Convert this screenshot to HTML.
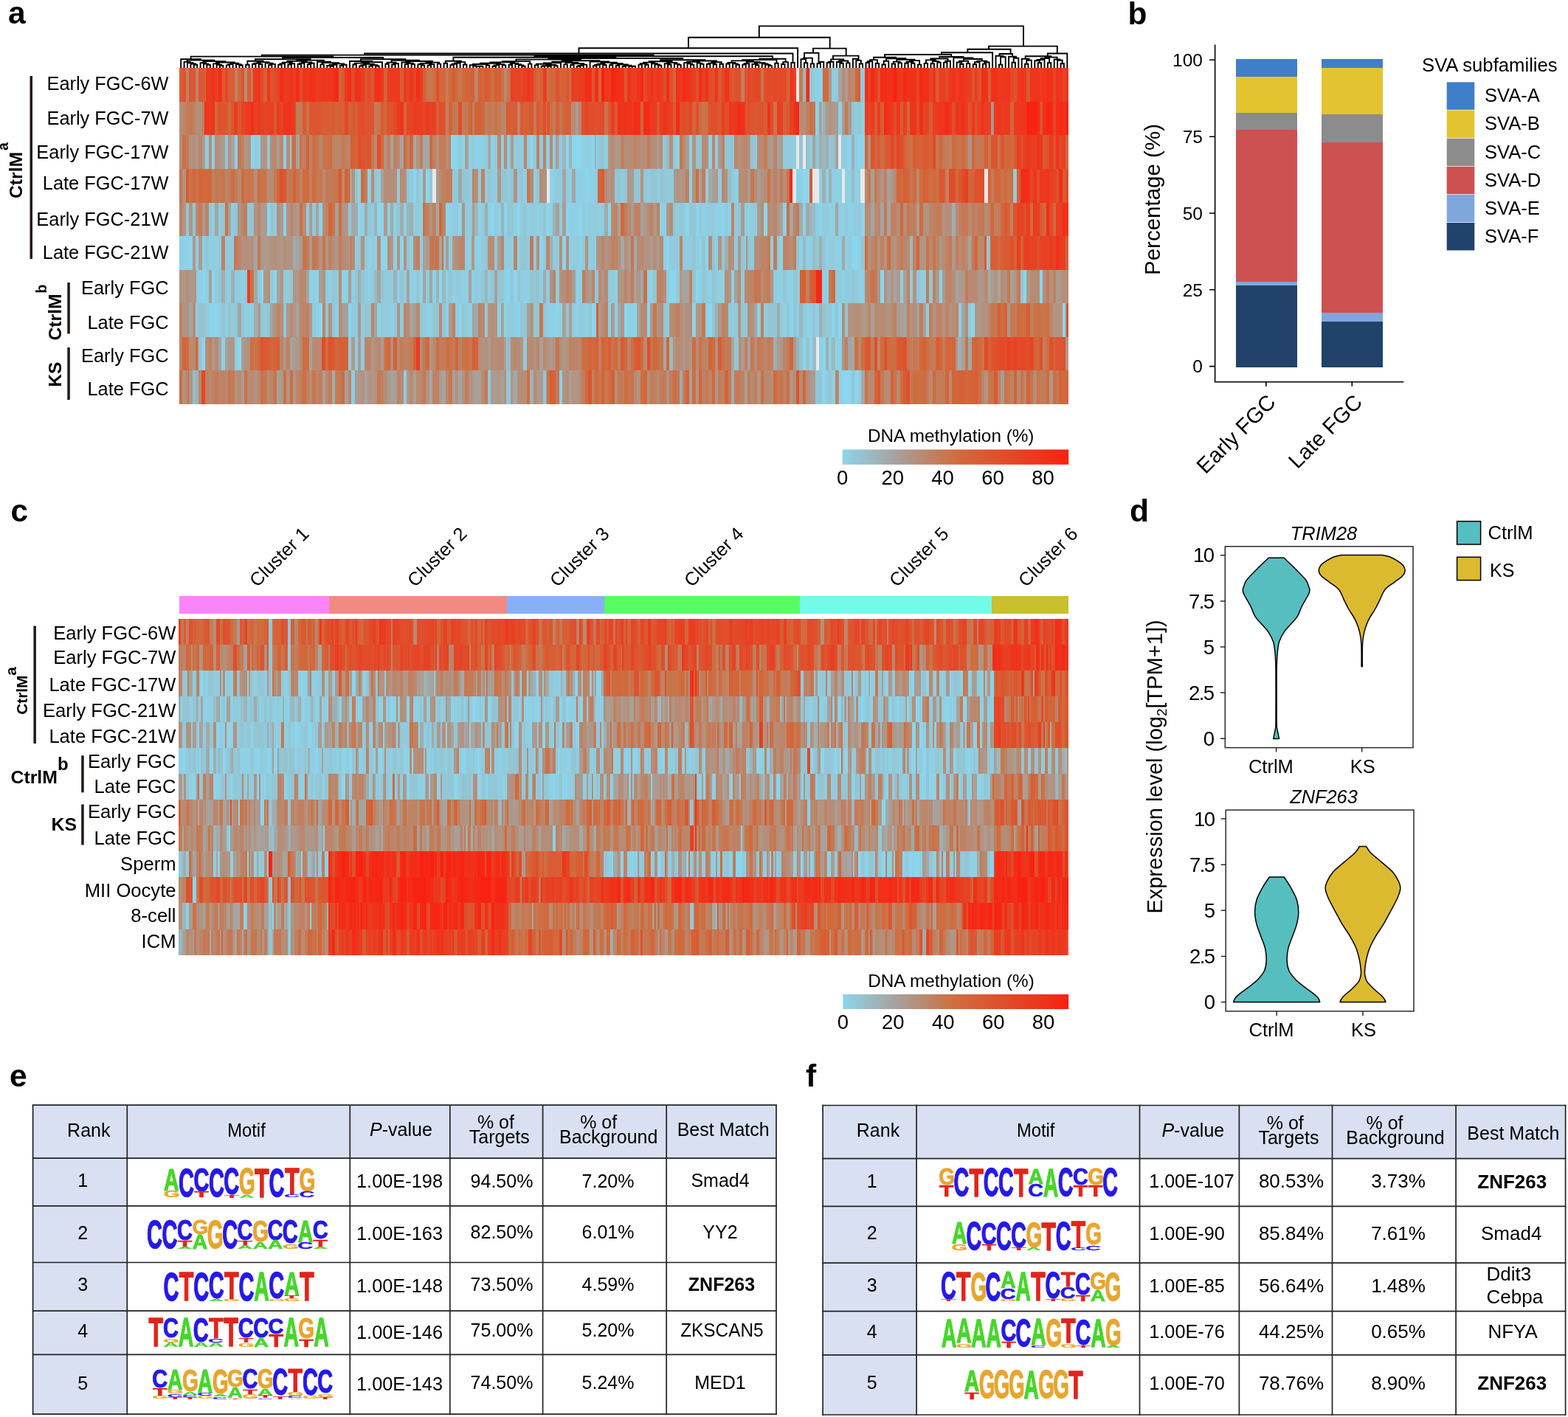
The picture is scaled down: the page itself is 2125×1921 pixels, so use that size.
<!DOCTYPE html>
<html lang="en"><head><meta charset="utf-8"><title>Figure</title><style>html,body{margin:0;padding:0;background:#fff}body{width:2125px;height:1921px;overflow:hidden}svg{display:block}text{white-space:pre}</style></head><body><svg width="2125" height="1921" viewBox="0 0 2125 1921" font-family="'Liberation Sans',Arial,sans-serif" fill="#000"><text x="11" y="32.3" font-size="42.5" font-weight="bold">a</text>
<text x="1528.5" y="32.5" font-size="42.5" font-weight="bold">b</text>
<text x="14.5" y="706.8" font-size="42.5" font-weight="bold">c</text>
<text x="1531" y="707.3" font-size="42.5" font-weight="bold">d</text>
<text x="13" y="1473.2" font-size="42.5" font-weight="bold">e</text>
<text x="1092" y="1473" font-size="42.5" font-weight="bold">f</text>
<defs><filter id="hbA" filterUnits="userSpaceOnUse" x="236" y="86" width="1220" height="468" color-interpolation-filters="sRGB"><feGaussianBlur stdDeviation="0.55 0.4"/></filter><filter id="hbC" filterUnits="userSpaceOnUse" x="236" y="832" width="1220" height="470" color-interpolation-filters="sRGB"><feGaussianBlur stdDeviation="0.55 0.4"/></filter></defs>
<path d="M262.8 92.3V87.8M267.2 92.3V87.8M262.8 87.8H267.2M258.4 92.3V86.5M265 87.8V86.5M258.4 86.5H265M254 92.3V85.2M261.7 86.5V85.2M254 85.2H261.7M249.6 92.3V83.9M257.8 85.2V83.9M249.6 83.9H257.8M280.4 92.3V87.9M284.8 92.3V87.9M280.4 87.9H284.8M276 92.3V86.6M282.6 87.9V86.6M276 86.6H282.6M271.6 92.3V85.3M279.3 86.6V85.3M271.6 85.3H279.3M298 92.3V89M302.4 92.3V89M298 89H302.4M293.6 92.3V87.7M300.2 89V87.7M293.6 87.7H300.2M289.2 92.3V86.4M296.9 87.7V86.4M289.2 86.4H296.9M306.8 92.3V88.4M311.2 92.3V88.4M306.8 88.4H311.2M309 88.4V87.1M315.6 92.3V87.1M309 87.1H315.6M324.4 92.3V88.5M328.8 92.3V88.5M324.4 88.5H328.8M320 92.3V87.2M326.6 88.5V87.2M320 87.2H326.6M312.3 87.1V85.8M323.3 87.2V85.8M312.3 85.8H323.3M293 86.4V84.5M317.8 85.8V84.5M293 84.5H317.8M275.4 85.3V83.1M305.4 84.5V83.1M275.4 83.1H305.4M253.7 83.9V81.6M290.4 83.1V81.6M253.7 81.6H290.4M245.2 92.3V80.3M272.1 81.6V80.3M245.2 80.3H272.1M333.2 92.3V87.7M337.6 92.3V87.7M333.2 87.7H337.6M342 92.3V87M346.4 92.3V87M342 87H346.4M350.8 92.3V87M355.2 92.3V87M350.8 87H355.2M344.2 87V85.7M353 87V85.7M344.2 85.7H353M364 92.3V88.2M368.4 92.3V88.2M364 88.2H368.4M366.2 88.2V86.9M372.8 92.3V86.9M366.2 86.9H372.8M359.6 92.3V85.6M369.5 86.9V85.6M359.6 85.6H369.5M348.6 85.7V84.1M364.5 85.6V84.1M348.6 84.1H364.5M335.4 87.7V82.8M356.6 84.1V82.8M335.4 82.8H356.6M377.2 92.3V87.7M381.6 92.3V87.7M377.2 87.7H381.6M379.4 87.7V86.4M386 92.3V86.4M379.4 86.4H386M390.4 92.3V87.5M394.8 92.3V87.5M390.4 87.5H394.8M392.6 87.5V86.2M399.2 92.3V86.2M392.6 86.2H399.2M382.7 86.4V84.6M395.9 86.2V84.6M382.7 84.6H395.9M403.6 92.3V87M408 92.3V87M403.6 87H408M405.8 87V85.7M412.4 92.3V85.7M405.8 85.7H412.4M416.8 92.3V87.3M421.2 92.3V87.3M416.8 87.3H421.2M419 87.3V85.8M425.6 92.3V85.8M419 85.8H425.6M409.1 85.7V84.4M422.3 85.8V84.4M409.1 84.4H422.3M389.3 84.6V82.9M415.7 84.4V82.9M389.3 82.9H415.7M434.4 92.3V87.4M438.8 92.3V87.4M434.4 87.4H438.8M447.6 92.3V89.7M452 92.3V89.7M447.6 89.7H452M443.2 92.3V89M449.8 89.7V89M443.2 89H449.8M446.5 89V87.7M456.4 92.3V87.7M446.5 87.7H456.4M460.8 92.3V89M465.2 92.3V89M460.8 89H465.2M463 89V87.7M469.6 92.3V87.7M463 87.7H469.6M451.4 87.7V86.4M466.3 87.7V86.4M451.4 86.4H466.3M436.6 87.4V85.1M458.9 86.4V85.1M436.6 85.1H458.9M430 92.3V83.8M447.7 85.1V83.8M430 83.8H447.7M402.5 82.9V81.6M438.9 83.8V81.6M402.5 81.6H438.9M346 82.8V80.3M420.7 81.6V80.3M346 80.3H420.7M478.4 92.3V87.5M482.8 92.3V87.5M478.4 87.5H482.8M487.2 92.3V89.5M491.6 92.3V89.5M487.2 89.5H491.6M489.4 89.5V88.2M496 92.3V88.2M489.4 88.2H496M500.4 92.3V89.5M504.8 92.3V89.5M500.4 89.5H504.8M509.2 92.3V89.5M513.6 92.3V89.5M509.2 89.5H513.6M502.6 89.5V88.2M511.4 89.5V88.2M502.6 88.2H511.4M492.7 88.2V86.9M507 88.2V86.9M492.7 86.9H507M480.6 87.5V85.6M499.8 86.9V85.6M480.6 85.6H499.8M490.2 85.6V84.3M518 92.3V84.3M490.2 84.3H518M474 92.3V83M504.1 84.3V83M474 83H504.1M522.4 92.3V86.7M526.8 92.3V86.7M522.4 86.7H526.8M531.2 92.3V87.5M535.6 92.3V87.5M531.2 87.5H535.6M533.4 87.5V86.2M540 92.3V86.2M533.4 86.2H540M524.6 86.7V84.6M536.7 86.2V84.6M524.6 84.6H536.7M548.8 92.3V87.1M553.2 92.3V87.1M548.8 87.1H553.2M557.6 92.3V87.1M562 92.3V87.1M557.6 87.1H562M551 87.1V85.8M559.8 87.1V85.8M551 85.8H559.8M544.4 92.3V84.5M555.4 85.8V84.5M544.4 84.5H555.4M570.8 92.3V88.5M575.2 92.3V88.5M570.8 88.5H575.2M566.4 92.3V87.2M573 88.5V87.2M566.4 87.2H573M579.6 92.3V88.6M584 92.3V88.6M579.6 88.6H584M581.8 88.6V87.3M588.4 92.3V87.3M581.8 87.3H588.4M569.7 87.2V85.9M585.1 87.3V85.9M569.7 85.9H585.1M592.8 92.3V86.6M597.2 92.3V86.6M592.8 86.6H597.2M577.4 85.9V84.6M595 86.6V84.6M577.4 84.6H595M549.9 84.5V83M586.2 84.6V83M549.9 83H586.2M530.6 84.6V81.7M568 83V81.7M530.6 81.7H568M489 83V80.2M549.3 81.7V80.2M489 80.2H549.3M383.3 80.3V78M519.2 80.2V78M383.3 78H519.2M258.6 80.3V76.6M451.3 78V76.6M258.6 76.6H451.3M601.6 92.3V85.7M606 92.3V85.7M601.6 85.7H606M610.4 92.3V88.1M614.8 92.3V88.1M610.4 88.1H614.8M612.6 88.1V86.8M619.2 92.3V86.8M612.6 86.8H619.2M615.9 86.8V85.5M623.6 92.3V85.5M615.9 85.5H623.6M628 92.3V87.5M632.4 92.3V87.5M628 87.5H632.4M619.7 85.5V84.1M630.2 87.5V84.1M619.7 84.1H630.2M603.8 85.7V82.8M624.9 84.1V82.8M603.8 82.8H624.9M650 92.3V89.7M654.4 92.3V89.7M650 89.7H654.4M645.6 92.3V89.7M652.2 89.7V89.7M645.6 89.7H652.2M641.2 92.3V89.6M648.9 89.7V89.6M641.2 89.6H648.9M636.8 92.3V88.3M645 89.6V88.3M636.8 88.3H645M658.8 92.3V88.5M663.2 92.3V88.5M658.8 88.5H663.2M640.9 88.3V87M661 88.5V87M640.9 87H661M667.6 92.3V89.7M672 92.3V89.7M667.6 89.7H672M669.8 89.7V88.4M676.4 92.3V88.4M669.8 88.4H676.4M680.8 92.3V88.4M685.2 92.3V88.4M680.8 88.4H685.2M673.1 88.4V87.1M683 88.4V87.1M673.1 87.1H683M650.9 87V85.7M678 87.1V85.7M650.9 85.7H678M689.6 92.3V87.7M694 92.3V87.7M689.6 87.7H694M707.2 92.3V89.7M711.6 92.3V89.7M707.2 89.7H711.6M702.8 92.3V88.4M709.4 89.7V88.4M702.8 88.4H709.4M698.4 92.3V87.1M706.1 88.4V87.1M698.4 87.1H706.1M691.8 87.7V85.8M702.2 87.1V85.8M691.8 85.8H702.2M664.5 85.7V84.4M697 85.8V84.4M664.5 84.4H697M716 92.3V86.6M720.4 92.3V86.6M716 86.6H720.4M680.7 84.4V83.1M718.2 86.6V83.1M680.7 83.1H718.2M724.8 92.3V88.4M729.2 92.3V88.4M724.8 88.4H729.2M733.6 92.3V89.7M738 92.3V89.7M733.6 89.7H738M742.4 92.3V89.7M746.8 92.3V89.7M742.4 89.7H746.8M735.8 89.7V89.3M744.6 89.7V89.3M735.8 89.3H744.6M751.2 92.3V89.3M755.6 92.3V89.3M751.2 89.3H755.6M740.2 89.3V88M753.4 89.3V88M740.2 88H753.4M727 88.4V86.7M746.8 88V86.7M727 86.7H746.8M736.9 86.7V85.4M760 92.3V85.4M736.9 85.4H760M764.4 92.3V87.4M768.8 92.3V87.4M764.4 87.4H768.8M773.2 92.3V88M777.6 92.3V88M773.2 88H777.6M782 92.3V89.7M786.4 92.3V89.7M782 89.7H786.4M784.2 89.7V88.9M790.8 92.3V88.9M784.2 88.9H790.8M787.5 88.9V87.6M795.2 92.3V87.6M787.5 87.6H795.2M775.4 88V86.3M791.3 87.6V86.3M775.4 86.3H791.3M766.6 87.4V85M783.3 86.3V85M766.6 85H783.3M748.4 85.4V83.7M774.9 85V83.7M748.4 83.7H774.9M804 92.3V89.3M808.4 92.3V89.3M804 89.3H808.4M806.2 89.3V88M812.8 92.3V88M806.2 88H812.8M817.2 92.3V88M821.6 92.3V88M817.2 88H821.6M809.5 88V86.7M819.4 88V86.7M809.5 86.7H819.4M826 92.3V88.2M830.4 92.3V88.2M826 88.2H830.4M834.8 92.3V88.7M839.2 92.3V88.7M834.8 88.7H839.2M843.6 92.3V89.7M847.9 92.3V89.7M843.6 89.7H847.9M856.7 92.3V89.7M861.1 92.3V89.7M856.7 89.7H861.1M852.3 92.3V89.7M858.9 89.7V89.7M852.3 89.7H858.9M845.8 89.7V88.7M855.6 89.7V88.7M845.8 88.7H855.6M837 88.7V87.4M850.7 88.7V87.4M837 87.4H850.7M828.2 88.2V86.1M843.8 87.4V86.1M828.2 86.1H843.8M814.4 86.7V84.8M836 86.1V84.8M814.4 84.8H836M799.6 92.3V83.5M825.2 84.8V83.5M799.6 83.5H825.2M761.7 83.7V82.2M812.4 83.5V82.2M761.7 82.2H812.4M699.4 83.1V80.6M787 82.2V80.6M699.4 80.6H787M865.5 92.3V87.6M869.9 92.3V87.6M865.5 87.6H869.9M874.3 92.3V87.8M878.7 92.3V87.8M874.3 87.8H878.7M867.7 87.6V86.3M876.5 87.8V86.3M867.7 86.3H876.5M891.9 92.3V88.8M896.3 92.3V88.8M891.9 88.8H896.3M887.5 92.3V87.5M894.1 88.8V87.5M887.5 87.5H894.1M883.1 92.3V86.2M890.8 87.5V86.2M883.1 86.2H890.8M872.1 86.3V84.6M887 86.2V84.6M872.1 84.6H887M905.1 92.3V87.5M909.5 92.3V87.5M905.1 87.5H909.5M900.7 92.3V86.2M907.3 87.5V86.2M900.7 86.2H907.3M918.3 92.3V87.9M922.7 92.3V87.9M918.3 87.9H922.7M913.9 92.3V86.6M920.5 87.9V86.6M913.9 86.6H920.5M904 86.2V84.9M917.2 86.6V84.9M904 84.9H917.2M879.6 84.6V83.3M910.6 84.9V83.3M879.6 83.3H910.6M935.9 92.3V87.7M940.3 92.3V87.7M935.9 87.7H940.3M931.5 92.3V86.4M938.1 87.7V86.4M931.5 86.4H938.1M927.1 92.3V85.1M934.8 86.4V85.1M927.1 85.1H934.8M949.1 92.3V86.9M953.5 92.3V86.9M949.1 86.9H953.5M944.7 92.3V85.6M951.3 86.9V85.6M944.7 85.6H951.3M931 85.1V83.8M948 85.6V83.8M931 83.8H948M957.9 92.3V86.9M962.3 92.3V86.9M957.9 86.9H962.3M966.7 92.3V87.2M971.1 92.3V87.2M966.7 87.2H971.1M960.1 86.9V85.6M968.9 87.2V85.6M960.1 85.6H968.9M975.5 92.3V86.7M979.9 92.3V86.7M975.5 86.7H979.9M964.5 85.6V84.3M977.7 86.7V84.3M964.5 84.3H977.7M939.5 83.8V82.5M971.1 84.3V82.5M939.5 82.5H971.1M895.1 83.3V81.2M955.3 82.5V81.2M895.1 81.2H955.3M743.2 80.6V79.1M925.2 81.2V79.1M743.2 79.1H925.2M614.4 82.8V77.8M834.2 79.1V77.8M614.4 77.8H834.2M984.3 92.3V86.5M988.7 92.3V86.5M984.3 86.5H988.7M997.5 92.3V87.7M1001.9 92.3V87.7M997.5 87.7H1001.9M993.1 92.3V86.4M999.7 87.7V86.4M993.1 86.4H999.7M986.5 86.5V85M996.4 86.4V85M986.5 85H996.4M1006.3 92.3V87.6M1010.7 92.3V87.6M1006.3 87.6H1010.7M1008.5 87.6V86.3M1015.1 92.3V86.3M1008.5 86.3H1015.1M1023.9 92.3V88.2M1028.3 92.3V88.2M1023.9 88.2H1028.3M1019.5 92.3V86.9M1026.1 88.2V86.9M1019.5 86.9H1026.1M1041.5 92.3V89.1M1045.9 92.3V89.1M1041.5 89.1H1045.9M1037.1 92.3V87.8M1043.7 89.1V87.8M1037.1 87.8H1043.7M1032.7 92.3V86.5M1040.4 87.8V86.5M1032.7 86.5H1040.4M1022.8 86.9V85.2M1036.6 86.5V85.2M1022.8 85.2H1036.6M1011.8 86.3V83.9M1029.7 85.2V83.9M1011.8 83.9H1029.7M991.5 85V82.4M1020.8 83.9V82.4M991.5 82.4H1020.8M1050.3 92.3V85.7M1054.7 92.3V85.7M1050.3 85.7H1054.7M1006.1 82.4V81.1M1052.5 85.7V81.1M1006.1 81.1H1052.5M1059.1 92.3V87M1063.5 92.3V87M1059.1 87H1063.5M1061.3 87V84.1M1067.9 92.3V84.1M1061.3 84.1H1067.9M1029.3 81.1V79.8M1064.6 84.1V79.8M1029.3 79.8H1064.6M724.3 77.8V76.2M1047 79.8V76.2M724.3 76.2H1047M354.9 76.6V74.6M885.6 76.2V74.6M354.9 74.6H885.6M1072.3 92.3V85M1076.7 92.3V85M1072.3 85H1076.7M494 74.6V72.5M1074.5 85V72.5M494 72.5H1074.5M784.5 72.5V65.2M1081.1 92.3V65.2M784.5 65.2H1081.1M1089.9 92.3V85.3M1094.3 92.3V85.3M1089.9 85.3H1094.3M1085.5 92.3V80.2M1092.1 85.3V80.2M1085.5 80.2H1092.1M1098.7 92.3V86.4M1103.1 92.3V86.4M1098.7 86.4H1103.1M1088.8 80.2V78.6M1100.9 86.4V78.6M1088.8 78.6H1100.9M1107.5 92.3V86.1M1111.9 92.3V86.1M1107.5 86.1H1111.9M1109.7 86.1V84M1116.3 92.3V84M1109.7 84H1116.3M1090 78.6V71.8M1109.5 84V71.8M1090 71.8H1109.5M1120.7 92.3V85M1125.1 92.3V85M1120.7 85H1125.1M1122.9 85V83.7M1129.5 92.3V83.7M1122.9 83.7H1129.5M1138.3 92.3V85.8M1142.7 92.3V85.8M1138.3 85.8H1142.7M1133.9 92.3V84M1140.5 85.8V84M1133.9 84H1140.5M1147.1 92.3V85.4M1151.5 92.3V85.4M1147.1 85.4H1151.5M1137.2 84V82.5M1149.3 85.4V82.5M1137.2 82.5H1149.3M1126.2 83.7V80.4M1143.3 82.5V80.4M1126.2 80.4H1143.3M1164.7 92.3V86.5M1169.1 92.3V86.5M1164.7 86.5H1169.1M1160.3 92.3V81.9M1166.9 86.5V81.9M1160.3 81.9H1166.9M1155.9 92.3V79.8M1163.6 81.9V79.8M1155.9 79.8H1163.6M1129 80.4V75.6M1163.6 79.8V75.6M1129 75.6H1163.6M1102 71.8V65.6M1146.7 75.6V65.6M1102 65.6H1146.7M1173.5 92.3V85M1177.9 92.3V85M1173.5 85H1177.9M1175.7 85V83.2M1182.3 92.3V83.2M1175.7 83.2H1182.3M1186.7 92.3V86M1191.1 92.3V86M1186.7 86H1191.1M1179 83.2V81.1M1188.9 86V81.1M1179 81.1H1188.9M1195.5 92.3V87.5M1199.9 92.3V87.5M1195.5 87.5H1199.9M1197.7 87.5V82.7M1204.3 92.3V82.7M1197.7 82.7H1204.3M1208.7 92.3V86.5M1213.1 92.3V86.5M1208.7 86.5H1213.1M1217.5 92.3V85.4M1221.9 92.3V85.4M1217.5 85.4H1221.9M1210.9 86.5V83.6M1219.7 85.4V83.6M1210.9 83.6H1219.7M1226.3 92.3V85.7M1230.7 92.3V85.7M1226.3 85.7H1230.7M1235.1 92.3V85.8M1239.5 92.3V85.8M1235.1 85.8H1239.5M1228.5 85.7V83.8M1237.3 85.8V83.8M1228.5 83.8H1237.3M1243.9 92.3V87.6M1248.3 92.3V87.6M1243.9 87.6H1248.3M1232.9 83.8V82.1M1246.1 87.6V82.1M1232.9 82.1H1246.1M1215.3 83.6V80.8M1239.5 82.1V80.8M1215.3 80.8H1239.5M1201 82.7V79.2M1227.4 80.8V79.2M1201 79.2H1227.4M1184 81.1V77.7M1214.2 79.2V77.7M1184 77.7H1214.2M1252.7 92.3V85.9M1257.1 92.3V85.9M1252.7 85.9H1257.1M1261.5 92.3V86.2M1265.9 92.3V86.2M1261.5 86.2H1265.9M1270.3 92.3V84.6M1274.7 92.3V84.6M1270.3 84.6H1274.7M1263.7 86.2V83.1M1272.5 84.6V83.1M1263.7 83.1H1272.5M1254.9 85.9V81.4M1268.1 83.1V81.4M1254.9 81.4H1268.1M1279.1 92.3V84.6M1283.5 92.3V84.6M1279.1 84.6H1283.5M1281.3 84.6V82.7M1287.9 92.3V82.7M1281.3 82.7H1287.9M1261.5 81.4V79.5M1284.6 82.7V79.5M1261.5 79.5H1284.6M1301.1 92.3V87M1305.5 92.3V87M1301.1 87H1305.5M1296.7 92.3V84.5M1303.3 87V84.5M1296.7 84.5H1303.3M1309.9 92.3V86.1M1314.3 92.3V86.1M1309.9 86.1H1314.3M1300 84.5V82.8M1312.1 86.1V82.8M1300 82.8H1312.1M1318.7 92.3V87.3M1323.1 92.3V87.3M1318.7 87.3H1323.1M1320.9 87.3V84.2M1327.5 92.3V84.2M1320.9 84.2H1327.5M1331.9 92.3V86.6M1336.3 92.3V86.6M1331.9 86.6H1336.3M1334.1 86.6V84.5M1340.7 92.3V84.5M1334.1 84.5H1340.7M1324.2 84.2V82.6M1337.4 84.5V82.6M1324.2 82.6H1337.4M1306.1 82.8V80M1330.8 82.6V80M1306.1 80H1330.8M1292.3 92.3V78.4M1318.4 80V78.4M1292.3 78.4H1318.4M1273.1 79.5V77M1305.4 78.4V77M1273.1 77H1305.4M1199.1 77.7V74M1289.2 77V74M1199.1 74H1289.2M1276 74V71.3M1345.1 92.3V71.3M1276 71.3H1345.1M1353.9 92.3V87.6M1358.3 92.3V87.6M1353.9 87.6H1358.3M1356.1 87.6V77.3M1362.7 92.3V77.3M1356.1 77.3H1362.7M1349.5 92.3V75.8M1359.4 77.3V75.8M1349.5 75.8H1359.4M1371.5 92.3V84.8M1375.9 92.3V84.8M1371.5 84.8H1375.9M1373.7 84.8V78.8M1380.3 92.3V78.8M1373.7 78.8H1380.3M1367.1 92.3V76.7M1377 78.8V76.7M1367.1 76.7H1377M1354.5 75.8V73M1372.1 76.7V73M1354.5 73H1372.1M1311.4 71.3V66.8M1369.6 73V66.8M1311.4 66.8H1369.6M1389.1 92.3V86.7M1393.5 92.3V86.7M1389.1 86.7H1393.5M1391.3 86.7V81.7M1397.9 92.3V81.7M1391.3 81.7H1397.9M1384.7 92.3V79.8M1394.6 81.7V79.8M1384.7 79.8H1394.6M1406.7 92.3V85.2M1411.1 92.3V85.2M1406.7 85.2H1411.1M1402.3 92.3V82.3M1408.9 85.2V82.3M1402.3 82.3H1408.9M1405.6 82.3V81M1415.5 92.3V81M1405.6 81H1415.5M1419.9 92.3V85.2M1424.3 92.3V85.2M1419.9 85.2H1424.3M1410.6 81V79.1M1422.1 85.2V79.1M1410.6 79.1H1422.1M1437.5 92.3V86.3M1441.9 92.3V86.3M1437.5 86.3H1441.9M1433.1 92.3V81.8M1439.7 86.3V81.8M1433.1 81.8H1439.7M1428.7 92.3V80.5M1436.4 81.8V80.5M1428.7 80.5H1436.4M1416.3 79.1V77.6M1432.6 80.5V77.6M1416.3 77.6H1432.6M1389.7 79.8V76.3M1424.4 77.6V76.3M1389.7 76.3H1424.4M1419.8 76.3V72.5M1446.3 92.3V72.5M1419.8 72.5H1446.3M1340 66.8V62.6M1432.8 72.5V62.6M1340 62.6H1432.8M933 65.2V50.8M1124.7 65.6V50.8M933 50.8H1124.7M1028.8 50.8V35.4M1387 62.6V35.4M1028.8 35.4H1387" fill="none" stroke="#000" stroke-width="1.9" stroke-linecap="square"/>
<clipPath id="cphbA"><rect x="243" y="92" width="1205" height="456"/></clipPath><g clip-path="url(#cphbA)"><g fill="none" filter="url(#hbA)" shape-rendering="crispEdges"><g stroke-width="50"><path d="M239 113h8.4M309 113h8.8M335.4 113h4.4M542.2 113h4.4M573 113h4.4M612.6 113h4.4M647.8 113h4.4M661 113h4.4M669.8 113h8.8" stroke="#d75e35"/><path d="M247.4 113h4.4M326.6 113h4.4M366.2 113h4.4M493.8 113h4.4M753.4 113h4.4M1008.5 113h4.4M1188.9 113h4.4M1316.5 113h4.4M1325.3 113h4.4M1373.7 113h4.4" stroke="#dd542f"/><path d="M251.8 113h4.4M317.8 113h4.4" stroke="#c08162"/><path d="M256.2 113h8.8M269.4 113h4.4M502.6 113h4.4M766.6 113h4.4M801.8 113h4.4M845.8 113h4.4M990.9 113h4.4M1070.1 113h0.9" stroke="#db5731"/><path d="M265 113h4.4M643.4 113h4.4M1149.3 113h4.4" stroke="#bc856a"/><path d="M273.8 113h4.4M301 113h3.6M463 113h4.4M656.6 113h4.4M722.6 113h4.4M973.3 113h4.4M1268.1 113h4.4M1391.3 113h4.4" stroke="#d95a33"/><path d="M278.2 113h0.8M608.2 113h4.4M617 113h4.4M1115 113h7.5" stroke="#d06b3d"/><path d="M279 113h3.6M343 113h5.6M388.2 113h4.4M414.6 113h4.4M432.2 113h4.4M441 113h4.4M467.4 113h4.4M515.8 113h4.4M524.6 113h17.6M546.6 113h4.4M790 113h3M823.8 113h4.4M876.5 113h4.4M1184.5 113h4.4M1219.7 113h4.4M1307.7 113h4.4M1351.7 113h4.4M1378.1 113h4.4M1386.9 113h4.4M1408.9 113h4.4" stroke="#ec391f"/><path d="M282.6 113h4.4M300.2 113h0.8M383.8 113h4.4M397 113h4.4M427.8 113h4.4M718.2 113h4.4M735.8 113h4.4M784.2 113h5.8M858.9 113h4.4M894.1 113h4.4M920.5 113h4.4M1272.5 113h4.4M1294.5 113h4.4M1320.9 113h4.4" stroke="#ea3c21"/><path d="M287 113h4.4M392.6 113h4.4M423.4 113h4.4M449.8 113h4.4M485 113h4.4M507 113h4.4M841.4 113h4.4M863.3 113h4.4M880.9 113h4.4M916.1 113h4.4M929.3 113h4.4M968.9 113h4.4M982.1 113h4.4M1071 113h3.5M1202.1 113h4.4M1228.5 113h13.2M1263.7 113h4.4M1290.1 113h4.4M1298.9 113h4.4M1334.1 113h4.4M1347.3 113h4.4M1364.9 113h4.4M1382.5 113h4.4M1430.9 113h4.4" stroke="#f0321b"/><path d="M291.4 113h4.4M489.4 113h4.4M568.6 113h4.4M692 113h4.2M709.4 113h4.4M775.4 113h4.4M854.5 113h4.4M885.3 113h4.4M938.1 113h4.4M951.3 113h4.4M1074.5 113h4.5M1175.7 113h4.4M1276.9 113h4.4M1312.1 113h4.4" stroke="#e83f23"/><path d="M295.8 113h4.4M419 113h4.4M480.6 113h4.4M511.4 113h4.4M564.2 113h4.4M806.2 113h4.4M837 113h4.4M850.1 113h4.4M955.7 113h4.4M986.5 113h1.5M1171.5 113h4.2M1206.5 113h4.4M1250.5 113h8.8M1329.7 113h4.4M1342.9 113h4.4M1417.7 113h8.8" stroke="#f22f19"/><path d="M304.6 113h4.4M375 113h4.4M551 113h4.4M559.8 113h4.4M696.2 113h13.2M740.2 113h0.8M977.7 113h4.4M1012.9 113h4.4M1021.7 113h8.8M1048.1 113h4.4M1056.9 113h4.4M1241.7 113h4.4M1426.5 113h4.4" stroke="#e44627"/><path d="M322.2 113h4.4M595 113h8.8M625.8 113h4.4M727 113h4.4M749 113h4.4M1158.6 113h3.9" stroke="#d2683b"/><path d="M331 113h4.4" stroke="#b58e79"/><path d="M339.8 113h3.2M581.8 113h4.4M621.4 113h4.4M1083 113h4.7" stroke="#c67852"/><path d="M348.6 113h4.4M361.8 113h4.4M410.2 113h4.4M436.6 113h4.4M445.4 113h4.4M555.4 113h4.4M713.8 113h4.4M819.4 113h4.4M889.7 113h4.4M933.7 113h4.4M1215.3 113h4.4M1285.7 113h4.4M1303.3 113h4.4M1356.1 113h8.8M1395.7 113h13.2M1413.3 113h4.4M1435.3 113h4.4M1444.1 113h8.4" stroke="#ee351d"/><path d="M353 113h4.4M476.2 113h4.4M498.2 113h4.4M774 113h1.4M872.1 113h4.4M1039.3 113h4.4M1052.5 113h4.4M1061.3 113h4.4M1281.3 113h4.4M1369.3 113h4.4" stroke="#e34a29"/><path d="M357.4 113h4.4M520.2 113h4.4M639 113h4.4M731.4 113h4.4M757.8 113h8.8M1162.5 113h3.9M1338.5 113h4.4" stroke="#d66137"/><path d="M370.6 113h4.4M405.8 113h4.4M960.1 113h4.4M988 113h2.9M1017.3 113h4.4M1043.7 113h4.4" stroke="#e14d2b"/><path d="M379.4 113h4.4M401.4 113h4.4M471.8 113h4.4M793 113h8.8M832.6 113h4.4M867.7 113h4.4M902.9 113h4.4M924.9 113h4.4M946.9 113h4.4M1180.1 113h4.4M1193.3 113h8.8M1246.1 113h4.4" stroke="#f32b17"/><path d="M454.2 113h4.4M1093 113h4M1224.1 113h4.4" stroke="#f52815"/><path d="M458.6 113h4.4M630.2 113h8.8M652.2 113h4.4M744.6 113h4.4M810.6 113h4.4M911.7 113h4.4M1065.7 113h4.4" stroke="#d46539"/><path d="M577.4 113h4.4M687.4 113h4.6M1030.5 113h4.4" stroke="#ca744a"/><path d="M586.2 113h4.4M665.4 113h4.4M678.6 113h4.4M741 113h3.6M771 113h3M1092.1 113h0.9" stroke="#cd6f42"/><path d="M590.6 113h4.4M898.5 113h4.4M907.3 113h4.4M942.5 113h4.4M964.5 113h4.4M995.3 113h8.8M1034.9 113h4.4" stroke="#df502d"/><path d="M603.8 113h4.4M1004.1 113h4.4" stroke="#c37c5a"/><path d="M683 113h4.4M1140.6 113h4.3M1153.7 113h4.9" stroke="#b98a71"/><path d="M779.8 113h4.4M1259.3 113h4.4M1439.7 113h4.4" stroke="#e64325"/><path d="M815 113h4.4M1210.9 113h4.4" stroke="#f92111"/><path d="M828.2 113h4.4" stroke="#f72413"/><path d="M1079 113h4" stroke="#e8e8e8"/><path d="M1087.7 113h4.4" stroke="#9db3b7"/><path d="M1097 113h3.9" stroke="#93c6d5"/><path d="M1100.9 113h5.1M1114.1 113h0.9M1127.3 113h8.8M1166.4 113h5.1" stroke="#91cbdd"/><path d="M1106 113h3.7" stroke="#8ed0e4"/><path d="M1109.7 113h4.4" stroke="#8cd5ec"/><path d="M1122.5 113h4.8" stroke="#af9789"/><path d="M1136.1 113h4.5" stroke="#a5a4a1"/><path d="M1144.9 113h4.4" stroke="#ab9b91"/></g><g stroke-width="45"><path d="M239 160.5h8.4M265 160.5h8.8M1087.7 160.5h4.4" stroke="#b58e79"/><path d="M247.4 160.5h4.4M678.6 160.5h7.4M700.6 160.5h4.4M784.2 160.5h3.8" stroke="#bc856a"/><path d="M251.8 160.5h4.4M273.8 160.5h3.2M401.4 160.5h8.8M507 160.5h4.4M625.8 160.5h4.4M665.4 160.5h4.4M674.2 160.5h4.4M722.6 160.5h4.4M749 160.5h4.4" stroke="#c37c5a"/><path d="M256.2 160.5h4.4M612.6 160.5h8.8M630.2 160.5h4.4M661 160.5h4.4M740.2 160.5h0.8M757.8 160.5h4.4M1100.9 160.5h3.6M1144.9 160.5h4.4" stroke="#c67852"/><path d="M260.6 160.5h4.4M603.8 160.5h4.4M640 160.5h3.4M656.6 160.5h4.4M1092.1 160.5h4.4" stroke="#c08162"/><path d="M277 160.5h1.2M339.8 160.5h4.4M837 160.5h4.4M845.8 160.5h4.4M863.3 160.5h4.4M1246.1 160.5h4.4M1413.3 160.5h4.4" stroke="#f22f19"/><path d="M278.2 160.5h4.4M287 160.5h4.4M383.8 160.5h4.4M392.6 160.5h4.4M542.2 160.5h4.4M841.4 160.5h4.4M850.1 160.5h8.8M995.3 160.5h4.4M1040 160.5h3.7M1074.5 160.5h4.5M1202.1 160.5h4.4M1215.3 160.5h4.4M1237.3 160.5h4.4M1272.5 160.5h8.8M1285.7 160.5h4.4M1316.5 160.5h4.4M1382.5 160.5h8.5" stroke="#ee351d"/><path d="M282.6 160.5h4.4M397 160.5h3M568.6 160.5h4.4M828 160.5h4.6M894.1 160.5h4.4M990.9 160.5h4.4M1052.5 160.5h4.4M1180.1 160.5h4.4M1263.7 160.5h4.4M1307.7 160.5h4.4M1356.1 160.5h4.4" stroke="#ea3c21"/><path d="M291.4 160.5h3.6M520.2 160.5h3.8M634.6 160.5h4.4M652.2 160.5h4.4M1228.5 160.5h4.4" stroke="#d2683b"/><path d="M295 160.5h5.2M485 160.5h4.4M788 160.5h5M797.4 160.5h4.4M806.2 160.5h4.4M921 160.5h3.9M929.3 160.5h4.4M942.5 160.5h4.4M960.1 160.5h13.2M1012.9 160.5h4.4M1241.7 160.5h4.4M1320.9 160.5h4.4" stroke="#df502d"/><path d="M300.2 160.5h4.4M313.4 160.5h3.6M419 160.5h4.4M427.8 160.5h4.4M493.8 160.5h13.2M524 160.5h9.4M599.4 160.5h4.4M639 160.5h1M741 160.5h3.6M986.5 160.5h1.5M1017.3 160.5h4.4M1026.1 160.5h8.8M1312.1 160.5h4.4M1408.9 160.5h4.4" stroke="#dd542f"/><path d="M304.6 160.5h4.4M322.2 160.5h4.4M370.6 160.5h4.4M423.4 160.5h4.4M432.2 160.5h4.4M686 160.5h1.4M718.2 160.5h4.4M727 160.5h4.4M823.8 160.5h4.2M889.7 160.5h4.4M973.3 160.5h4.4M1021.7 160.5h4.4" stroke="#db5731"/><path d="M309 160.5h4.4M946.9 160.5h4.4" stroke="#d06b3d"/><path d="M317 160.5h5.2M331 160.5h4.4M366.2 160.5h4.4M564.2 160.5h4.4M586.2 160.5h4.8M907.3 160.5h4.4M977.7 160.5h4.4M1008.5 160.5h2.5M1056.9 160.5h4.4M1224.1 160.5h4.4M1325.3 160.5h4.4M1334.1 160.5h8.9" stroke="#e83f23"/><path d="M326.6 160.5h4.4M344.2 160.5h4.4M353 160.5h4.4M361.8 160.5h4.4M379.4 160.5h4.4M555.4 160.5h4.4M581.8 160.5h4.4M793 160.5h4.4M1070.1 160.5h4.4M1250.5 160.5h8.8" stroke="#e64325"/><path d="M335.4 160.5h4.4M348.6 160.5h4.4M375 160.5h4.4M537.8 160.5h4.4M559.8 160.5h4.4M577.4 160.5h4.4M880.9 160.5h8.8M902.9 160.5h4.4M1171.5 160.5h4.2M1188.9 160.5h4.4M1206.5 160.5h4.4M1268.1 160.5h4.4M1298.9 160.5h4.4M1347 160.5h4.7M1360.5 160.5h8.8M1373.7 160.5h8.8" stroke="#ec391f"/><path d="M357.4 160.5h4.4M551 160.5h4.4M573 160.5h4.4M933.7 160.5h4.4M1175.7 160.5h4.4M1426.5 160.5h4.4" stroke="#e44627"/><path d="M388.2 160.5h4.4M898.5 160.5h4.4M988 160.5h2.9M1004.1 160.5h4.4M1232.9 160.5h4.4M1294.5 160.5h4.4M1303.3 160.5h4.4M1329.7 160.5h4.4M1351.7 160.5h4.4M1439.7 160.5h4.4" stroke="#f0321b"/><path d="M400 160.5h1.4M489.4 160.5h4.4M595 160.5h4.4M621.4 160.5h4.4M735.8 160.5h4.4M815 160.5h4.4M924.9 160.5h4.4M982.1 160.5h4.4M1043.7 160.5h4.4M1290.1 160.5h4.4" stroke="#e14d2b"/><path d="M410.2 160.5h4.4M441 160.5h4.4M449.8 160.5h4.4M476.2 160.5h4.4M515.8 160.5h4.4M696.2 160.5h4.4M705 160.5h4.4M832.6 160.5h4.4M911.7 160.5h4.4M1011 160.5h1.9M1065.7 160.5h4.4M1184.5 160.5h4.4M1259.3 160.5h4.4" stroke="#d95a33"/><path d="M414.6 160.5h4.4M511.4 160.5h4.4M669.8 160.5h4.4M819.4 160.5h4.4M951.3 160.5h4.4M1048.1 160.5h4.4" stroke="#ca744a"/><path d="M436.6 160.5h4.4M445.4 160.5h4.4M458.6 160.5h4.4M591 160.5h4M687.4 160.5h8.8M771 160.5h3M1034.9 160.5h5.1M1193.3 160.5h4.4" stroke="#d75e35"/><path d="M454.2 160.5h4.4M546.6 160.5h4.4M731.4 160.5h4.4M762.2 160.5h4.4M867.7 160.5h4.4M938.1 160.5h4.4M1369.3 160.5h4.4" stroke="#d46539"/><path d="M463 160.5h4.4M471.8 160.5h4.4M480.6 160.5h4.4M608.2 160.5h4.4M643.4 160.5h8.8M709.4 160.5h8.8M753.4 160.5h4.4M766.6 160.5h4.4M1061.3 160.5h4.4M1219.7 160.5h4.4" stroke="#d66137"/><path d="M467.4 160.5h4.4M533.4 160.5h4.4M801.8 160.5h4.4M810.6 160.5h4.4M1210.9 160.5h4.4" stroke="#e34a29"/><path d="M744.6 160.5h4.4M955.7 160.5h4.4M1096.5 160.5h4.4" stroke="#cd6f42"/><path d="M774 160.5h1.4M1127.3 160.5h4.2M1149.3 160.5h4.2M1343 160.5h4" stroke="#af9789"/><path d="M775.4 160.5h4.4M1083 160.5h4.7" stroke="#b98a71"/><path d="M779.8 160.5h4.4M1118.5 160.5h4.4M1131.5 160.5h4.6M1140.6 160.5h4.3" stroke="#ab9b91"/><path d="M858.9 160.5h4.4M872.1 160.5h8.8M916.1 160.5h4.9M999.7 160.5h4.4M1197.7 160.5h4.4M1281.3 160.5h4.4M1404.5 160.5h4.4M1430.9 160.5h8.8" stroke="#f32b17"/><path d="M1079 160.5h4M1422.1 160.5h4.4" stroke="#f52815"/><path d="M1104.5 160.5h0.8" stroke="#a5a4a1"/><path d="M1105.3 160.5h4.4M1114.1 160.5h0.9M1136.1 160.5h4.5M1166.9 160.5h4.6" stroke="#8ed0e4"/><path d="M1109.7 160.5h4.4" stroke="#a8a099"/><path d="M1115 160.5h3.5" stroke="#a0aeb0"/><path d="M1122.9 160.5h4.4" stroke="#b29381"/><path d="M1153.5 160.5h4.6M1162.5 160.5h4.4" stroke="#93c6d5"/><path d="M1158.1 160.5h4.4" stroke="#91cbdd"/><path d="M1391 160.5h4.7M1400.1 160.5h4.4" stroke="#f92111"/><path d="M1395.7 160.5h4.4M1417.7 160.5h4.4M1444.1 160.5h8.4" stroke="#f72413"/></g><g stroke-width="46"><path d="M239 206h8.4M260.6 206h4.4M291.4 206h4.4M309 206h4.4M388.2 206h4.4M603.8 206h4.4M683 206h4.4M845.8 206h8.8M867.7 206h8.8M880.9 206h8.8M907.3 206h4.4M955.7 206h4.4M1175.7 206h4.4" stroke="#b58e79"/><path d="M247.4 206h4.4M397 206h4.4M423.4 206h4.4M445.4 206h4.4M1193.3 206h4.4M1228.5 206h4.4" stroke="#cd6f42"/><path d="M251.8 206h4.4M524.6 206h4.4M568.6 206h4.4M595 206h8.8M876.5 206h4.4M1034.9 206h5.1M1281.3 206h4.4M1320.9 206h4.4" stroke="#c37c5a"/><path d="M256.2 206h4.4M282.6 206h4.4M295.8 206h4.4M335.4 206h4.4M357.4 206h4.4M520 206h4.6M564.2 206h4.4M590.6 206h4.4M823.8 206h4.2M938.1 206h4.4M999.7 206h4.4M1012.9 206h4.4M1312.1 206h4.4" stroke="#b29381"/><path d="M265 206h4.4M273.8 206h3.2M331 206h4.4M353 206h4.4M753.4 206h2.6M832.6 206h8.8M973.3 206h4.4M1040 206h3.7" stroke="#af9789"/><path d="M269.4 206h4.4M419 206h4.4M432.2 206h4.4M454.2 206h8.8M471.8 206h3.2M551 206h4.4M710 206h3.8M727 206h4.4M735.8 206h4.4M995.3 206h4.4M1008.5 206h4.4M1048.1 206h4.4" stroke="#bc856a"/><path d="M277 206h1.2M559.8 206h4.4M573 206h8.8M661 206h4.4" stroke="#a2a9a8"/><path d="M278.2 206h4.4M344.2 206h4.4M392.6 206h2.4M621.4 206h4.4M639 206h4.4M656.6 206h4.4M669.8 206h4.2M687.4 206h4.6M696.2 206h13.8M713.8 206h4.4M731.4 206h4.4M749 206h4.4M757.8 206h4.4M793 206h4.4M911.7 206h4.4M968.9 206h4.4M1021.7 206h4.4M1061.3 206h17.7M1096.5 206h4.4M1140 206h4.9" stroke="#91cbdd"/><path d="M287 206h4.4M317.8 206h4.4M348.6 206h4.4M383.8 206h4.4M634.6 206h4.4M643.4 206h13.2M665.4 206h4.4M678.6 206h4.4M740.2 206h4.4M788.6 206h4.4M797.4 206h4.4M808 206h2.6M819.4 206h4.4M916.1 206h4.4M933.7 206h4.4M960.1 206h4.4M1144.9 206h4.4M1158.1 206h4.4" stroke="#8ed0e4"/><path d="M300.2 206h4.4M375 206h4.4M692 206h4.2M889.7 206h4.4M929.3 206h4.4M1043.7 206h4.4M1057 206h4.3" stroke="#ab9b91"/><path d="M304.6 206h4.4M361.8 206h4.4M722.6 206h4.4M810.6 206h8.8M898 206h4.9M942.5 206h8.8M982.1 206h13.2M1017.3 206h4.4M1083 206h5M1105.3 206h4.4M1122.9 206h4.4" stroke="#93c6d5"/><path d="M313.4 206h4.4M401.4 206h4.4M529 206h4.4M542.2 206h4.4M1100.9 206h4.4" stroke="#a5a4a1"/><path d="M322.2 206h4.4M395 206h2M463 206h4.4M502.6 206h4.4M1268.1 206h4.4M1276.9 206h4.4M1298.9 206h4.4M1307.7 206h4.4M1325.3 206h4.4M1338.5 206h4.4" stroke="#c67852"/><path d="M326.6 206h4.4M410.2 206h4.4M449.8 206h4.4M467.4 206h4.4M533.4 206h4.4M581.8 206h1.2M586.2 206h4.4M608.2 206h2.8M841.4 206h4.4M858.9 206h4.4M977.7 206h4.4M1285.7 206h4.4" stroke="#c08162"/><path d="M339.8 206h4.4M611 206h10.4M625.8 206h4.4M718.2 206h4.4M766.6 206h4.4M775.4 206h13.2M801.8 206h4.4M1149.3 206h4.4M1162.5 206h9" stroke="#8cd5ec"/><path d="M366.2 206h8.8M379.4 206h4.4M507 206h4.4M537.8 206h4.4M674 206h4.6M744.6 206h4.4M828 206h4.6M854.5 206h4.4M863.3 206h4.4M894.1 206h3.9M924.9 206h4.4M951.3 206h4.4M964.5 206h4.4M1004.1 206h4.4M1026.1 206h8.8" stroke="#b98a71"/><path d="M405.8 206h4.4M427.8 206h4.4M436.6 206h8.8M920.5 206h4.4M1232.9 206h4.4M1294.5 206h4.4M1329.7 206h4.4M1351.7 206h4.4" stroke="#ca744a"/><path d="M414.6 206h4.4M476.2 206h4.4M1241.7 206h8.8M1259.3 206h4.4M1334.1 206h4.4" stroke="#d66137"/><path d="M475 206h1.2M1200 206h2.1" stroke="#db5731"/><path d="M480.6 206h4.4M555.4 206h4.4M583 206h3.2M1184.5 206h4.4M1197.7 206h2.3M1226 206h2.5M1364.9 206h4.4" stroke="#d46539"/><path d="M485 206h4.4M1382.5 206h4.4" stroke="#e14d2b"/><path d="M489.4 206h4.4M498.2 206h4.4M1180.1 206h4.4M1224.1 206h1.9M1342.9 206h8.8M1356.1 206h4.4M1426.5 206h4.4" stroke="#dd542f"/><path d="M493.8 206h4.4M1188.9 206h4.4M1202.1 206h4.4M1250.5 206h8.8M1373.7 206h4.3M1413.3 206h4.4" stroke="#d95a33"/><path d="M511.4 206h4.4M1263.7 206h4.4" stroke="#e34a29"/><path d="M515.8 206h4.2M1171.5 206h4.2M1272.5 206h4.4M1303.3 206h4.4M1316.5 206h4.4M1444.1 206h8.4" stroke="#d2683b"/><path d="M546.6 206h4.4M1290.1 206h4.4M1360.5 206h4.4M1369.3 206h4.4" stroke="#d06b3d"/><path d="M630.2 206h4.4M1052.5 206h4.5M1131.7 206h3.8" stroke="#a8a099"/><path d="M756 206h1.8M1109.7 206h4.4M1118.5 206h4.4M1153.7 206h4.4" stroke="#a0aeb0"/><path d="M762.2 206h4.4M902.9 206h4.4M1114.1 206h4.4" stroke="#9bb8bf"/><path d="M771 206h4.4M806.2 206h1.8" stroke="#9db3b7"/><path d="M1079 206h4M1088 206h4M1135.5 206h4.5" stroke="#e8e8e8"/><path d="M1092 206h4.5M1127.3 206h4.4" stroke="#96c2ce"/><path d="M1206.5 206h4.4M1215.3 206h4.4M1435.3 206h4.4" stroke="#e44627"/><path d="M1210.9 206h4.4M1237.3 206h4.4" stroke="#d75e35"/><path d="M1219.7 206h4.4M1417.7 206h4.4" stroke="#df502d"/><path d="M1378 206h4.5M1386.9 206h4.4M1400.1 206h4.4M1439.7 206h4.4" stroke="#e83f23"/><path d="M1391.3 206h4.4M1408.9 206h4.4" stroke="#ec391f"/><path d="M1395.7 206h4.4M1422.1 206h4.4" stroke="#ea3c21"/><path d="M1404.5 206h4.4" stroke="#f0321b"/><path d="M1430.9 206h4.4" stroke="#ee351d"/></g><g stroke-width="46"><path d="M239 252h8.4M291.4 252h4.4M331 252h4.4M339.8 252h4.4M388.2 252h8.8M427.8 252h8.8M441 252h4.4M449.8 252h4.4M713.8 252h4.4M1017.3 252h4.4M1175.7 252h4.4M1184.5 252h4.4M1232.9 252h4.4" stroke="#c67852"/><path d="M247.4 252h4.4M476.2 252h4.4M546.6 252h4.4M696.2 252h4.4M735.8 252h4.8M823 252h5.2M867.7 252h4.4M916.1 252h4.4M924.9 252h4.4M938.1 252h4.4M1030.5 252h4.4M1193.3 252h4.4" stroke="#b29381"/><path d="M251.8 252h4.4M815 252h4.4M1224.1 252h4.4M1250.5 252h4.4M1378 252h4.5M1440 252h4.1" stroke="#d75e35"/><path d="M256.2 252h4.4M265 252h4.4M300.2 252h4.4M335.4 252h4.4M353 252h8.8M401.4 252h4.4M454.2 252h4.4M471.8 252h3.2M1040 252h3.7M1065.7 252h4.3M1356.1 252h4.4M1364.9 252h4.4" stroke="#ca744a"/><path d="M260.6 252h4.4M273.8 252h13.2M375 252h4.4M1263.7 252h4.4M1360.5 252h4.4" stroke="#d2683b"/><path d="M269.4 252h4.4M397 252h4.4M810 252h5M1215 252h4.7M1228.5 252h4.4M1254.9 252h4.4M1312.1 252h4.4M1338.7 252h4.2M1347.3 252h8.8" stroke="#d46539"/><path d="M287 252h4.4M419 252h4.4M599.4 252h4.4M640 252h3.4M652.2 252h4.4M929.3 252h4.4M1048.1 252h4.4M1197.7 252h4.4M1281.3 252h4.4" stroke="#c08162"/><path d="M295.8 252h4.4M309 252h4.4M317.8 252h4.4M370.6 252h4.4M445.4 252h4.4M493.8 252h4.4M603.8 252h8.8M951.3 252h4.4M1056.9 252h4.4M1342.9 252h4.4" stroke="#c37c5a"/><path d="M304.6 252h4.4M405.8 252h4.4" stroke="#bc856a"/><path d="M313.4 252h4.4M348.6 252h4.4M489.4 252h4.4M942.5 252h4.4M1259.3 252h4.4M1268.1 252h4.4M1369.3 252h3.7" stroke="#cd6f42"/><path d="M322.2 252h4.4M366.2 252h4.4M436.6 252h4.4M463 252h4.4M502.6 252h4.4M542.2 252h4.4M595 252h4.4M718.2 252h4.4M819.4 252h3.6M977.7 252h4.4M1001 252h3.1M1008.5 252h4.4M1171.5 252h4.2M1188.9 252h4.4M1210.9 252h4.1M1241.7 252h4.4" stroke="#b98a71"/><path d="M326.6 252h4.4M410.2 252h8.8M423.4 252h4.4M1219.7 252h4.4M1237.3 252h4.4M1246.1 252h4.4M1294.5 252h4.4" stroke="#d06b3d"/><path d="M344.2 252h4.4M361.8 252h4.4M520.2 252h17.6M643.4 252h4.6M731.4 252h4.4M828.2 252h4.4M982.1 252h3.9M1004.1 252h4.4M1021.7 252h4.4M1034.9 252h5.1M1043.7 252h4.4M1052.5 252h4.4M1061.3 252h4.4" stroke="#b58e79"/><path d="M379.4 252h4.4M1320.9 252h8.8M1430.9 252h4.4" stroke="#df502d"/><path d="M383.8 252h4.4M1097 252h3.6" stroke="#d95a33"/><path d="M458.6 252h4.4M1277 252h4.3M1298.9 252h4.4" stroke="#db5731"/><path d="M467.4 252h4.4M1316.5 252h4.4" stroke="#d66137"/><path d="M475 252h1.2M485 252h4.4M498.2 252h4.4M639 252h1M669.8 252h4.4M709.4 252h4.4M722.6 252h4.4M749 252h4.4M771 252h4.4M779.8 252h13.2M797.4 252h8.8M933.7 252h4.4M995.3 252h4.4M1079 252h8.7M1109.6 252h4.5M1118.5 252h4.4M1127.3 252h13.3M1145 252h8.7M1158.1 252h8.3" stroke="#8ed0e4"/><path d="M480.6 252h4.4M507 252h4.4M551 252h4.4M564.2 252h4.4M581.8 252h3.8M625.8 252h8.8M661 252h4.4M678.6 252h8.8M691.8 252h4.4M705 252h4.4M727 252h4.4M832.6 252h8.8M845.8 252h4.4M858.9 252h8.8M872.1 252h4.4M880.9 252h8.8M894.1 252h8.8" stroke="#93c6d5"/><path d="M511.4 252h4.4M537.8 252h4.4M555.4 252h4.4M612.6 252h8.8M634.6 252h4.4M648 252h4.2M656.6 252h4.4M665.4 252h4.4M687.4 252h4.4M700.6 252h4.4M753.4 252h8.8M766.6 252h4.4M806.2 252h3.8M841.4 252h4.4M876.5 252h4.4M889.7 252h3.3M902.9 252h10.1M955.7 252h4.4M973.3 252h4.4M990.9 252h4.4M999.7 252h1.3M1373 252h5" stroke="#91cbdd"/><path d="M515.8 252h4.4M946.9 252h4.4M964.5 252h4.4M1180.1 252h4.4M1202.1 252h4.4" stroke="#a8a099"/><path d="M559.8 252h4.4M568.6 252h4.4M577.4 252h4.4M744.5 252h4.5M793 252h4.4M893 252h1.1M1087.7 252h9.3" stroke="#8cd5ec"/><path d="M573 252h4.4M674.2 252h4.4M850.1 252h4.4M920.5 252h4.4M1206.5 252h4.4" stroke="#af9789"/><path d="M585.6 252h5.4M740.6 252h3.9M1074 252h5M1100.6 252h9M1140.6 252h4.4M1166.4 252h5.1M1334 252h4.7" stroke="#e8e8e8"/><path d="M591 252h4M854.5 252h4.4M913 252h3.1M968.9 252h4.4M1012.9 252h4.4M1026.1 252h4.4" stroke="#ab9b91"/><path d="M621.4 252h4.4M762.2 252h4.4M775.4 252h4.4" stroke="#a5a4a1"/><path d="M960.1 252h4.4" stroke="#a2a9a8"/><path d="M986 252h4.9M1153.7 252h4.4" stroke="#98bdc6"/><path d="M1070 252h4" stroke="#f52815"/><path d="M1114.1 252h4.4M1122.9 252h4.4" stroke="#a0aeb0"/><path d="M1272.5 252h4.5" stroke="#dd542f"/><path d="M1285.7 252h4.4M1303.3 252h4.4" stroke="#e34a29"/><path d="M1290.1 252h4.4M1329.7 252h4.3M1404.5 252h4.4M1444.1 252h8.4" stroke="#e14d2b"/><path d="M1307.7 252h4.4M1422.1 252h4.4" stroke="#e83f23"/><path d="M1382.5 252h8.8" stroke="#f32b17"/><path d="M1391.3 252h4.4M1435.3 252h4.7" stroke="#f22f19"/><path d="M1395.7 252h4.4" stroke="#e44627"/><path d="M1400.1 252h4.4M1408.9 252h4.4M1417.7 252h4.4" stroke="#ee351d"/><path d="M1413.3 252h4.4" stroke="#ec391f"/><path d="M1426.5 252h4.4" stroke="#e64325"/></g><g stroke-width="45"><path d="M239 297.5h8.4M577.4 297.5h4.4M586.2 297.5h4.4M858.9 297.5h8.8M880.9 297.5h4.4M990.9 297.5h4.4M1206.5 297.5h8.8M1232.9 297.5h4.4M1263.7 297.5h4.4M1298.9 297.5h4.4M1347.3 297.5h4.4M1369.3 297.5h3.7" stroke="#c08162"/><path d="M247.4 297.5h4.4M256.2 297.5h4.4M322.2 297.5h4.4M344.2 297.5h4.4M388.2 297.5h4.4M397 297.5h4.4M463 297.5h4.4M581.8 297.5h4.4M625.8 297.5h4.4M1250.5 297.5h8.8M1276.9 297.5h4.4" stroke="#b29381"/><path d="M251.8 297.5h4.4M260.6 297.5h4.4M282.6 297.5h4.4M300.2 297.5h4.4M317.8 297.5h4.4M335.4 297.5h8.8M366.2 297.5h4.4M423.4 297.5h4.4M472 297.5h4.2M498.2 297.5h4.4M537.8 297.5h4.4M687.4 297.5h8.8M709.4 297.5h4.4M735.8 297.5h4.4M911.7 297.5h4.4M920.5 297.5h4.4M933.7 297.5h8.8M999.7 297.5h4.4" stroke="#93c6d5"/><path d="M265 297.5h4.4M436.6 297.5h4.4M828 297.5h4.6M850.1 297.5h4.4M1040 297.5h3.7M1171.5 297.5h4.2M1184.5 297.5h4.4M1294.5 297.5h4.4M1312.1 297.5h4.4M1334.1 297.5h4.4" stroke="#b98a71"/><path d="M269.4 297.5h4.4M331 297.5h4.4M845.8 297.5h4.4M893 297.5h1.1M1079 297.5h4M1237.3 297.5h4.4M1268.1 297.5h8.8M1316.5 297.5h4.4M1325.3 297.5h4.4M1351.7 297.5h4.4" stroke="#c37c5a"/><path d="M273.8 297.5h4.4M353 297.5h8.8M379.4 297.5h4.4M419 297.5h4.4M520.2 297.5h4.4M640 297.5h3.4M762.2 297.5h4.4M854.5 297.5h4.4M1004.1 297.5h4.4M1026.1 297.5h4.4" stroke="#ab9b91"/><path d="M278.2 297.5h4.4M326.6 297.5h4.4M348.6 297.5h4.4M392.6 297.5h4.4M441 297.5h4.4M599.4 297.5h4.6M832.6 297.5h4.4M889.7 297.5h3.3M1048.1 297.5h4.4M1074.5 297.5h4.5M1188.9 297.5h4.4M1259.3 297.5h4.4M1320.9 297.5h4.4M1338.5 297.5h3.5" stroke="#bc856a"/><path d="M287 297.5h4.4M383.8 297.5h4.4M432.2 297.5h4.4M489.4 297.5h4.4M524.6 297.5h4.4M533.4 297.5h4.4M546.6 297.5h4.4M568.6 297.5h4.4M608.2 297.5h4.4M647.8 297.5h4.4M661 297.5h4.4M674.2 297.5h4.4M696.2 297.5h4.4M713.8 297.5h4.4M727 297.5h4.4M744.6 297.5h4.4M771 297.5h13.2M793 297.5h4.4M810.6 297.5h4.4M894.1 297.5h8.8M951.3 297.5h4.4M968.9 297.5h8.8M1012.9 297.5h4.4M1061.3 297.5h4.4M1087.7 297.5h4.4M1105.3 297.5h4.4M1122.9 297.5h8.8M1136.1 297.5h8.8M1149.3 297.5h8.8" stroke="#8ed0e4"/><path d="M291.4 297.5h4.4M427.8 297.5h4.4M837 297.5h4.4M1131.7 297.5h4.4M1180.1 297.5h4.4M1193.3 297.5h4.4M1202.1 297.5h4.4" stroke="#a5a4a1"/><path d="M295.8 297.5h4.4M313.4 297.5h4.4M370.6 297.5h4.4M414.6 297.5h4.4M502.6 297.5h4.4M559.8 297.5h8.8M612.6 297.5h8.8M630.2 297.5h9.8M652.2 297.5h4.4M669.8 297.5h4.4M705 297.5h4.4M718.2 297.5h8.8M731.4 297.5h4.4M757.8 297.5h4.4M788.6 297.5h4.4M797.4 297.5h13.2M815 297.5h4.4M916.1 297.5h4.4M924.9 297.5h4.4M946.9 297.5h4.4M955.7 297.5h13.2M982.1 297.5h4.4M995.3 297.5h4.4M1008.5 297.5h4.4M1017.3 297.5h8.8M1114.1 297.5h8.8M1144.9 297.5h4.4M1158.1 297.5h8.8" stroke="#91cbdd"/><path d="M304.6 297.5h4.4M449.8 297.5h4.4M573 297.5h4.4M1342 297.5h0.9" stroke="#ca744a"/><path d="M309 297.5h4.4M454.2 297.5h4.4M753.4 297.5h4.4M867.7 297.5h4.4M1056.9 297.5h4.4M1241.7 297.5h4.4" stroke="#a8a099"/><path d="M361.8 297.5h4.4M485 297.5h4.4M511.4 297.5h8.8M604 297.5h4.2M621.4 297.5h4.4M665.4 297.5h4.4M683 297.5h4.4M700.6 297.5h4.4M740.2 297.5h4.4M766.6 297.5h4.4M784.2 297.5h4.4M823.8 297.5h4.2M929.3 297.5h4.4M942.5 297.5h4.4M977.7 297.5h4.4M986.5 297.5h4.4M1034.9 297.5h5.1M1109.7 297.5h4.4M1166.9 297.5h4.6" stroke="#8cd5ec"/><path d="M375 297.5h4.4M410.2 297.5h4.4M876.5 297.5h4.4M907.3 297.5h4.4M1030.5 297.5h4.4M1043.7 297.5h4.4M1175.7 297.5h4.4M1215.3 297.5h4.4M1224.1 297.5h4.4M1281.3 297.5h8.8" stroke="#b58e79"/><path d="M401.4 297.5h4.4M467.4 297.5h4.6M872.1 297.5h4.4M885.3 297.5h4.4M902.9 297.5h4.4M1052.5 297.5h4.4" stroke="#af9789"/><path d="M405.8 297.5h4.4M458.6 297.5h4.4M1065.7 297.5h4.4" stroke="#cd6f42"/><path d="M445.4 297.5h4.4M1364.9 297.5h4.4M1413.3 297.5h4.4" stroke="#d46539"/><path d="M476.2 297.5h8.8M493.8 297.5h4.4M529 297.5h4.4M590.6 297.5h4.4M819.4 297.5h4.4M1070.1 297.5h4.4M1083 297.5h4.7M1092.1 297.5h4.4" stroke="#a2a9a8"/><path d="M507 297.5h4.4M551 297.5h4.4M678.6 297.5h4.4M749 297.5h4.4" stroke="#9db3b7"/><path d="M542.2 297.5h4.4M555.4 297.5h4.4M656.6 297.5h4.4M1290.1 297.5h4.4" stroke="#a0aeb0"/><path d="M595 297.5h4.4M841.4 297.5h4.4M1219.7 297.5h4.4M1342.9 297.5h4.4M1356.1 297.5h4.4" stroke="#d2683b"/><path d="M643.4 297.5h4.4M1096.5 297.5h4.4" stroke="#9bb8bf"/><path d="M1100.9 297.5h4.4" stroke="#98bdc6"/><path d="M1197.7 297.5h4.4M1228.5 297.5h4.4M1303.3 297.5h8.8M1329.7 297.5h4.4" stroke="#c67852"/><path d="M1246.1 297.5h4.4M1395.7 297.5h4.4M1426.5 297.5h4.4" stroke="#d06b3d"/><path d="M1360.5 297.5h4.4M1408.9 297.5h4.4" stroke="#d95a33"/><path d="M1373 297.5h5.1" stroke="#df502d"/><path d="M1378.1 297.5h8.8" stroke="#e64325"/><path d="M1386.9 297.5h4.4M1422.1 297.5h4.4" stroke="#e14d2b"/><path d="M1391.3 297.5h4.4M1430.9 297.5h4.4" stroke="#ea3c21"/><path d="M1400.1 297.5h4.4" stroke="#ec391f"/><path d="M1404.5 297.5h4.4M1435.3 297.5h4.7" stroke="#e83f23"/><path d="M1417.7 297.5h4.4" stroke="#f32b17"/><path d="M1440 297.5h4.1" stroke="#f22f19"/><path d="M1444.1 297.5h8.4" stroke="#f0321b"/></g><g stroke-width="46"><path d="M239 343h17.2M265 343h4.4M273.8 343h4.4M282.6 343h4.4M291.4 343h4.4M498.2 343h4.4M507 343h4.4M533.4 343h4.4M555.4 343h4.4M634.6 343h4.4M643.4 343h8.8M691.8 343h4.4M700.6 343h4.4M771 343h4.4M784.2 343h4.4M806.2 343h1.8M898.5 343h4.4M946.9 343h4.4M968.9 343h4.4M1008.5 343h2.5M1043.7 343h4.4M1083.3 343h4.4M1092.1 343h8.8M1118.5 343h4.4M1131.7 343h8.8M1144.9 343h4.4M1162.5 343h4.4" stroke="#8ed0e4"/><path d="M256.2 343h4.4M515.8 343h8.8M542.2 343h4.4M731.4 343h4.4M762.2 343h4.4M902.9 343h4.4M955.7 343h4.4M1056.9 343h4.4M1153.7 343h8.8" stroke="#8cd5ec"/><path d="M260.6 343h4.4M353 343h4.4M361.8 343h4.4M379.4 343h4.4M441 343h4.4M529 343h4.4M640 343h3.4M999.7 343h4.4M1210.9 343h4.4M1250.5 343h4.4M1272.5 343h4.4" stroke="#af9789"/><path d="M269.4 343h4.4M357.4 343h4.4M405.8 343h4.4M419 343h4.4M577.4 343h4.4M603.8 343h4.4M674.2 343h4.4M850.1 343h4.4M880.9 343h4.4M889.7 343h4.4M1290.1 343h4.4" stroke="#ab9b91"/><path d="M278.2 343h4.4M485 343h4.4M551 343h4.4M601 343h2.8M656.6 343h4.4M669.8 343h4.4M705 343h8.8M938.1 343h4.4M951.3 343h4.4M964.5 343h4.4M977.7 343h4.4M1004.1 343h4.4M1012.9 343h4.4M1079 343h4.3M1105.3 343h4.4M1114.1 343h4.4M1166.9 343h4.6" stroke="#93c6d5"/><path d="M287 343h4.4M295.8 343h4.4M304.6 343h12.4M480.6 343h4.4M493.8 343h4.4M502.6 343h4.4M568.6 343h4.4M608.2 343h4.4M630.2 343h4.4M652.2 343h4.4M683 343h8.8M713.8 343h4.4M722.6 343h4.4M735.8 343h4.4M749 343h8.8M775.4 343h8.8M788.6 343h4.4M797.4 343h8.8M907.3 343h13.2M924.9 343h13.2M942.5 343h4.4M995.3 343h4.4M1017.3 343h4.4M1052.5 343h4.4M1122.9 343h8.8M1149.3 343h4.4M1336.6 343h1.9" stroke="#91cbdd"/><path d="M300.2 343h4.4M445.4 343h4.4M564.2 343h4.4M828.2 343h4.4M1061.3 343h4.4M1193.3 343h4.4M1281.3 343h4.4M1303.3 343h4.4" stroke="#c08162"/><path d="M317 343h5.2M348.6 343h4.4M423.4 343h4.4M581.8 343h8.8M854.5 343h4.4M1040 343h3.7M1285.7 343h4.4M1316.5 343h4.4" stroke="#c67852"/><path d="M322.2 343h4.4M621.4 343h8.8M678.6 343h4.4M696.2 343h4.4M740.2 343h4.4M815 343h4.4M832.6 343h4.4M920.5 343h4.4M1030.5 343h9.5M1065.7 343h4.4M1180.1 343h4.4M1215.3 343h4.4M1224.1 343h4.4M1237.3 343h4.4M1268.1 343h4.4" stroke="#bc856a"/><path d="M326.6 343h4.4M335.4 343h4.4M366.2 343h4.4M375 343h4.4M388.2 343h8.8M432.2 343h4.4M454.2 343h4.4M471.8 343h3.2M489.4 343h4.4M537.8 343h4.4M546.6 343h4.4M612.6 343h4.4M639 343h1M793 343h4.4M808 343h7M819.4 343h4.4M872.1 343h8.8M973.3 343h4.4M990.9 343h4.4M1175.7 343h4.4M1188.9 343h4.4M1197.7 343h4.4M1246.1 343h4.4" stroke="#b29381"/><path d="M331 343h4.4M339.8 343h4.4M370.6 343h4.4M383.8 343h4.4M449.8 343h4.4M467.4 343h4.4M511.4 343h4.4M524.6 343h4.4M617 343h4.4M661 343h4.4M727 343h4.4M757.8 343h4.4M766.6 343h4.4M823.8 343h4.4M837 343h4.4M845.8 343h4.4M885.3 343h4.4M986.5 343h4.4M1021.7 343h8.8M1070.1 343h4.4M1206.5 343h4.4M1276.9 343h4.4" stroke="#b58e79"/><path d="M344.2 343h4.4M401.4 343h4.4M595 343h4.4" stroke="#a5a4a1"/><path d="M397 343h4.4M841.4 343h4.4M858.9 343h4.4M1140.5 343h4.4" stroke="#a2a9a8"/><path d="M410.2 343h4.4M436.6 343h4.4M590.6 343h4.4M1254.9 343h4.4M1263.7 343h4.4" stroke="#ca744a"/><path d="M414.6 343h4.4M427.8 343h4.4M458.6 343h4.4M718.2 343h4.4M894.1 343h0.9M1048.1 343h4.4M1074.5 343h4.5M1184.5 343h4.4M1219.7 343h4.4M1294.5 343h4.4" stroke="#c37c5a"/><path d="M463 343h4.4M476.2 343h4.4M559.8 343h4.4M665.4 343h4.4M863.3 343h8.8M895 343h3.5M960.1 343h4.4M1011 343h1.9M1228.5 343h4.4M1259.3 343h4.4M1298.9 343h4.4M1307.7 343h4.4M1325.3 343h8.8" stroke="#b98a71"/><path d="M475 343h1.2M1351.7 343h4.4" stroke="#d06b3d"/><path d="M573 343h4.4M1312.1 343h4.4" stroke="#a8a099"/><path d="M599.4 343h1.6M1171.5 343h4.2M1202.1 343h4.4" stroke="#cd6f42"/><path d="M744.6 343h4.4M982.1 343h4.4M1109.7 343h4.4" stroke="#a0aeb0"/><path d="M1087.7 343h4.4M1232.9 343h4.4" stroke="#9bb8bf"/><path d="M1100.9 343h4.4" stroke="#98bdc6"/><path d="M1241.7 343h4.4M1320.9 343h4.4M1373.7 343h4.3" stroke="#d46539"/><path d="M1334.1 343h2.5M1360.5 343h8.8" stroke="#d95a33"/><path d="M1338.5 343h3.5" stroke="#96c2ce"/><path d="M1342 343h0.9" stroke="#d2683b"/><path d="M1342.9 343h8.8M1356.1 343h4.4" stroke="#d75e35"/><path d="M1369.3 343h4.4M1404.5 343h4.4" stroke="#df502d"/><path d="M1378 343h4.5M1422.1 343h4.4" stroke="#ea3c21"/><path d="M1382.5 343h4.4M1444.1 343h8.4" stroke="#d66137"/><path d="M1386.9 343h8.8M1413.3 343h4.4M1439.7 343h4.4" stroke="#e83f23"/><path d="M1395.7 343h8.8M1408.9 343h4.4M1417.7 343h4.4M1426.5 343h4.4" stroke="#e64325"/><path d="M1430.9 343h4.4" stroke="#f22f19"/><path d="M1435.3 343h4.4" stroke="#ec391f"/></g><g stroke-width="45"><path d="M239 388.5h8.4M265 388.5h1M397 388.5h4.4M436.6 388.5h4.4M744.6 388.5h4.4M757.8 388.5h4.4M793 388.5h4.4M841.4 388.5h4.4M850.1 388.5h4.4M986.5 388.5h4.4M1043.7 388.5h4.4M1188.9 388.5h4.4M1197.7 388.5h4.4M1206.5 388.5h4.4M1237.3 388.5h4.4M1347.3 388.5h4.4M1360.5 388.5h4.4M1422.1 388.5h4.4" stroke="#b29381"/><path d="M247.4 388.5h4.4M256.2 388.5h8.8M357.4 388.5h4.4M379.4 388.5h4.4M401.4 388.5h4.4M815 388.5h4.4M837 388.5h4.4M863.3 388.5h4.4M920.5 388.5h4.4M1303.3 388.5h4.4M1329.7 388.5h4.4M1373.7 388.5h4.4M1391.3 388.5h4.4M1435.3 388.5h4.4" stroke="#af9789"/><path d="M251.8 388.5h4.4M361.8 388.5h4.4M458.6 388.5h4.4M762.2 388.5h4.4M898.5 388.5h4.4M982.1 388.5h4.4M1290.1 388.5h4.4M1400.1 388.5h4.4M1413.3 388.5h4.4M1439.7 388.5h12.8" stroke="#b58e79"/><path d="M266 388.5h3.4M291.4 388.5h4.4M304.6 388.5h4.4M317.8 388.5h8.8M331 388.5h4M348.6 388.5h4.4M366.2 388.5h4.4M383.8 388.5h8.8M441 388.5h4.4M454.2 388.5h4.4M493.8 388.5h4.4M502.6 388.5h4.4M520.2 388.5h13.2M546.6 388.5h4.4M577.4 388.5h4.4M617 388.5h8.8M643.4 388.5h4.4M661 388.5h4.4M705 388.5h4.4M740 388.5h4.6M753.4 388.5h4.4M823.8 388.5h8.8M902.9 388.5h4.4M916.1 388.5h4.4M955.7 388.5h4.4M968.9 388.5h4.4M1004.1 388.5h4.9M1048.1 388.5h4.4M1078.9 388.5h4.9M1131.5 388.5h9M1144.9 388.5h8.8M1158.1 388.5h4.4M1219.7 388.5h4.4M1232.9 388.5h4.4M1246.1 388.5h8.8" stroke="#91cbdd"/><path d="M269.4 388.5h4.4M278.2 388.5h4.4M309 388.5h4.4M326.6 388.5h4.4M419 388.5h8.8M445.4 388.5h4.4M463 388.5h9M476.2 388.5h4.4M498.2 388.5h4.4M537.8 388.5h4.4M555.4 388.5h8.8M586.2 388.5h4.4M603.8 388.5h4.4M612.6 388.5h4.4M625.8 388.5h8.8M639 388.5h4.4M647.8 388.5h4.4M683 388.5h4.4M709.4 388.5h8.8M731.4 388.5h4.4M779.8 388.5h8.8M832.6 388.5h4.4M876.5 388.5h8.8M946.9 388.5h4.4M960.1 388.5h4.4M973.3 388.5h8.8M990.9 388.5h4.4M1052.5 388.5h8.8M1065.7 388.5h8.8M1114.3 388.5h8.2M1140.5 388.5h4.4M1162.5 388.5h9M1272.5 388.5h4.4" stroke="#8ed0e4"/><path d="M273.8 388.5h4.4M287 388.5h4.4M353 388.5h4.4M370.6 388.5h4.4M427.8 388.5h4.4M568.6 388.5h4.4M595 388.5h4.4M687.4 388.5h4.4M696.2 388.5h4.4M907.3 388.5h8.8M942.5 388.5h4.4M1193.3 388.5h4.4M1386.9 388.5h4.4M1408.9 388.5h4.4" stroke="#8cd5ec"/><path d="M282.6 388.5h4.4M432.2 388.5h4.4M551 388.5h4.4M634.6 388.5h4.4M669.8 388.5h4.4M858.9 388.5h4.4M995.3 388.5h4.4M1224.1 388.5h4.4M1369.3 388.5h4.4" stroke="#a8a099"/><path d="M295.8 388.5h4.4M392.6 388.5h4.4M449.8 388.5h4.4M480.6 388.5h4.4M489.4 388.5h4.4M515.8 388.5h4.4M542.2 388.5h4.4M564.2 388.5h4.4M608.2 388.5h4.4M652.2 388.5h4.4M665.4 388.5h4.4M674.2 388.5h8.8M691.8 388.5h4.4M700.6 388.5h4.4M722.6 388.5h4.4M806.2 388.5h4.4M885.3 388.5h4.4M938.1 388.5h4.4M951.3 388.5h4.4M964.5 388.5h4.4M1061.3 388.5h4.4M1074.5 388.5h4.4M1153.7 388.5h4.4M1241.7 388.5h4.4M1259.3 388.5h4.4M1382.5 388.5h4.4" stroke="#93c6d5"/><path d="M300.2 388.5h4.4M313.4 388.5h4.4M485 388.5h4.4" stroke="#a0aeb0"/><path d="M335 388.5h4" stroke="#e83f23"/><path d="M339 388.5h5.2M1021.7 388.5h4.4M1180.1 388.5h4.4" stroke="#ca744a"/><path d="M344.2 388.5h4.4M735.8 388.5h4.2M867.7 388.5h4.4M1338.5 388.5h4.4" stroke="#a2a9a8"/><path d="M375 388.5h4.4M414.6 388.5h4.4M511.4 388.5h4.4M573 388.5h4.4M581.8 388.5h4.4M924.9 388.5h8.8M1202.1 388.5h4.4M1210.9 388.5h4.4M1294.5 388.5h4.4M1351.7 388.5h4.4" stroke="#a5a4a1"/><path d="M405.8 388.5h4.4M749 388.5h4.4M801.8 388.5h4.4M845.8 388.5h4.4M1012.9 388.5h8.8M1175.7 388.5h4.4M1281.3 388.5h8.8" stroke="#bc856a"/><path d="M410.2 388.5h4.4M771 388.5h4.4M810.6 388.5h4.4M819.4 388.5h4.4M999.7 388.5h4.4M1009 388.5h3.9M1030.5 388.5h4.5M1171.5 388.5h4.2M1312.1 388.5h13.2M1334.1 388.5h4.4M1356.1 388.5h4.4M1395.7 388.5h4.4M1404.5 388.5h4.4" stroke="#b98a71"/><path d="M472 388.5h4.2M775.4 388.5h4.4M797.4 388.5h4.4M1215.3 388.5h4.4M1268.1 388.5h4.4M1276.9 388.5h4.4M1298.9 388.5h4.4M1325.3 388.5h4.4M1342.9 388.5h4.4M1430.9 388.5h4.4" stroke="#ab9b91"/><path d="M507 388.5h4.4M599.4 388.5h4.4" stroke="#9bb8bf"/><path d="M533.4 388.5h4.4M590.6 388.5h4.4M656.6 388.5h4.4" stroke="#9db3b7"/><path d="M718.2 388.5h4.4M727 388.5h4.4" stroke="#96c2ce"/><path d="M766.6 388.5h4.4M889.7 388.5h8.8M933.7 388.5h4.4M1035 388.5h4.3M1092.1 388.5h4.4M1228.5 388.5h4.4M1263.7 388.5h4.4M1426.5 388.5h4.4" stroke="#c08162"/><path d="M788.6 388.5h4.4M854.5 388.5h4.4M1039.3 388.5h4.4M1184.5 388.5h4.4M1254.9 388.5h4.4M1307.7 388.5h4.4M1378.1 388.5h4.4M1417.7 388.5h4.4" stroke="#c37c5a"/><path d="M872.1 388.5h4.4" stroke="#cd6f42"/><path d="M1026.1 388.5h4.4M1122.5 388.5h4.8M1364.9 388.5h4.4" stroke="#c67852"/><path d="M1083.8 388.5h8.3" stroke="#d66137"/><path d="M1096.5 388.5h4.4" stroke="#d75e35"/><path d="M1100.9 388.5h4.9" stroke="#db5731"/><path d="M1105.8 388.5h8.5" stroke="#f52815"/><path d="M1127.3 388.5h4.2" stroke="#d06b3d"/></g><g stroke-width="46"><path d="M239 434h8.4M375 434h4.4M414.6 434h4.4M612.6 434h4.4M647.8 434h4.4M819.4 434h4.4M977.7 434h4.4M1030.5 434h4.4M1210.9 434h4.4M1228.5 434h4.4M1259.3 434h4.4M1272.5 434h4.4M1342 434h0.9M1395.7 434h4.4" stroke="#c08162"/><path d="M247.4 434h8.8M370.6 434h4.4M445.4 434h4.4M537.8 434h4.4M661 434h4.4M669.8 434h4.4M718.2 434h4.4M889.7 434h4.4M942.5 434h8.8M999.7 434h4.4M1017.3 434h4.4M1149.3 434h8.8M1202.1 434h4.4M1232.9 434h4.4M1263.7 434h4.4M1276.9 434h4.4M1285.7 434h4.4M1329.7 434h8.8M1427 434h12.7" stroke="#b29381"/><path d="M256.2 434h4.4M322.2 434h4.4M366.2 434h2.8M507 434h4.4M555.4 434h4.4M640 434h3.4M1021.7 434h4.4M1224.1 434h4.4M1303.3 434h4.4" stroke="#a5a4a1"/><path d="M260.6 434h4.4M379.4 434h4.4M458.6 434h4.4M665.4 434h4.4M815 434h4.4M894.1 434h4.4M920.5 434h4.4M929.3 434h8.8M1012.9 434h4.4M1140.6 434h4.3M1158.1 434h8.8M1188.9 434h4.4M1197.7 434h4.4M1237.3 434h4.4M1290.1 434h4.4M1307.7 434h4.4" stroke="#b58e79"/><path d="M265 434h4.4M278.2 434h4.4M313.4 434h4.4M357.4 434h4.4M423.4 434h4.4M476.2 434h8.8M489.4 434h4.4M515.8 434h13.2M533.4 434h4.4M542.2 434h4.4M573 434h4.4M617 434h4.4M630.2 434h4.4M639 434h1M656.6 434h4.4M687.4 434h8.8M775.4 434h4.4M784.2 434h8.8M902.9 434h4.4M986.5 434h13.2M1008.5 434h4.4M1034.9 434h5.1M1056.9 434h4.4M1087.7 434h4.4M1118.5 434h4.4M1254.9 434h4.4M1312.1 434h4.4" stroke="#91cbdd"/><path d="M269.4 434h8.8M309 434h4.4M1114.1 434h4.4" stroke="#96c2ce"/><path d="M282.6 434h13.2M432.2 434h4.4M472 434h4.2M700.6 434h4.4M753.4 434h2.6M801.8 434h4.4M845.8 434h4.4M858.9 434h4.4M876.5 434h4.4M938.1 434h4.4M960.1 434h4.4M1070.1 434h4.4M1127.3 434h4.4M1136.1 434h4.5M1316.5 434h4.4M1439.7 434h4.4" stroke="#8cd5ec"/><path d="M295.8 434h4.4M304.6 434h4.4M331 434h13.2M427.8 434h4.4M454.2 434h4.4M511.4 434h4.4M529 434h4.4M577.4 434h8.8M603.8 434h4.4M621.4 434h4.4M634.6 434h4.4M674.2 434h4.4M683 434h4.4M696.2 434h4.4M740.2 434h13.2M756 434h6.2M779.8 434h4.4M793 434h4.4M806.2 434h1.8M823.8 434h4.4M832.6 434h4.4M850.1 434h8.8M955.7 434h4.4M1026.1 434h4.4M1061.3 434h4.4M1078.9 434h4.4M1092.1 434h8.8M1105.3 434h4.4M1298.9 434h4.4" stroke="#8ed0e4"/><path d="M300.2 434h4.4M317.8 434h4.4M326.6 434h4.4M353 434h4.4M361.8 434h4.4M383.8 434h4.4M441 434h4.4M449.8 434h4.4M493.8 434h8.8M568.6 434h4.4M586.2 434h8.8M599.4 434h4.4M625.8 434h4.4M705 434h8.8M722.6 434h8.8M735.8 434h4.4M766.6 434h4.4M797.4 434h4.4M898.5 434h4.4M964.5 434h4.4M1004.1 434h4.4M1040 434h12.5M1065.7 434h4.4M1074.5 434h4.4M1100.9 434h4.4M1122.9 434h4.4M1131.7 434h4.4M1144.9 434h4.4" stroke="#93c6d5"/><path d="M344.2 434h4.4M968.9 434h4.4M1109.7 434h4.4" stroke="#a0aeb0"/><path d="M348.6 434h4.4M369 434h1.6M463 434h4.4M559.8 434h4.4M771 434h4.4M828.2 434h4.4M1215.3 434h4.4" stroke="#ab9b91"/><path d="M388.2 434h4.4M397 434h4.4M419 434h4.4M485 434h4.4M608.2 434h4.4M811 434h4M841.4 434h4.4M880.9 434h4.4M924.9 434h4.4M973.3 434h4.4M1166.9 434h8.8M1320.9 434h8.8M1364.9 434h4.4M1444.1 434h0.9" stroke="#af9789"/><path d="M392.6 434h4.4M551 434h4.4M564.2 434h4.4M595 434h4.4M652.2 434h4.4M867.7 434h8.8M907.3 434h8.8M1184.5 434h4.4M1193.3 434h4.4M1206.5 434h4.4M1338.5 434h3.5" stroke="#b98a71"/><path d="M401.4 434h4.4M467.4 434h4.6M678.6 434h4.4M713.8 434h4.4M762.2 434h4.4M863.3 434h4.4M1180.1 434h4.4M1219.7 434h4.4M1241.7 434h4.4M1250.5 434h4.4" stroke="#a8a099"/><path d="M405.8 434h8.8M436.6 434h4.4M502.6 434h4.4M546.6 434h4.4M982.1 434h4.4M1175.7 434h4.4M1268.1 434h4.4M1281.3 434h4.4M1294.5 434h4.4M1422.1 434h4.9" stroke="#bc856a"/><path d="M643.4 434h4.4M837 434h4.4M1052.5 434h4.4" stroke="#a2a9a8"/><path d="M731.4 434h4.4M1342.9 434h4.4M1400.1 434h4.4M1408.9 434h8.8" stroke="#ca744a"/><path d="M808 434h3M1391.3 434h4.4" stroke="#d75e35"/><path d="M885.3 434h4.4M951.3 434h4.4M1347.3 434h4.4M1369.3 434h4.4" stroke="#c67852"/><path d="M916.1 434h4.4M1246.1 434h4.4M1373.7 434h4.4" stroke="#c37c5a"/><path d="M1083.3 434h4.4" stroke="#9bb8bf"/><path d="M1351.7 434h4.4M1360.5 434h4.4" stroke="#d66137"/><path d="M1356.1 434h4.4M1382.5 434h8.8M1404.5 434h4.4M1417.7 434h4.4" stroke="#cd6f42"/><path d="M1378.1 434h4.4" stroke="#d06b3d"/><path d="M1445 434h7.5" stroke="#dd542f"/></g><g stroke-width="45"><path d="M239 479.5h8.4M379 479.5h4.8M493.8 479.5h8.8M520.2 479.5h0.8M727 479.5h4.4M775.4 479.5h8.8M850.1 479.5h4.4M955 479.5h5.1M1034.9 479.5h5.1M1061.3 479.5h4.4" stroke="#bc856a"/><path d="M247.4 479.5h4.4M366.2 479.5h8.8M524.6 479.5h4.4M617 479.5h4.4M797.4 479.5h4.4M960.1 479.5h4.4M1070.1 479.5h4.4M1272.5 479.5h4.4M1290.1 479.5h4.4M1401 479.5h7.9" stroke="#d46539"/><path d="M251.8 479.5h4.4M265 479.5h3M410.2 479.5h4.4M577.4 479.5h4.4M819.4 479.5h4.4M867.7 479.5h4.4M938.1 479.5h4.4M964.5 479.5h4.4M1193.3 479.5h4.4M1202.1 479.5h4.4M1325.3 479.5h4.4" stroke="#d06b3d"/><path d="M256.2 479.5h8.8M268 479.5h1.4M291.4 479.5h4.4M405.8 479.5h4.4M423.4 479.5h12.6M511.4 479.5h4.4M537.8 479.5h4.4M586.2 479.5h4.4M665.4 479.5h4.4M674.2 479.5h8.8M696.2 479.5h4.4M713.8 479.5h8.8M735.8 479.5h4.4M784.2 479.5h2.8M872.1 479.5h4.4M916.1 479.5h4.4M1001 479.5h3.1M1162.5 479.5h4.4M1188.9 479.5h4.4M1236 479.5h1.3" stroke="#b98a71"/><path d="M269.4 479.5h4.4M686 479.5h1.4M995.3 479.5h4.4" stroke="#93c6d5"/><path d="M273.8 479.5h4.4M322.2 479.5h4.4M1087.7 479.5h4.4M1096.5 479.5h4.4M1114.1 479.5h4.4" stroke="#8cd5ec"/><path d="M278.2 479.5h4.4M507 479.5h4.4M529 479.5h4.4M568.6 479.5h4.4M648 479.5h4.2M656.6 479.5h4.4M669.8 479.5h4.4M692 479.5h4.2M700.6 479.5h4.4M757.8 479.5h4.4M920.5 479.5h4.4M929.3 479.5h4.4M942.5 479.5h4.4M968.9 479.5h4.4M1021.7 479.5h4.4" stroke="#b58e79"/><path d="M282.6 479.5h4.4M388.2 479.5h4.4M546.6 479.5h8.8M621.4 479.5h4.4M771 479.5h4.4M810.6 479.5h4.4M837 479.5h4.4M894.1 479.5h0.9M951.3 479.5h3.7M1008.5 479.5h4.4M1043.7 479.5h4.4M1144.9 479.5h4.4" stroke="#c08162"/><path d="M287 479.5h4.4M309 479.5h8.8M383.8 479.5h4.4M401.4 479.5h4.4M502.6 479.5h4.4M581.8 479.5h4.4M762.2 479.5h4.4M924.9 479.5h4.4M933.7 479.5h4.4M1056.9 479.5h4.4M1444.1 479.5h8.4" stroke="#af9789"/><path d="M295.8 479.5h4.4M392.6 479.5h4.4M419 479.5h4.4M990.9 479.5h4.4M1012.9 479.5h4.4M1149.3 479.5h4.4" stroke="#a5a4a1"/><path d="M300.2 479.5h4.4M1109.6 479.5h4.5M1122.9 479.5h4.4M1131.7 479.5h8.9" stroke="#8ed0e4"/><path d="M304.6 479.5h4.4M683 479.5h3M731.4 479.5h4.4M1303 479.5h4.7" stroke="#a8a099"/><path d="M317.8 479.5h4.4M472 479.5h4.2M480.6 479.5h4.4M489.4 479.5h4.4M709.4 479.5h4.4M999.7 479.5h1.3" stroke="#91cbdd"/><path d="M326.6 479.5h4.4M397 479.5h4.4M476.2 479.5h4.4M485 479.5h4.4M515.8 479.5h4.4M661 479.5h4.4M744.6 479.5h4.4M1004.1 479.5h4.4M1052.5 479.5h4.4M1074.5 479.5h4.5" stroke="#ab9b91"/><path d="M331 479.5h8M652.2 479.5h4.4M705 479.5h4.4M722.6 479.5h4.4M740.2 479.5h4.4M749 479.5h4.4M766.6 479.5h4.4M911.7 479.5h4.4M1140.6 479.5h4.3M1294.5 479.5h3.5" stroke="#b29381"/><path d="M339 479.5h5.2M414.6 479.5h4.4M441 479.5h4.4M521 479.5h3.6M590.6 479.5h4.4M603.8 479.5h4.4M630.2 479.5h4.4M788.6 479.5h8.8M854.5 479.5h4.4M889.7 479.5h4.4M1158.1 479.5h4.4M1166.9 479.5h4.6M1206.5 479.5h8.8M1254.9 479.5h4.4M1417.7 479.5h4.4" stroke="#cd6f42"/><path d="M344.2 479.5h4.4M608.2 479.5h4.4M625.8 479.5h4.4M639 479.5h1M753.4 479.5h4.4M828.2 479.5h4.4M880.9 479.5h4.4M895 479.5h3.5M946.9 479.5h4.4M977.7 479.5h4.4M1307.7 479.5h4.4M1329.7 479.5h4.3" stroke="#ca744a"/><path d="M348.6 479.5h4.4M454.2 479.5h4.4M801.8 479.5h4.4M832.6 479.5h4.4M845.8 479.5h4.4M885.3 479.5h4.4M902.9 479.5h4.4M1246.1 479.5h4.4M1281.3 479.5h8.8M1316.5 479.5h4.4" stroke="#d2683b"/><path d="M353 479.5h4.4M445.4 479.5h4.4M1197.7 479.5h4.4M1342.9 479.5h4.4M1408.9 479.5h4.4M1435.3 479.5h4.4" stroke="#dd542f"/><path d="M357.4 479.5h4.4M449.8 479.5h4.4M841.4 479.5h4.4M1171.5 479.5h4.2M1219.7 479.5h4.4" stroke="#d95a33"/><path d="M361.8 479.5h4.4M375 479.5h4M640 479.5h3.4M823.8 479.5h4.4M858.9 479.5h4.4M973.3 479.5h4.4M1268.1 479.5h4.4" stroke="#d75e35"/><path d="M436 479.5h5M876.5 479.5h4.4M1184.5 479.5h4.4M1360.5 479.5h4.4M1391.3 479.5h4.4" stroke="#e14d2b"/><path d="M458.6 479.5h13.4M533.4 479.5h4.4M559.8 479.5h4.4M643.4 479.5h4.6M806.2 479.5h4.4M815 479.5h4.4M1250.5 479.5h4.4M1320.9 479.5h4.4M1338.5 479.5h4.4M1426.5 479.5h4.4" stroke="#d66137"/><path d="M542.2 479.5h4.4M555.4 479.5h4.4M595 479.5h8.8M612.6 479.5h4.4M787 479.5h1.6M982.1 479.5h3.9M1030.5 479.5h4.4M1040 479.5h3.7M1065.7 479.5h4.4M1180.1 479.5h4.4M1232.9 479.5h3.1M1241.7 479.5h4.4M1263.7 479.5h4.4M1276.9 479.5h4.4M1413.3 479.5h4.4" stroke="#c37c5a"/><path d="M564.2 479.5h4.4M1364.9 479.5h4.4M1373.7 479.5h4.4" stroke="#e83f23"/><path d="M573 479.5h4.4M634.6 479.5h4.4M986 479.5h4.9M1017.3 479.5h4.4M1026.1 479.5h4.4M1228.5 479.5h4.4M1237.3 479.5h4.4M1259.3 479.5h4.4" stroke="#c67852"/><path d="M687.4 479.5h4.6M1100.9 479.5h4.9M1298 479.5h0.9" stroke="#98bdc6"/><path d="M863.3 479.5h4.4M1175.7 479.5h4.4M1215.3 479.5h4.4M1430.9 479.5h4.4" stroke="#db5731"/><path d="M898.5 479.5h4.4M1153.7 479.5h4.4M1312.1 479.5h4.4" stroke="#a2a9a8"/><path d="M907.3 479.5h4.4M1127.3 479.5h4.4" stroke="#9bb8bf"/><path d="M1048.1 479.5h4.4M1118.5 479.5h4.4M1298.9 479.5h4.1" stroke="#a0aeb0"/><path d="M1079 479.5h4.3" stroke="#9db3b7"/><path d="M1083.3 479.5h4.4M1092.1 479.5h4.4" stroke="#96c2ce"/><path d="M1105.8 479.5h3.8" stroke="#e8e8e8"/><path d="M1224.1 479.5h4.4M1347.3 479.5h4.4M1422.1 479.5h4.4M1439.7 479.5h4.4" stroke="#df502d"/><path d="M1334 479.5h4.5M1351.7 479.5h8.8M1369.3 479.5h4.4M1378.1 479.5h4.4M1386.9 479.5h4.4M1400.1 479.5h0.9" stroke="#e34a29"/><path d="M1382.5 479.5h4.4" stroke="#e44627"/><path d="M1395.7 479.5h4.4" stroke="#e64325"/></g><g stroke-width="50"><path d="M239 527h8.4M255 527h1.2M331 527h4.4M353 527h4.4M383.8 527h4.4M392.6 527h4.4M410.2 527h4.4M463 527h4M713.8 527h4.4M823.8 527h4.4M845.8 527h4.4M867.7 527h4.4M911.7 527h4.4M938.1 527h4.4M1030.5 527h4.4M1065.7 527h4.3M1241.7 527h8.8M1325.3 527h4.4M1426.5 527h4.4" stroke="#cd6f42"/><path d="M247.4 527h4.4M256.2 527h4.4M317.8 527h4.4M344.2 527h4.4M388.2 527h4.4M489.4 527h4.4M498.2 527h4.4M507 527h4.4M577.4 527h4.4M617 527h4.4M625.8 527h4.4M634.6 527h4.4M683 527h3M762.2 527h4.4M775.4 527h4.4M863.3 527h4.4M902.9 527h4.4M1334.1 527h4.4" stroke="#b29381"/><path d="M251.8 527h3.2M269.4 527h3.6M295.8 527h4.4M401.4 527h4.4M427.8 527h4.4M471.8 527h4.4M568.6 527h4.4M603.8 527h4.4M639 527h1M787 527h1.6M960.1 527h4.4M1329.7 527h4.4M1386.9 527h4.4" stroke="#bc856a"/><path d="M260.6 527h4.4" stroke="#98bdc6"/><path d="M265 527h4.4M718.2 527h4.4" stroke="#9db3b7"/><path d="M273 527h5" stroke="#e44627"/><path d="M278 527h4.6M287 527h4.4M300.2 527h4.4M366.2 527h4.4M414.6 527h4.4M515.8 527h4.4M537.8 527h4.4M586.2 527h8.8M801.8 527h4.4M885.3 527h4.4M951.3 527h4.4M977.7 527h4.4M1004.1 527h4.4M1021.7 527h4.4M1061.3 527h4.4M1131.7 527h4.4M1351.7 527h4.4M1369.3 527h4.4" stroke="#c08162"/><path d="M282.6 527h4.4M304.6 527h4.4M322.2 527h4.4M335.4 527h8.8M348.6 527h4.4M441 527h4.4M542.2 527h4.4M555.4 527h4.4M564.2 527h4.4M652.2 527h4.4M722.6 527h4.4M858.9 527h4.4M889.7 527h4.4M1017.3 527h4.4M1034.9 527h8.8M1083 527h5M1175.7 527h8.8M1197.7 527h4.4M1215.3 527h4.4M1259.3 527h4.4M1285.7 527h4.4M1378.1 527h4.4" stroke="#b98a71"/><path d="M291.4 527h4.4M313.4 527h4.4M405.8 527h4.4M432.2 527h4.4M445.4 527h4.4M454.2 527h4.4M630.2 527h4.4M753.4 527h2.6M788.6 527h4.4M841.4 527h4.4M880.9 527h4.4M894.1 527h8.8M907.3 527h4.4M924.9 527h4.4M973.3 527h4.4M986.5 527h4.4M995.3 527h8.8M1012.9 527h4.4M1232.9 527h4.4M1268.1 527h13.2M1408.9 527h8.8" stroke="#c37c5a"/><path d="M309 527h4.4M370.6 527h4.4M423.4 527h4.4M741 527h3.6M756 527h1.8M850.1 527h8.8M1056.9 527h4.4M1171.5 527h4.2M1210.9 527h4.4M1338.5 527h8.8M1360.5 527h4.4M1382.5 527h4.4M1395.7 527h4.4M1404.5 527h4.4" stroke="#ca744a"/><path d="M326.6 527h4.4M379.4 527h4.4M480.6 527h4.4M524.6 527h4.4M595 527h4.4M640 527h3.4M665.4 527h8.8M727 527h8.8M740.2 527h0.8M1100.9 527h4.4M1356.1 527h4.4" stroke="#ab9b91"/><path d="M357.4 527h4.4M458.6 527h4.4M511.4 527h4.4M573 527h4.4M608.2 527h4.4M656.6 527h4.4M810.6 527h4.4M819.4 527h4.4M837 527h4.4M916.1 527h4.4M955.7 527h4.4M1052.5 527h4.4M1193.3 527h4.4M1254.9 527h4.4M1364.9 527h4.4M1430.9 527h4.4" stroke="#c67852"/><path d="M361.8 527h4.4M419 527h4.4M520.2 527h4.4M700.6 527h13.2M766.6 527h4.4M784.2 527h2.8M832.6 527h4.4M876.5 527h4.4M1043.7 527h4.4M1074.5 527h4.5M1092 527h4.5M1202.1 527h4.4M1400.1 527h4.4" stroke="#b58e79"/><path d="M375 527h4.4M436.6 527h4.4M467 527h4.8M529 527h8.8M559.8 527h4.4M612.6 527h4.4M643.4 527h8.8M678.6 527h4.4M771 527h4.4M933.7 527h4.4M1008.5 527h4.4" stroke="#a8a099"/><path d="M397 527h4.4M485 527h4.4M502.6 527h4.4M551 527h4.4M674.2 527h4.4M692 527h4.2M779.8 527h4.4M942.5 527h4.4M968.9 527h4.4M1026.1 527h4.4M1070 527h4.5M1096.5 527h4.4M1136.1 527h0.9M1422.1 527h4.4" stroke="#af9789"/><path d="M449.8 527h4.4M990.9 527h4.4" stroke="#a0aeb0"/><path d="M476.2 527h4.4M546.6 527h4.4M1118.5 527h4.4M1162.5 527h4.4" stroke="#91cbdd"/><path d="M493.8 527h4.4M599.4 527h4.4M621.4 527h4.4" stroke="#a5a4a1"/><path d="M581.8 527h4.4M696.2 527h4.4M920.5 527h4.4M1166.9 527h4.6" stroke="#a2a9a8"/><path d="M661 527h4.4M686 527h6M735.8 527h4.4M1105.3 527h8.8M1122.9 527h4.4M1153.7 527h4.4" stroke="#93c6d5"/><path d="M744.6 527h4.4M828.2 527h4.4M1320.9 527h4.4" stroke="#d75e35"/><path d="M749 527h4.4M815 527h4.4M982.1 527h4.4M1206.5 527h4.4M1298.9 527h8.8M1316.5 527h4.4M1373.7 527h4.4M1391.3 527h4.4" stroke="#d66137"/><path d="M757.8 527h4.4M1127.3 527h4.4M1137 527h3.5" stroke="#8ed0e4"/><path d="M793 527h4.4M806.2 527h4.4M1048.1 527h4.4M1219.7 527h4.4M1237.3 527h4.4M1250.5 527h4.4M1263.7 527h4.4M1417.7 527h4.4" stroke="#d06b3d"/><path d="M797.4 527h4.4M1079 527h4" stroke="#dd542f"/><path d="M872.1 527h4.4M964.5 527h4.4M1088 527h4M1294.5 527h4.4M1307.7 527h4.4M1439.7 527h12.8" stroke="#d2683b"/><path d="M929.3 527h4.4M946.9 527h4.4M1184.5 527h4.4M1281.3 527h4.4M1290.1 527h4.4M1312.1 527h4.4M1435.3 527h4.4" stroke="#d46539"/><path d="M1114.1 527h4.4M1140.5 527h13.2M1158.1 527h4.4" stroke="#8cd5ec"/><path d="M1188.9 527h4.4M1347.3 527h4.4" stroke="#db5731"/><path d="M1224.1 527h4.4" stroke="#d95a33"/><path d="M1228.5 527h4.4" stroke="#df502d"/></g></g></g>
<text x="228.5" y="121.5" font-size="25.4" text-anchor="end">Early FGC-6W</text>
<text x="228.5" y="168.6" font-size="25.4" text-anchor="end">Early FGC-7W</text>
<text x="228.5" y="215.3" font-size="25.4" text-anchor="end">Early FGC-17W</text>
<text x="228.5" y="257.2" font-size="25.4" text-anchor="end">Late FGC-17W</text>
<text x="228.5" y="305.6" font-size="25.4" text-anchor="end">Early FGC-21W</text>
<text x="228.5" y="351" font-size="25.4" text-anchor="end">Late FGC-21W</text>
<text x="228.5" y="399.2" font-size="25.4" text-anchor="end">Early FGC</text>
<text x="228.5" y="446.3" font-size="25.4" text-anchor="end">Late FGC</text>
<text x="228.5" y="490.5" font-size="25.4" text-anchor="end">Early FGC</text>
<text x="228.5" y="535.6" font-size="25.4" text-anchor="end">Late FGC</text>
<g fill="#231815">
<rect x="40.5" y="103" width="3.5" height="248"/>
<rect x="91.3" y="383" width="3.5" height="69.5"/>
<rect x="91.3" y="471" width="3.5" height="71"/>
</g>
<text font-size="24.7" font-weight="bold" transform="translate(29.6 269) rotate(-90)">CtrlM<tspan font-size="19.5" dy="-19" dx="2">a</tspan></text>
<text font-size="24.7" font-weight="bold" transform="translate(82.6 461.5) rotate(-90)">CtrlM<tspan font-size="19.5" dy="-19.5" dx="1">b</tspan></text>
<text font-size="24.7" font-weight="bold" transform="translate(82.8 524.8) rotate(-90)">KS</text>
<defs><linearGradient id="cbA" x1="0" x2="1" y1="0" y2="0"><stop offset="0.000" stop-color="#8cd5ec"/><stop offset="0.233" stop-color="#a6a29d"/><stop offset="0.500" stop-color="#cf6d3e"/><stop offset="1.000" stop-color="#f92111"/></linearGradient></defs>
<rect x="1141.7" y="609.4" width="306.5" height="20.4" fill="url(#cbA)"/>
<text x="1288.7" y="599" font-size="24.3" text-anchor="middle">DNA methylation (%)</text>
<text x="1141.7" y="657.2" font-size="27.5" text-anchor="middle">0</text>
<text x="1209.7" y="657.2" font-size="27.5" text-anchor="middle">20</text>
<text x="1277.6" y="657.2" font-size="27.5" text-anchor="middle">40</text>
<text x="1345.6" y="657.2" font-size="27.5" text-anchor="middle">60</text>
<text x="1413.5" y="657.2" font-size="27.5" text-anchor="middle">80</text>
<g shape-rendering="crispEdges">
<rect x="1674.5" y="80.3" width="83.5" height="23.9" fill="#3f7fca"/>
<rect x="1674.5" y="104.2" width="83.5" height="48.3" fill="#e1c42f"/>
<rect x="1674.5" y="152.5" width="83.5" height="23.5" fill="#8c8c8c"/>
<rect x="1674.5" y="176" width="83.5" height="206" fill="#cd5150"/>
<rect x="1674.5" y="382" width="83.5" height="4.5" fill="#7fa7dc"/>
<rect x="1674.5" y="386.5" width="83.5" height="111.5" fill="#21426b"/>
<rect x="1790.8" y="80.3" width="83.5" height="11.2" fill="#3f7fca"/>
<rect x="1790.8" y="91.5" width="83.5" height="63.5" fill="#e1c42f"/>
<rect x="1790.8" y="155" width="83.5" height="37.5" fill="#8c8c8c"/>
<rect x="1790.8" y="192.5" width="83.5" height="231.9" fill="#cd5150"/>
<rect x="1790.8" y="424.4" width="83.5" height="11.4" fill="#7fa7dc"/>
<rect x="1790.8" y="435.8" width="83.5" height="62.2" fill="#21426b"/>
</g>
<path d="M1646.6 60.5V517.7H1902.4" fill="none" stroke="#000" stroke-width="1.6"/>
<path d="M1639 81.2H1646.6M1639 185.2H1646.6M1639 289H1646.6M1639 392.8H1646.6M1639 496.6H1646.6M1715.8 517.7V523.8M1832.3 517.7V523.8" fill="none" stroke="#000" stroke-width="1.6"/>
<text x="1630" y="89.9" font-size="24.5" text-anchor="end">100</text>
<text x="1630" y="193.9" font-size="24.5" text-anchor="end">75</text>
<text x="1630" y="297.7" font-size="24.5" text-anchor="end">50</text>
<text x="1630" y="401.5" font-size="24.5" text-anchor="end">25</text>
<text x="1630" y="505.3" font-size="24.5" text-anchor="end">0</text>
<text font-size="29.5" text-anchor="middle" transform="translate(1571.5 270.5) rotate(-90)">Percentage (%)</text>
<text font-size="29.3" text-anchor="end" transform="translate(1730.5 547) rotate(-45)">Early FGC</text>
<text font-size="29.3" text-anchor="end" transform="translate(1848 547) rotate(-45)">Late FGC</text>
<text x="1927" y="96.7" font-size="25.7">SVA subfamilies</text>
<rect x="1960.7" y="111.4" width="37.6" height="37.4" fill="#3f7fca"/>
<text x="2012" y="138.2" font-size="25.6">SVA-A</text>
<rect x="1960.7" y="149.5" width="37.6" height="37.4" fill="#e1c42f"/>
<text x="2012" y="176.3" font-size="25.6">SVA-B</text>
<rect x="1960.7" y="187.7" width="37.6" height="37.4" fill="#8c8c8c"/>
<text x="2012" y="214.5" font-size="25.6">SVA-C</text>
<rect x="1960.7" y="225.8" width="37.6" height="37.4" fill="#cd5150"/>
<text x="2012" y="252.6" font-size="25.6">SVA-D</text>
<rect x="1960.7" y="263.9" width="37.6" height="37.4" fill="#7fa7dc"/>
<text x="2012" y="290.7" font-size="25.6">SVA-E</text>
<rect x="1960.7" y="302" width="37.6" height="37.4" fill="#21426b"/>
<text x="2012" y="328.8" font-size="25.6">SVA-F</text>
<g shape-rendering="crispEdges"><rect x="242.5" y="808.3" width="203.3" height="23.3" fill="#fb84fb"/><rect x="445.8" y="808.3" width="240.9" height="23.3" fill="#f08a82"/><rect x="686.7" y="808.3" width="132" height="23.3" fill="#88b0fa"/><rect x="818.8" y="808.3" width="265" height="23.3" fill="#55fd62"/><rect x="1083.8" y="808.3" width="260" height="23.3" fill="#74fae8"/><rect x="1343.8" y="808.3" width="104.2" height="23.3" fill="#c8c02c"/></g>
<clipPath id="cphbC"><rect x="242" y="839" width="1206" height="456"/></clipPath><g clip-path="url(#cphbC)"><g fill="none" filter="url(#hbC)" shape-rendering="crispEdges"><g stroke-width="39"><path d="M238.5 854.5h6.3M332.2 854.5h2.3M454.2 854.5h2.3M504.8 854.5h2.3M589.9 854.5h2.3M610.6 854.5h4.6M819.9 854.5h2.3M824.5 854.5h2.3M840.6 854.5h4.6M891.3 854.5h2.3M923.5 854.5h2.3M958 854.5h2.3M1008.6 854.5h2.3M1029.3 854.5h4.6M1038.5 854.5h4.6M1052.3 854.5h4.6M1227.1 854.5h2.3M1257.1 854.5h2.3M1305.4 854.5h2.3M1351.4 854.5h2.3M1425 854.5h2.3" stroke="#e64325"/><path d="M244.8 854.5h4.6M318.4 854.5h2.3M343.7 854.5h2.3M415 854.5h2.3M757.8 854.5h4.6M803.8 854.5h4.6M1314.6 854.5h2.3" stroke="#c67852"/><path d="M249.4 854.5h2.3M277 854.5h2.3M329.9 854.5h2.3M417.3 854.5h4.6M451.9 854.5h2.3M474.9 854.5h2.3M606 854.5h4.6M739.4 854.5h2.3M787.7 854.5h2.3M872.9 854.5h4.6M884.4 854.5h2.3M1116.7 854.5h2.3M1123.6 854.5h2.3M1148.9 854.5h2.3" stroke="#d95a33"/><path d="M251.7 854.5h2.3M748.6 854.5h4.6M780.8 854.5h4.6M1185.7 854.5h2.3M1323.8 854.5h2.3" stroke="#c08162"/><path d="M254 854.5h2.3M283.9 854.5h4.6M316.1 854.5h2.3M530.1 854.5h2.3M1316.9 854.5h2.3" stroke="#c37c5a"/><path d="M256.3 854.5h4.6M302.3 854.5h4.6M380.5 854.5h4.6M440.3 854.5h2.3M477.2 854.5h2.3M548.5 854.5h2.3M557.7 854.5h2.3M569.2 854.5h4.6M576.1 854.5h2.3M624.4 854.5h4.6M776.2 854.5h4.6M799.2 854.5h2.3M861.4 854.5h2.3M889 854.5h2.3M946.5 854.5h2.3M978.7 854.5h9.2M992.5 854.5h2.3M1102.9 854.5h2.3M1139.7 854.5h4.6M1155.8 854.5h2.3M1204.1 854.5h4.6M1220.2 854.5h6.9M1243.2 854.5h2.3M1250.2 854.5h2.3M1259.4 854.5h4.6M1333 854.5h2.3M1441.1 854.5h2.3" stroke="#df502d"/><path d="M260.9 854.5h2.3M339.1 854.5h4.6M359.8 854.5h2.3M375.9 854.5h4.6M424.2 854.5h2.3M431.1 854.5h2.3M438 854.5h2.3M486.4 854.5h2.3M594.5 854.5h2.3M647.4 854.5h4.6M741.7 854.5h2.3M753.2 854.5h2.3M813 854.5h2.3M849.9 854.5h2.3M863.7 854.5h4.6M907.4 854.5h2.3M912 854.5h2.3M928.1 854.5h4.6M1070.7 854.5h2.3M1165 854.5h2.3M1383.6 854.5h2.3M1392.8 854.5h4.6" stroke="#d46539"/><path d="M263.2 854.5h2.3M357.5 854.5h2.3M371.3 854.5h4.6M396.6 854.5h2.3M463.4 854.5h4.6M815.3 854.5h2.3M845.2 854.5h2.3M905.1 854.5h2.3M1056.9 854.5h2.3M1066.1 854.5h2.3M1121.3 854.5h2.3M1247.9 854.5h2.3M1296.2 854.5h2.3M1335.3 854.5h2.3M1342.2 854.5h4.6M1369.8 854.5h2.3M1385.9 854.5h2.3" stroke="#d66137"/><path d="M265.5 854.5h4.6M272.4 854.5h2.3M311.5 854.5h4.6M327.6 854.5h2.3M403.5 854.5h4.6M435.7 854.5h2.3M488.7 854.5h4.6M592.2 854.5h2.3M633.6 854.5h2.3M711.8 854.5h4.6M852.2 854.5h2.3M960.3 854.5h2.3M1073 854.5h2.3M1084.5 854.5h2.3M1091.4 854.5h2.3M1337.6 854.5h4.6" stroke="#d2683b"/><path d="M270.1 854.5h2.3M348.3 854.5h9.2M421.9 854.5h2.3M635.9 854.5h2.3M654.3 854.5h2.3M1089.1 854.5h2.3M1176.5 854.5h4.6" stroke="#d06b3d"/><path d="M274.7 854.5h2.3M385.1 854.5h2.3M394.3 854.5h2.3M412.7 854.5h2.3M640.5 854.5h2.3M762.4 854.5h9.2M822.2 854.5h2.3M951.1 854.5h2.3M1059.2 854.5h2.3M1068.4 854.5h2.3M1107.5 854.5h4.6M1356 854.5h2.3M1372.1 854.5h2.3M1411.2 854.5h2.3" stroke="#d75e35"/><path d="M279.3 854.5h2.3M325.3 854.5h2.3M387.4 854.5h2.3M408.1 854.5h4.6M458.8 854.5h4.6M472.6 854.5h2.3M484.1 854.5h2.3M495.6 854.5h2.3M755.5 854.5h2.3M801.5 854.5h2.3M817.6 854.5h2.3M882.1 854.5h2.3M902.8 854.5h2.3M909.7 854.5h2.3M1119 854.5h2.3M1174.2 854.5h2.3M1188 854.5h2.3M1217.9 854.5h2.3M1231.7 854.5h2.3M1245.5 854.5h2.3M1264 854.5h2.3M1273.2 854.5h2.3M1379 854.5h4.6M1408.9 854.5h2.3" stroke="#db5731"/><path d="M281.6 854.5h2.3M306.9 854.5h4.6M362.1 854.5h2.3M479.5 854.5h2.3M493.3 854.5h2.3M497.9 854.5h2.3M509.4 854.5h4.6M587.6 854.5h2.3M596.8 854.5h4.6M629 854.5h4.6M661.2 854.5h4.6M716.4 854.5h4.6M725.6 854.5h2.3M734.8 854.5h4.6M744 854.5h4.6M771.6 854.5h4.6M836 854.5h4.6M886.7 854.5h2.3M1105.2 854.5h2.3M1151.2 854.5h4.6M1171.9 854.5h2.3M1194.9 854.5h4.6M1234 854.5h2.3M1240.9 854.5h2.3M1275.5 854.5h2.3M1287 854.5h4.6M1358.3 854.5h2.3" stroke="#dd542f"/><path d="M288.5 854.5h4.6M1114.4 854.5h2.3M1266.3 854.5h2.3" stroke="#b58e79"/><path d="M293.1 854.5h2.3M442.6 854.5h2.3M541.6 854.5h6.9M564.6 854.5h4.6M573.8 854.5h2.3M638.2 854.5h2.3M642.8 854.5h4.6M652 854.5h2.3M670.4 854.5h2.3M698 854.5h4.6M727.9 854.5h2.3M859.1 854.5h2.3M948.8 854.5h2.3M953.4 854.5h2.3M962.6 854.5h2.3M969.5 854.5h2.3M974.1 854.5h4.6M994.8 854.5h2.3M1020.1 854.5h4.6M1075.3 854.5h4.6M1082.2 854.5h2.3M1093.7 854.5h9.2M1130.5 854.5h4.6M1213.3 854.5h4.6M1238.6 854.5h2.3M1303.1 854.5h2.3M1326.1 854.5h2.3M1420.4 854.5h4.6M1427.3 854.5h2.3M1438.8 854.5h2.3" stroke="#e14d2b"/><path d="M295.4 854.5h2.3M445 854.5h4.6M500.2 854.5h4.6M527.8 854.5h2.3M550.8 854.5h6.9M578.4 854.5h4.6M617.5 854.5h2.3M658.9 854.5h2.3M665.8 854.5h4.6M672.7 854.5h2.3M677.3 854.5h6.9M688.8 854.5h2.3M704.9 854.5h6.9M808.4 854.5h4.6M870.6 854.5h2.3M955.7 854.5h2.3M971.8 854.5h2.3M997.1 854.5h4.6M1004 854.5h2.3M1024.7 854.5h4.6M1036.2 854.5h2.3M1043.1 854.5h4.6M1050 854.5h2.3M1079.9 854.5h2.3M1128.2 854.5h2.3M1158.1 854.5h2.3M1162.7 854.5h2.3M1183.4 854.5h2.3M1192.6 854.5h2.3M1199.5 854.5h2.3M1268.6 854.5h4.6M1282.4 854.5h4.6M1298.5 854.5h4.6M1319.2 854.5h4.6M1360.6 854.5h9.2" stroke="#e34a29"/><path d="M297.7 854.5h4.6M334.5 854.5h4.6M369 854.5h2.3M964.9 854.5h4.6M1086.8 854.5h2.3M1181.1 854.5h2.3M1236.3 854.5h2.3M1277.8 854.5h2.3M1293.9 854.5h2.3M1310 854.5h2.3" stroke="#cd6f42"/><path d="M320.7 854.5h4.6" stroke="#ab9b91"/><path d="M346 854.5h2.3M730.2 854.5h4.6M831.4 854.5h2.3M1280.1 854.5h2.3M1291.6 854.5h2.3M1312.3 854.5h2.3" stroke="#ca744a"/><path d="M364.4 854.5h2.3M389.7 854.5h4.6" stroke="#93c6d5"/><path d="M366.7 854.5h2.3" stroke="#96c2ce"/><path d="M398.9 854.5h4.6M426.5 854.5h4.6M560 854.5h2.3M1144.3 854.5h4.6M1201.8 854.5h2.3" stroke="#bc856a"/><path d="M433.4 854.5h2.3M481.8 854.5h2.3M516.3 854.5h2.3M686.5 854.5h2.3M879.8 854.5h2.3M1346.8 854.5h4.6M1397.4 854.5h4.6M1406.6 854.5h2.3" stroke="#ec391f"/><path d="M449.6 854.5h2.3M456.5 854.5h2.3M507.1 854.5h2.3M532.4 854.5h4.6M601.4 854.5h4.6M693.4 854.5h4.6M794.6 854.5h2.3M918.9 854.5h4.6M925.8 854.5h2.3M939.6 854.5h2.3M987.9 854.5h4.6M1061.5 854.5h4.6M1353.7 854.5h2.3M1388.2 854.5h4.6" stroke="#e83f23"/><path d="M468 854.5h4.6M523.2 854.5h4.6M537 854.5h4.6M583 854.5h4.6M615.2 854.5h2.3M619.8 854.5h4.6M675 854.5h2.3M691.1 854.5h2.3M702.6 854.5h2.3M721 854.5h4.6M785.4 854.5h2.3M826.8 854.5h4.6M833.7 854.5h2.3M847.6 854.5h2.3M854.5 854.5h4.6M868.3 854.5h2.3M893.6 854.5h6.9M914.3 854.5h4.6M941.9 854.5h4.6M1001.7 854.5h2.3M1006.3 854.5h2.3M1013.2 854.5h2.3M1033.9 854.5h2.3M1047.7 854.5h2.3M1125.9 854.5h2.3M1137.4 854.5h2.3M1160.4 854.5h2.3M1167.3 854.5h4.6M1190.3 854.5h2.3M1208.7 854.5h4.6M1229.4 854.5h2.3M1252.5 854.5h4.6M1307.7 854.5h2.3M1328.4 854.5h4.6M1415.8 854.5h4.6" stroke="#e44627"/><path d="M514 854.5h2.3M1376.7 854.5h2.3" stroke="#ee351d"/><path d="M518.6 854.5h4.6M656.6 854.5h2.3M684.2 854.5h2.3M796.9 854.5h2.3M877.5 854.5h2.3M900.5 854.5h2.3M932.7 854.5h6.9M1010.9 854.5h2.3M1015.5 854.5h4.6M1135.1 854.5h2.3M1413.5 854.5h2.3M1443.4 854.5h8.6" stroke="#ea3c21"/><path d="M562.3 854.5h2.3M790 854.5h4.6" stroke="#b98a71"/><path d="M1112.1 854.5h2.3" stroke="#b29381"/><path d="M1374.4 854.5h2.3M1434.2 854.5h4.6" stroke="#f0321b"/><path d="M1402 854.5h4.6M1429.6 854.5h4.6" stroke="#f22f19"/></g><g stroke-width="35"><path d="M238.5 891.5h8.6M311.5 891.5h4.6M325.3 891.5h4.6M369 891.5h2.3M401.2 891.5h2.3M445 891.5h2.3M665.8 891.5h2.3M691.1 891.5h2.3M707.2 891.5h4.6M732.5 891.5h2.3M762.4 891.5h2.3M921.2 891.5h2.3M971.8 891.5h2.3M999.4 891.5h2.3M1020.1 891.5h4.6M1054.6 891.5h2.3M1137.4 891.5h2.3M1146.6 891.5h2.3" stroke="#c37c5a"/><path d="M247.1 891.5h4.6M306.9 891.5h2.3M426.5 891.5h4.6M530.1 891.5h2.3M592.2 891.5h2.3M608.3 891.5h6.9M983.3 891.5h2.3M1029.3 891.5h2.3M1107.5 891.5h4.6M1190.3 891.5h4.6M1211 891.5h2.3" stroke="#bc856a"/><path d="M251.7 891.5h4.6M265.5 891.5h2.3M348.3 891.5h4.6M410.4 891.5h2.3M419.6 891.5h2.3M424.2 891.5h2.3M435.7 891.5h2.3M661.2 891.5h2.3M684.2 891.5h2.3M688.8 891.5h2.3M755.5 891.5h2.3M776.2 891.5h2.3M792.3 891.5h2.3M808.4 891.5h2.3M829.1 891.5h2.3M840.6 891.5h2.3M1031.6 891.5h2.3M1167.3 891.5h2.3M1224.8 891.5h2.3" stroke="#d2683b"/><path d="M256.3 891.5h2.3M260.9 891.5h2.3M279.3 891.5h4.6M341.4 891.5h2.3M405.8 891.5h2.3M421.9 891.5h2.3M714.1 891.5h2.3M764.7 891.5h2.3M810.7 891.5h2.3M891.3 891.5h2.3M1075.3 891.5h2.3M1316.9 891.5h2.3M1321.5 891.5h4.6M1333 891.5h2.3" stroke="#d06b3d"/><path d="M258.6 891.5h2.3M270.1 891.5h4.6M288.5 891.5h4.6M1245.5 891.5h2.3M1328.4 891.5h4.6M1337.6 891.5h4.6" stroke="#b29381"/><path d="M263.2 891.5h2.3M343.7 891.5h2.3M373.6 891.5h2.3M396.6 891.5h2.3M417.3 891.5h2.3M730.2 891.5h2.3M976.4 891.5h2.3M997.1 891.5h2.3M1033.9 891.5h4.6M1052.3 891.5h2.3M1144.3 891.5h2.3M1185.7 891.5h2.3M1236.3 891.5h4.6" stroke="#c67852"/><path d="M267.8 891.5h2.3M274.7 891.5h4.6M408.1 891.5h2.3M412.7 891.5h4.6M438 891.5h2.3M686.5 891.5h2.3M693.4 891.5h2.3M702.6 891.5h4.6M716.4 891.5h4.6M734.8 891.5h2.3M753.2 891.5h2.3M773.9 891.5h2.3M778.5 891.5h2.3M790 891.5h2.3M799.2 891.5h4.6M1240.9 891.5h2.3" stroke="#d46539"/><path d="M283.9 891.5h4.6M293.1 891.5h4.6M375.9 891.5h4.6M385.1 891.5h4.6M647.4 891.5h4.6M737.1 891.5h2.3M744 891.5h4.6M771.6 891.5h2.3M794.6 891.5h2.3M826.8 891.5h2.3M916.6 891.5h2.3M1298.5 891.5h2.3" stroke="#d66137"/><path d="M297.7 891.5h4.6M339.1 891.5h2.3M900.5 891.5h4.6M1208.7 891.5h2.3M1250.2 891.5h4.6" stroke="#b98a71"/><path d="M302.3 891.5h4.6M357.5 891.5h4.6M1079.9 891.5h2.3M1342.2 891.5h2.3" stroke="#b58e79"/><path d="M309.2 891.5h2.3M398.9 891.5h2.3M635.9 891.5h2.3M668.1 891.5h2.3M918.9 891.5h2.3M944.2 891.5h2.3M969.5 891.5h2.3M985.6 891.5h2.3M1135.1 891.5h2.3M1169.6 891.5h2.3M1310 891.5h4.6" stroke="#c08162"/><path d="M316.1 891.5h4.6M447.3 891.5h2.3M463.4 891.5h4.6M550.8 891.5h2.3M583 891.5h4.6M695.7 891.5h2.3M769.3 891.5h2.3M796.9 891.5h2.3M882.1 891.5h6.9M978.7 891.5h4.6M987.9 891.5h2.3M1006.3 891.5h4.6M1015.5 891.5h4.6M1066.1 891.5h4.6M1132.8 891.5h2.3M1148.9 891.5h2.3M1153.5 891.5h4.6M1178.8 891.5h2.3M1194.9 891.5h4.6M1268.6 891.5h4.6M1284.7 891.5h2.3M1300.8 891.5h4.6" stroke="#df502d"/><path d="M320.7 891.5h4.6M403.5 891.5h2.3M468 891.5h2.3M711.8 891.5h2.3M727.9 891.5h2.3M787.7 891.5h2.3M806.1 891.5h2.3M893.6 891.5h2.3M964.9 891.5h4.6M1077.6 891.5h2.3M1314.6 891.5h2.3M1319.2 891.5h2.3M1335.3 891.5h2.3" stroke="#cd6f42"/><path d="M329.9 891.5h2.3" stroke="#a8a099"/><path d="M332.2 891.5h2.3M431.1 891.5h4.6" stroke="#a5a4a1"/><path d="M334.5 891.5h2.3M362.1 891.5h2.3M442.6 891.5h2.3M539.3 891.5h2.3M681.9 891.5h2.3M698 891.5h4.6M739.4 891.5h2.3M813 891.5h4.6M836 891.5h4.6M847.6 891.5h2.3M852.2 891.5h2.3M974.1 891.5h2.3M1050 891.5h2.3M1082.2 891.5h2.3M1112.1 891.5h2.3M1119 891.5h2.3M1266.3 891.5h2.3M1277.8 891.5h2.3" stroke="#d95a33"/><path d="M336.8 891.5h2.3M440.3 891.5h2.3M587.6 891.5h2.3M748.6 891.5h4.6M866 891.5h2.3M889 891.5h2.3M914.3 891.5h2.3M1056.9 891.5h4.6M1254.8 891.5h4.6M1264 891.5h2.3" stroke="#d75e35"/><path d="M346 891.5h2.3M371.3 891.5h2.3M380.5 891.5h4.6M394.3 891.5h2.3M652 891.5h4.6M725.6 891.5h2.3M1102.9 891.5h4.6M1188 891.5h2.3M1259.4 891.5h4.6" stroke="#ca744a"/><path d="M352.9 891.5h4.6M479.5 891.5h2.3M504.8 891.5h2.3M532.4 891.5h4.6M679.6 891.5h2.3M741.7 891.5h2.3M757.8 891.5h4.6M785.4 891.5h2.3M803.8 891.5h2.3M845.2 891.5h2.3M849.9 891.5h2.3M859.1 891.5h2.3M868.3 891.5h4.6M909.7 891.5h4.6M932.7 891.5h4.6M948.8 891.5h2.3M1070.7 891.5h2.3M1116.7 891.5h2.3M1139.7 891.5h4.6M1165 891.5h2.3M1181.1 891.5h2.3M1280.1 891.5h2.3M1402 891.5h2.3" stroke="#db5731"/><path d="M364.4 891.5h2.3" stroke="#96c2ce"/><path d="M366.7 891.5h2.3M392 891.5h2.3" stroke="#93c6d5"/><path d="M389.7 891.5h2.3" stroke="#91cbdd"/><path d="M449.6 891.5h4.6M458.8 891.5h2.3M472.6 891.5h2.3M481.8 891.5h4.6M491 891.5h2.3M495.6 891.5h4.6M502.5 891.5h2.3M514 891.5h2.3M546.2 891.5h4.6M569.2 891.5h4.6M626.7 891.5h2.3M642.8 891.5h4.6M672.7 891.5h6.9M721 891.5h2.3M822.2 891.5h2.3M872.9 891.5h4.6M895.9 891.5h4.6M907.4 891.5h2.3M953.4 891.5h2.3M960.3 891.5h4.6M1063.8 891.5h2.3M1084.5 891.5h4.6M1098.3 891.5h4.6M1171.9 891.5h2.3M1176.5 891.5h2.3M1204.1 891.5h2.3M1231.7 891.5h2.3M1243.2 891.5h2.3M1275.5 891.5h2.3M1289.3 891.5h2.3M1427.3 891.5h2.3" stroke="#e14d2b"/><path d="M454.2 891.5h2.3M511.7 891.5h2.3M819.9 891.5h2.3M833.7 891.5h2.3M842.9 891.5h2.3M941.9 891.5h2.3M992.5 891.5h2.3M1010.9 891.5h2.3M1043.1 891.5h4.6M1125.9 891.5h4.6M1360.6 891.5h6.9M1422.7 891.5h2.3" stroke="#e83f23"/><path d="M456.5 891.5h2.3M925.8 891.5h2.3M1367.5 891.5h2.3M1388.2 891.5h2.3" stroke="#ea3c21"/><path d="M461.1 891.5h2.3M486.4 891.5h2.3M543.9 891.5h2.3M573.8 891.5h9.2M589.9 891.5h2.3M603.7 891.5h4.6M615.2 891.5h2.3M633.6 891.5h2.3M656.6 891.5h4.6M670.4 891.5h2.3M817.6 891.5h2.3M831.4 891.5h2.3M856.8 891.5h2.3M879.8 891.5h2.3M994.8 891.5h2.3M1199.5 891.5h4.6M1385.9 891.5h2.3" stroke="#e64325"/><path d="M470.3 891.5h2.3M477.2 891.5h2.3M516.3 891.5h2.3M527.8 891.5h2.3M537 891.5h2.3M555.4 891.5h2.3M599.1 891.5h2.3M638.2 891.5h4.6M663.5 891.5h2.3M767 891.5h2.3M824.5 891.5h2.3M861.4 891.5h4.6M946.5 891.5h2.3M951.1 891.5h2.3M990.2 891.5h2.3M1073 891.5h2.3M1089.1 891.5h4.6M1151.2 891.5h2.3M1158.1 891.5h6.9M1183.4 891.5h2.3M1215.6 891.5h9.2M1282.4 891.5h2.3M1305.4 891.5h4.6M1408.9 891.5h2.3M1415.8 891.5h2.3M1425 891.5h2.3" stroke="#dd542f"/><path d="M474.9 891.5h2.3M493.3 891.5h2.3M500.2 891.5h2.3M509.4 891.5h2.3M518.6 891.5h9.2M557.7 891.5h2.3M594.5 891.5h2.3M617.5 891.5h2.3M629 891.5h4.6M723.3 891.5h2.3M937.3 891.5h4.6M955.7 891.5h2.3M1013.2 891.5h2.3M1024.7 891.5h4.6M1038.5 891.5h4.6M1061.5 891.5h2.3M1114.4 891.5h2.3M1121.3 891.5h2.3M1130.5 891.5h2.3M1174.2 891.5h2.3M1206.4 891.5h2.3M1213.3 891.5h2.3M1273.2 891.5h2.3M1287 891.5h2.3M1296.2 891.5h2.3M1383.6 891.5h2.3M1420.4 891.5h2.3" stroke="#e34a29"/><path d="M488.7 891.5h2.3M507.1 891.5h2.3M541.6 891.5h2.3M553.1 891.5h2.3M560 891.5h9.2M596.8 891.5h2.3M601.4 891.5h2.3M619.8 891.5h6.9M780.8 891.5h4.6M854.5 891.5h2.3M877.5 891.5h2.3M905.1 891.5h2.3M928.1 891.5h4.6M958 891.5h2.3M1001.7 891.5h4.6M1047.7 891.5h2.3M1093.7 891.5h4.6M1123.6 891.5h2.3M1291.6 891.5h4.6M1397.4 891.5h4.6M1413.5 891.5h2.3" stroke="#e44627"/><path d="M923.5 891.5h2.3M1227.1 891.5h4.6M1358.3 891.5h2.3M1390.5 891.5h2.3M1395.1 891.5h2.3" stroke="#ec391f"/><path d="M1234 891.5h2.3M1356 891.5h2.3M1374.4 891.5h9.2M1392.8 891.5h2.3M1443.4 891.5h8.6" stroke="#ee351d"/><path d="M1247.9 891.5h2.3" stroke="#af9789"/><path d="M1326.1 891.5h2.3" stroke="#ab9b91"/><path d="M1344.5 891.5h2.3M1349.1 891.5h2.3M1369.8 891.5h4.6M1406.6 891.5h2.3M1411.2 891.5h2.3M1434.2 891.5h4.6" stroke="#f0321b"/><path d="M1346.8 891.5h2.3M1438.8 891.5h2.3" stroke="#f32b17"/><path d="M1351.4 891.5h4.6M1404.3 891.5h2.3" stroke="#f22f19"/><path d="M1418.1 891.5h2.3M1429.6 891.5h4.6M1441.1 891.5h2.3" stroke="#f52815"/></g><g stroke-width="35"><path d="M238.5 926.5h8.6M375.9 926.5h4.6M396.6 926.5h2.3M419.6 926.5h2.3M504.8 926.5h2.3M532.4 926.5h4.6M560 926.5h2.3M619.8 926.5h2.3M640.5 926.5h4.6M711.8 926.5h2.3M794.6 926.5h4.6M826.8 926.5h2.3M877.5 926.5h4.6M895.9 926.5h4.6M946.5 926.5h2.3M978.7 926.5h2.3M983.3 926.5h2.3M1093.7 926.5h4.6M1132.8 926.5h2.3M1222.5 926.5h4.6M1261.7 926.5h2.3M1333 926.5h2.3" stroke="#bc856a"/><path d="M247.1 926.5h6.9M281.6 926.5h6.9M320.7 926.5h2.3M339.1 926.5h4.6M348.3 926.5h9.2M389.7 926.5h4.6M495.6 926.5h2.3M509.4 926.5h2.3M693.4 926.5h2.3M744 926.5h4.6M762.4 926.5h2.3M1084.5 926.5h2.3M1102.9 926.5h2.3M1114.4 926.5h2.3M1144.3 926.5h6.9M1158.1 926.5h2.3M1171.9 926.5h2.3M1190.3 926.5h4.6M1211 926.5h2.3M1250.2 926.5h4.6M1264 926.5h2.3M1291.6 926.5h2.3M1296.2 926.5h4.6M1335.3 926.5h2.3" stroke="#93c6d5"/><path d="M254 926.5h2.3M318.4 926.5h2.3M596.8 926.5h2.3M615.2 926.5h4.6M633.6 926.5h2.3M638.2 926.5h2.3M647.4 926.5h4.6M684.2 926.5h2.3M698 926.5h4.6M707.2 926.5h2.3M769.3 926.5h2.3M852.2 926.5h2.3M866 926.5h2.3M951.1 926.5h2.3M1027 926.5h2.3M1040.8 926.5h2.3M1059.2 926.5h4.6M1153.5 926.5h2.3M1307.7 926.5h4.6" stroke="#c37c5a"/><path d="M256.3 926.5h2.3M373.6 926.5h2.3M417.3 926.5h2.3M564.6 926.5h2.3M569.2 926.5h2.3M585.3 926.5h2.3M645.1 926.5h2.3M661.2 926.5h4.6M1316.9 926.5h2.3M1399.7 926.5h2.3" stroke="#a8a099"/><path d="M258.6 926.5h2.3M481.8 926.5h4.6M488.7 926.5h2.3M580.7 926.5h4.6M652 926.5h2.3M656.6 926.5h2.3M1135.1 926.5h2.3M1176.5 926.5h2.3M1321.5 926.5h2.3" stroke="#a5a4a1"/><path d="M260.9 926.5h4.6M270.1 926.5h2.3M274.7 926.5h4.6M288.5 926.5h9.2M306.9 926.5h4.6M366.7 926.5h2.3M380.5 926.5h4.6M421.9 926.5h2.3M426.5 926.5h2.3M431.1 926.5h4.6M440.3 926.5h4.6M449.6 926.5h4.6M491 926.5h2.3M520.9 926.5h2.3M587.6 926.5h2.3M734.8 926.5h2.3M748.6 926.5h2.3M753.2 926.5h2.3M757.8 926.5h2.3M764.7 926.5h2.3M799.2 926.5h2.3M1086.8 926.5h2.3M1107.5 926.5h6.9M1116.7 926.5h2.3M1121.3 926.5h4.6M1151.2 926.5h2.3M1197.2 926.5h2.3M1208.7 926.5h2.3M1247.9 926.5h2.3M1266.3 926.5h2.3M1273.2 926.5h2.3M1277.8 926.5h4.6M1289.3 926.5h2.3M1314.6 926.5h2.3M1323.8 926.5h4.6M1330.7 926.5h2.3" stroke="#91cbdd"/><path d="M265.5 926.5h4.6M316.1 926.5h2.3M394.3 926.5h2.3M486.4 926.5h2.3M541.6 926.5h4.6M553.1 926.5h6.9M599.1 926.5h2.3M686.5 926.5h2.3M792.3 926.5h2.3M948.8 926.5h2.3M969.5 926.5h4.6M985.6 926.5h2.3M1043.1 926.5h4.6M1066.1 926.5h4.6M1089.1 926.5h4.6M1119 926.5h2.3M1130.5 926.5h2.3M1270.9 926.5h2.3" stroke="#c08162"/><path d="M272.4 926.5h2.3M408.1 926.5h2.3M477.2 926.5h4.6M704.9 926.5h2.3M727.9 926.5h2.3M780.8 926.5h2.3M808.4 926.5h2.3M1155.8 926.5h2.3M1174.2 926.5h2.3M1178.8 926.5h2.3M1199.5 926.5h2.3M1231.7 926.5h2.3M1236.3 926.5h2.3M1254.8 926.5h2.3M1287 926.5h2.3" stroke="#8cd5ec"/><path d="M279.3 926.5h2.3M300 926.5h2.3M304.6 926.5h2.3M311.5 926.5h4.6M334.5 926.5h2.3M343.7 926.5h4.6M357.5 926.5h4.6M385.1 926.5h4.6M403.5 926.5h4.6M410.4 926.5h6.9M424.2 926.5h2.3M428.8 926.5h2.3M493.3 926.5h2.3M714.1 926.5h2.3M725.6 926.5h2.3M750.9 926.5h2.3M755.5 926.5h2.3M778.5 926.5h2.3M787.7 926.5h2.3M810.7 926.5h4.6M1167.3 926.5h4.6M1181.1 926.5h4.6M1201.8 926.5h2.3M1234 926.5h2.3M1257.1 926.5h2.3M1275.5 926.5h2.3M1300.8 926.5h4.6M1312.3 926.5h2.3M1328.4 926.5h2.3M1342.2 926.5h4.6" stroke="#8ed0e4"/><path d="M297.7 926.5h2.3M302.3 926.5h2.3M371.3 926.5h2.3M398.9 926.5h4.6M507.1 926.5h2.3M523.2 926.5h4.6M539.3 926.5h2.3M562.3 926.5h2.3M592.2 926.5h2.3M606 926.5h2.3M681.9 926.5h2.3M737.1 926.5h2.3M785.4 926.5h2.3M801.5 926.5h2.3M928.1 926.5h2.3M958 926.5h2.3M1001.7 926.5h2.3M1020.1 926.5h2.3M1142 926.5h2.3M1213.3 926.5h2.3M1259.4 926.5h2.3M1268.6 926.5h2.3" stroke="#b98a71"/><path d="M323 926.5h2.3M364.4 926.5h2.3M497.9 926.5h2.3M803.8 926.5h2.3M1160.4 926.5h2.3M1293.9 926.5h2.3" stroke="#96c2ce"/><path d="M325.3 926.5h4.6M336.8 926.5h2.3M362.1 926.5h2.3M463.4 926.5h4.6M514 926.5h6.9M566.9 926.5h2.3M589.9 926.5h2.3M601.4 926.5h2.3M612.9 926.5h2.3M767 926.5h2.3M771.6 926.5h2.3M783.1 926.5h2.3M932.7 926.5h2.3" stroke="#b29381"/><path d="M329.9 926.5h4.6M435.7 926.5h4.6M537 926.5h2.3M594.5 926.5h2.3M603.7 926.5h2.3M608.3 926.5h2.3M654.3 926.5h2.3M679.6 926.5h2.3M688.8 926.5h4.6M730.2 926.5h4.6M773.9 926.5h2.3M1022.4 926.5h2.3M1139.7 926.5h2.3M1215.6 926.5h2.3M1227.1 926.5h4.6" stroke="#b58e79"/><path d="M369 926.5h2.3M468 926.5h2.3M856.8 926.5h2.3M893.6 926.5h2.3M905.1 926.5h13.8M1017.8 926.5h2.3M1036.2 926.5h2.3M1050 926.5h2.3M1056.9 926.5h2.3M1098.3 926.5h2.3M1346.8 926.5h2.3M1388.2 926.5h2.3M1392.8 926.5h4.6M1411.2 926.5h2.3" stroke="#ca744a"/><path d="M445 926.5h4.6M472.6 926.5h4.6M500.2 926.5h2.3M571.5 926.5h2.3M665.8 926.5h4.6M806.1 926.5h2.3M1105.2 926.5h2.3M1125.9 926.5h4.6M1194.9 926.5h2.3M1206.4 926.5h2.3M1240.9 926.5h4.6" stroke="#ab9b91"/><path d="M454.2 926.5h4.6M527.8 926.5h4.6M546.2 926.5h6.9M610.6 926.5h2.3M622.1 926.5h2.3M695.7 926.5h2.3M702.6 926.5h2.3M716.4 926.5h2.3M1162.7 926.5h4.6M1204.1 926.5h2.3M1217.9 926.5h4.6M1238.6 926.5h2.3M1245.5 926.5h2.3M1282.4 926.5h4.6M1319.2 926.5h2.3M1337.6 926.5h4.6" stroke="#af9789"/><path d="M458.8 926.5h4.6M822.2 926.5h2.3M944.2 926.5h2.3M955.7 926.5h2.3M1054.6 926.5h2.3M1362.9 926.5h2.3M1406.6 926.5h2.3" stroke="#d95a33"/><path d="M470.3 926.5h2.3M670.4 926.5h4.6M842.9 926.5h2.3M854.5 926.5h2.3M872.9 926.5h4.6M918.9 926.5h2.3M930.4 926.5h2.3M964.9 926.5h4.6M974.1 926.5h4.6M1013.2 926.5h4.6M1033.9 926.5h2.3M1038.5 926.5h2.3M1438.8 926.5h4.6" stroke="#cd6f42"/><path d="M502.5 926.5h2.3M817.6 926.5h2.3M833.7 926.5h6.9M868.3 926.5h4.6M882.1 926.5h4.6M925.8 926.5h2.3M960.3 926.5h4.6M992.5 926.5h2.3M1008.6 926.5h2.3M1429.6 926.5h6.9" stroke="#d2683b"/><path d="M511.7 926.5h2.3M629 926.5h4.6M635.9 926.5h2.3M658.9 926.5h2.3M675 926.5h4.6M709.5 926.5h2.3M790 926.5h2.3M902.8 926.5h2.3M953.4 926.5h2.3M981 926.5h2.3M1063.8 926.5h2.3M1100.6 926.5h2.3M1185.7 926.5h4.6M1305.4 926.5h2.3M1390.5 926.5h2.3M1413.5 926.5h2.3" stroke="#c67852"/><path d="M573.8 926.5h2.3M626.7 926.5h2.3M721 926.5h2.3M776.2 926.5h2.3" stroke="#a0aeb0"/><path d="M576.1 926.5h2.3M723.3 926.5h2.3M760.1 926.5h2.3" stroke="#9db3b7"/><path d="M578.4 926.5h2.3M624.4 926.5h2.3M718.7 926.5h2.3M739.4 926.5h4.6M815.3 926.5h2.3M1137.4 926.5h2.3" stroke="#a2a9a8"/><path d="M819.9 926.5h2.3M829.1 926.5h2.3M939.6 926.5h2.3M994.8 926.5h6.9M1004 926.5h2.3M1029.3 926.5h4.6M1070.7 926.5h4.6M1365.2 926.5h4.6" stroke="#d46539"/><path d="M824.5 926.5h2.3M863.7 926.5h2.3M886.7 926.5h2.3M891.3 926.5h2.3M1356 926.5h4.6M1374.4 926.5h2.3M1443.4 926.5h8.6" stroke="#db5731"/><path d="M831.4 926.5h2.3M840.6 926.5h2.3M845.2 926.5h6.9M921.2 926.5h4.6M1006.3 926.5h2.3M1010.9 926.5h2.3M1047.7 926.5h2.3M1372.1 926.5h2.3" stroke="#d06b3d"/><path d="M859.1 926.5h2.3M889 926.5h2.3M900.5 926.5h2.3M1376.7 926.5h2.3" stroke="#dd542f"/><path d="M861.4 926.5h2.3M1024.7 926.5h2.3M1079.9 926.5h4.6M1349.1 926.5h2.3" stroke="#df502d"/><path d="M935 926.5h2.3M941.9 926.5h2.3" stroke="#f22f19"/><path d="M937.3 926.5h2.3" stroke="#f32b17"/><path d="M987.9 926.5h4.6M1052.3 926.5h2.3M1077.6 926.5h2.3M1351.4 926.5h2.3M1360.6 926.5h2.3M1369.8 926.5h2.3M1420.4 926.5h4.6" stroke="#d75e35"/><path d="M1075.3 926.5h2.3M1353.7 926.5h2.3M1379 926.5h4.6M1408.9 926.5h2.3" stroke="#d66137"/><path d="M1383.6 926.5h2.3" stroke="#ec391f"/><path d="M1385.9 926.5h2.3M1425 926.5h4.6" stroke="#ee351d"/><path d="M1397.4 926.5h2.3M1415.8 926.5h4.6" stroke="#e14d2b"/><path d="M1402 926.5h2.3" stroke="#ea3c21"/><path d="M1404.3 926.5h2.3" stroke="#e83f23"/><path d="M1436.5 926.5h2.3" stroke="#e44627"/></g><g stroke-width="35"><path d="M238.5 961.5h6.3M382.8 961.5h2.3M403.5 961.5h4.6M421.9 961.5h2.3M449.6 961.5h2.3M905.1 961.5h2.3M1038.5 961.5h4.6M1063.8 961.5h2.3M1139.7 961.5h2.3" stroke="#a0aeb0"/><path d="M244.8 961.5h2.3M304.6 961.5h2.3M389.7 961.5h2.3M410.4 961.5h2.3M442.6 961.5h2.3M516.3 961.5h2.3M530.1 961.5h2.3M553.1 961.5h2.3M612.9 961.5h2.3M629 961.5h2.3M640.5 961.5h4.6M661.2 961.5h4.6M709.5 961.5h2.3M714.1 961.5h2.3M727.9 961.5h2.3M757.8 961.5h2.3M767 961.5h4.6M787.7 961.5h2.3M1112.1 961.5h2.3M1137.4 961.5h2.3M1167.3 961.5h2.3M1181.1 961.5h2.3M1206.4 961.5h2.3M1215.6 961.5h2.3M1229.4 961.5h2.3M1240.9 961.5h4.6M1282.4 961.5h4.6M1305.4 961.5h4.6" stroke="#8cd5ec"/><path d="M247.1 961.5h6.9M260.9 961.5h4.6M267.8 961.5h2.3M302.3 961.5h2.3M316.1 961.5h2.3M320.7 961.5h2.3M341.4 961.5h2.3M359.8 961.5h2.3M364.4 961.5h4.6M375.9 961.5h2.3M424.2 961.5h2.3M509.4 961.5h4.6M525.5 961.5h2.3M592.2 961.5h4.6M601.4 961.5h2.3M624.4 961.5h4.6M631.3 961.5h2.3M635.9 961.5h2.3M649.7 961.5h2.3M665.8 961.5h9.2M695.7 961.5h6.9M734.8 961.5h2.3M739.4 961.5h2.3M748.6 961.5h4.6M762.4 961.5h4.6M783.1 961.5h2.3M794.6 961.5h2.3M806.1 961.5h2.3M1084.5 961.5h4.6M1093.7 961.5h2.3M1100.6 961.5h4.6M1146.6 961.5h2.3M1174.2 961.5h2.3M1190.3 961.5h6.9M1208.7 961.5h2.3M1231.7 961.5h4.6M1245.5 961.5h2.3M1268.6 961.5h4.6" stroke="#93c6d5"/><path d="M254 961.5h2.3M290.8 961.5h2.3M325.3 961.5h4.6M339.1 961.5h2.3M348.3 961.5h2.3M357.5 961.5h2.3M392 961.5h2.3M401.2 961.5h2.3M419.6 961.5h2.3" stroke="#96c2ce"/><path d="M256.3 961.5h2.3M283.9 961.5h2.3M318.4 961.5h2.3M334.5 961.5h4.6M355.2 961.5h2.3M369 961.5h2.3M373.6 961.5h2.3M398.9 961.5h2.3M412.7 961.5h4.6M438 961.5h4.6M472.6 961.5h2.3M481.8 961.5h4.6M560 961.5h2.3M566.9 961.5h6.9M580.7 961.5h2.3M589.9 961.5h2.3M596.8 961.5h2.3M615.2 961.5h2.3M619.8 961.5h2.3M686.5 961.5h2.3M693.4 961.5h2.3M704.9 961.5h2.3M711.8 961.5h2.3M721 961.5h2.3M741.7 961.5h4.6M778.5 961.5h2.3M810.7 961.5h2.3M815.3 961.5h2.3M1091.4 961.5h2.3M1105.2 961.5h2.3M1109.8 961.5h2.3M1116.7 961.5h4.6M1128.2 961.5h2.3M1165 961.5h2.3M1171.9 961.5h2.3M1176.5 961.5h4.6M1211 961.5h2.3M1217.9 961.5h9.2M1259.4 961.5h4.6M1287 961.5h2.3M1291.6 961.5h4.6M1339.9 961.5h2.3" stroke="#91cbdd"/><path d="M258.6 961.5h2.3M270.1 961.5h2.3M274.7 961.5h9.2M286.2 961.5h2.3M297.7 961.5h4.6M311.5 961.5h4.6M323 961.5h2.3M350.6 961.5h4.6M362.1 961.5h2.3M371.3 961.5h2.3M378.2 961.5h4.6M385.1 961.5h4.6M408.1 961.5h2.3M417.3 961.5h2.3M426.5 961.5h6.9M435.7 961.5h2.3M458.8 961.5h4.6M474.9 961.5h2.3M486.4 961.5h4.6M514 961.5h2.3M523.2 961.5h2.3M527.8 961.5h2.3M532.4 961.5h4.6M539.3 961.5h2.3M550.8 961.5h2.3M562.3 961.5h4.6M578.4 961.5h2.3M599.1 961.5h2.3M610.6 961.5h2.3M617.5 961.5h2.3M622.1 961.5h2.3M638.2 961.5h2.3M645.1 961.5h4.6M652 961.5h4.6M702.6 961.5h2.3M716.4 961.5h4.6M723.3 961.5h4.6M730.2 961.5h2.3M737.1 961.5h2.3M746.3 961.5h2.3M760.1 961.5h2.3M771.6 961.5h6.9M785.4 961.5h2.3M808.4 961.5h2.3M813 961.5h2.3M1096 961.5h4.6M1114.4 961.5h2.3M1135.1 961.5h2.3M1142 961.5h2.3M1158.1 961.5h2.3M1162.7 961.5h2.3M1169.6 961.5h2.3M1204.1 961.5h2.3M1213.3 961.5h2.3M1247.9 961.5h2.3M1275.5 961.5h6.9M1289.3 961.5h2.3M1328.4 961.5h4.6M1337.6 961.5h2.3M1342.2 961.5h4.6" stroke="#8ed0e4"/><path d="M265.5 961.5h2.3M272.4 961.5h2.3M470.3 961.5h2.3M803.8 961.5h2.3M898.2 961.5h2.3M960.3 961.5h4.6M1059.2 961.5h2.3M1296.2 961.5h2.3" stroke="#a5a4a1"/><path d="M288.5 961.5h2.3M394.3 961.5h4.6M456.5 961.5h2.3M891.3 961.5h4.6M1001.7 961.5h4.6" stroke="#9bb8bf"/><path d="M293.1 961.5h4.6M343.7 961.5h4.6M451.9 961.5h2.3M606 961.5h4.6M976.4 961.5h2.3M1017.8 961.5h2.3M1155.8 961.5h2.3" stroke="#a2a9a8"/><path d="M306.9 961.5h2.3M493.3 961.5h2.3M500.2 961.5h2.3M633.6 961.5h2.3M824.5 961.5h2.3M829.1 961.5h2.3M842.9 961.5h2.3M852.2 961.5h2.3M884.4 961.5h2.3M1020.1 961.5h2.3M1077.6 961.5h2.3M1151.2 961.5h2.3M1201.8 961.5h2.3M1227.1 961.5h2.3M1310 961.5h4.6M1333 961.5h4.6" stroke="#ab9b91"/><path d="M309.2 961.5h2.3M433.4 961.5h2.3M463.4 961.5h4.6M491 961.5h2.3M502.5 961.5h2.3M573.8 961.5h4.6M822.2 961.5h2.3M854.5 961.5h4.6M882.1 961.5h2.3M1022.4 961.5h2.3M1075.3 961.5h2.3M1089.1 961.5h2.3M1121.3 961.5h4.6M1153.5 961.5h2.3M1199.5 961.5h2.3M1298.5 961.5h2.3" stroke="#a8a099"/><path d="M329.9 961.5h4.6M454.2 961.5h2.3" stroke="#9db3b7"/><path d="M445 961.5h2.3M468 961.5h2.3M497.9 961.5h2.3M537 961.5h2.3M543.9 961.5h2.3M587.6 961.5h2.3M707.2 961.5h2.3M838.3 961.5h2.3M849.9 961.5h2.3M889 961.5h2.3M914.3 961.5h2.3M918.9 961.5h4.6M953.4 961.5h2.3M969.5 961.5h4.6M981 961.5h2.3M1015.5 961.5h2.3M1066.1 961.5h4.6M1079.9 961.5h4.6M1107.5 961.5h2.3M1132.8 961.5h2.3M1160.4 961.5h2.3M1252.5 961.5h2.3M1316.9 961.5h2.3M1379 961.5h2.3" stroke="#b98a71"/><path d="M447.3 961.5h2.3M541.6 961.5h2.3M675 961.5h4.6M732.5 961.5h2.3M877.5 961.5h2.3M895.9 961.5h2.3M916.6 961.5h2.3M923.5 961.5h2.3M978.7 961.5h2.3M983.3 961.5h2.3M990.2 961.5h2.3M1183.4 961.5h2.3M1197.2 961.5h2.3M1236.3 961.5h2.3M1273.2 961.5h2.3M1321.5 961.5h2.3" stroke="#b58e79"/><path d="M477.2 961.5h2.3M691.1 961.5h2.3M780.8 961.5h2.3M799.2 961.5h4.6M859.1 961.5h2.3M868.3 961.5h2.3M879.8 961.5h2.3M907.4 961.5h2.3M941.9 961.5h6.9M1300.8 961.5h2.3M1365.2 961.5h2.3M1413.5 961.5h2.3" stroke="#c37c5a"/><path d="M479.5 961.5h2.3M504.8 961.5h4.6M557.7 961.5h2.3M684.2 961.5h2.3M688.8 961.5h2.3M831.4 961.5h2.3M948.8 961.5h2.3M992.5 961.5h4.6M1024.7 961.5h4.6M1043.1 961.5h9.2M1070.7 961.5h2.3M1429.6 961.5h2.3" stroke="#c08162"/><path d="M495.6 961.5h2.3M555.4 961.5h2.3M790 961.5h4.6M833.7 961.5h2.3M866 961.5h2.3M872.9 961.5h4.6M886.7 961.5h2.3M928.1 961.5h4.6M955.7 961.5h2.3M999.4 961.5h2.3M1073 961.5h2.3M1125.9 961.5h2.3M1130.5 961.5h2.3M1148.9 961.5h2.3M1250.2 961.5h2.3M1314.6 961.5h2.3M1319.2 961.5h2.3M1323.8 961.5h4.6M1360.6 961.5h4.6M1431.9 961.5h2.3" stroke="#bc856a"/><path d="M518.6 961.5h4.6M546.2 961.5h2.3M583 961.5h4.6M603.7 961.5h2.3M656.6 961.5h4.6M679.6 961.5h4.6M796.9 961.5h2.3M817.6 961.5h4.6M836 961.5h2.3M845.2 961.5h2.3M861.4 961.5h4.6M900.5 961.5h4.6M909.7 961.5h2.3M932.7 961.5h2.3M939.6 961.5h2.3M985.6 961.5h4.6M1036.2 961.5h2.3M1144.3 961.5h2.3M1238.6 961.5h2.3" stroke="#b29381"/><path d="M548.5 961.5h2.3M753.2 961.5h4.6M826.8 961.5h2.3M840.6 961.5h2.3M847.6 961.5h2.3M912 961.5h2.3M925.8 961.5h2.3M951.1 961.5h2.3M964.9 961.5h4.6M974.1 961.5h2.3M997.1 961.5h2.3M1006.3 961.5h4.6M1033.9 961.5h2.3M1185.7 961.5h4.6M1264 961.5h4.6" stroke="#af9789"/><path d="M870.6 961.5h2.3M958 961.5h2.3M1010.9 961.5h2.3M1052.3 961.5h4.6M1254.8 961.5h4.6M1303.1 961.5h2.3M1367.5 961.5h2.3M1381.3 961.5h2.3M1385.9 961.5h2.3M1406.6 961.5h4.6" stroke="#c67852"/><path d="M935 961.5h2.3M1369.8 961.5h2.3M1388.2 961.5h2.3" stroke="#dd542f"/><path d="M937.3 961.5h2.3" stroke="#df502d"/><path d="M1013.2 961.5h2.3M1438.8 961.5h4.6" stroke="#d06b3d"/><path d="M1029.3 961.5h2.3M1372.1 961.5h2.3M1415.8 961.5h4.6" stroke="#d75e35"/><path d="M1031.6 961.5h2.3" stroke="#db5731"/><path d="M1056.9 961.5h2.3" stroke="#98bdc6"/><path d="M1061.5 961.5h2.3M1374.4 961.5h2.3" stroke="#ca744a"/><path d="M1346.8 961.5h9.2" stroke="#e44627"/><path d="M1356 961.5h4.6M1392.8 961.5h2.3M1411.2 961.5h2.3" stroke="#e14d2b"/><path d="M1376.7 961.5h2.3M1402 961.5h2.3M1434.2 961.5h4.6M1443.4 961.5h8.6" stroke="#d95a33"/><path d="M1383.6 961.5h2.3M1390.5 961.5h2.3M1395.1 961.5h2.3" stroke="#cd6f42"/><path d="M1397.4 961.5h2.3M1422.7 961.5h6.9" stroke="#d46539"/><path d="M1399.7 961.5h2.3" stroke="#d66137"/><path d="M1404.3 961.5h2.3M1420.4 961.5h2.3" stroke="#d2683b"/></g><g stroke-width="35"><path d="M238.5 996.5h8.6M251.7 996.5h2.3M256.3 996.5h2.3M316.1 996.5h4.6M525.5 996.5h6.9M539.3 996.5h2.3M601.4 996.5h2.3M608.3 996.5h2.3M624.4 996.5h4.6M739.4 996.5h4.6M831.4 996.5h4.6M912 996.5h2.3M953.4 996.5h2.3M969.5 996.5h2.3M976.4 996.5h4.6M985.6 996.5h2.3M1022.4 996.5h2.3M1036.2 996.5h2.3M1086.8 996.5h2.3M1100.6 996.5h2.3M1112.1 996.5h2.3M1160.4 996.5h2.3M1254.8 996.5h4.6M1330.7 996.5h2.3M1342.2 996.5h2.3" stroke="#b29381"/><path d="M247.1 996.5h4.6M258.6 996.5h2.3M265.5 996.5h2.3M274.7 996.5h4.6M297.7 996.5h2.3M320.7 996.5h4.6M329.9 996.5h4.6M357.5 996.5h4.6M375.9 996.5h4.6M396.6 996.5h2.3M408.1 996.5h4.6M421.9 996.5h4.6M428.8 996.5h2.3M435.7 996.5h2.3M491 996.5h2.3M500.2 996.5h2.3M543.9 996.5h9.2M573.8 996.5h4.6M596.8 996.5h2.3M635.9 996.5h2.3M681.9 996.5h2.3M688.8 996.5h2.3M695.7 996.5h2.3M707.2 996.5h2.3M711.8 996.5h4.6M744 996.5h4.6M776.2 996.5h4.6M808.4 996.5h4.6M815.3 996.5h2.3M1093.7 996.5h2.3M1146.6 996.5h2.3M1261.7 996.5h2.3M1303.1 996.5h2.3M1307.7 996.5h2.3" stroke="#91cbdd"/><path d="M254 996.5h2.3M463.4 996.5h4.6M497.9 996.5h2.3M514 996.5h2.3M645.1 996.5h2.3M665.8 996.5h4.6M702.6 996.5h4.6M730.2 996.5h4.6M790 996.5h4.6M822.2 996.5h2.3M840.6 996.5h4.6M847.6 996.5h2.3M868.3 996.5h4.6M941.9 996.5h4.6M951.1 996.5h2.3M1020.1 996.5h2.3M1050 996.5h2.3M1084.5 996.5h2.3M1091.4 996.5h2.3M1098.3 996.5h2.3M1116.7 996.5h4.6M1151.2 996.5h2.3M1158.1 996.5h2.3M1194.9 996.5h2.3M1268.6 996.5h4.6" stroke="#b58e79"/><path d="M260.9 996.5h4.6M431.1 996.5h2.3M481.8 996.5h2.3M534.7 996.5h2.3M619.8 996.5h4.6M633.6 996.5h2.3M647.4 996.5h4.6M721 996.5h6.9M769.3 996.5h2.3M794.6 996.5h4.6M801.5 996.5h2.3M889 996.5h2.3M907.4 996.5h2.3M992.5 996.5h4.6M1027 996.5h2.3M1155.8 996.5h2.3M1213.3 996.5h2.3M1217.9 996.5h6.9M1277.8 996.5h4.6M1296.2 996.5h4.6M1305.4 996.5h2.3" stroke="#ab9b91"/><path d="M267.8 996.5h2.3M300 996.5h4.6M313.8 996.5h2.3M339.1 996.5h4.6M385.1 996.5h4.6M394.3 996.5h2.3M403.5 996.5h4.6M518.6 996.5h2.3M537 996.5h2.3M583 996.5h2.3M603.7 996.5h2.3M716.4 996.5h4.6M757.8 996.5h4.6M1250.2 996.5h4.6M1266.3 996.5h2.3M1319.2 996.5h2.3M1328.4 996.5h2.3" stroke="#8ed0e4"/><path d="M270.1 996.5h2.3M445 996.5h4.6M520.9 996.5h2.3M610.6 996.5h2.3M631.3 996.5h2.3M670.4 996.5h2.3M675 996.5h4.6M767 996.5h2.3M1001.7 996.5h4.6M1040.8 996.5h2.3M1109.8 996.5h2.3M1153.5 996.5h2.3M1215.6 996.5h2.3M1291.6 996.5h2.3M1316.9 996.5h2.3" stroke="#a8a099"/><path d="M272.4 996.5h2.3M612.9 996.5h2.3M638.2 996.5h2.3M829.1 996.5h2.3M999.4 996.5h2.3M1162.7 996.5h2.3M1293.9 996.5h2.3M1314.6 996.5h2.3" stroke="#a5a4a1"/><path d="M279.3 996.5h4.6M362.1 996.5h2.3M369 996.5h2.3M569.2 996.5h2.3M585.3 996.5h2.3M629 996.5h2.3M640.5 996.5h2.3M1165 996.5h2.3M1185.7 996.5h4.6" stroke="#a2a9a8"/><path d="M283.9 996.5h4.6M325.3 996.5h4.6M334.5 996.5h2.3M343.7 996.5h6.9M352.9 996.5h4.6M364.4 996.5h2.3M371.3 996.5h2.3M389.7 996.5h4.6M412.7 996.5h4.6M426.5 996.5h2.3M438 996.5h2.3M493.3 996.5h2.3M541.6 996.5h2.3M553.1 996.5h2.3M578.4 996.5h4.6M587.6 996.5h4.6M615.2 996.5h4.6M652 996.5h2.3M656.6 996.5h6.9M679.6 996.5h2.3M693.4 996.5h2.3M709.5 996.5h2.3M727.9 996.5h2.3M753.2 996.5h4.6M764.7 996.5h2.3M1096 996.5h2.3M1123.6 996.5h2.3M1142 996.5h4.6M1176.5 996.5h2.3M1192.6 996.5h2.3M1259.4 996.5h2.3M1282.4 996.5h4.6M1300.8 996.5h2.3M1337.6 996.5h4.6" stroke="#93c6d5"/><path d="M288.5 996.5h4.6M304.6 996.5h2.3M472.6 996.5h2.3M488.7 996.5h2.3M495.6 996.5h2.3M516.3 996.5h2.3M564.6 996.5h2.3M599.1 996.5h2.3M654.3 996.5h2.3M859.1 996.5h4.6M895.9 996.5h4.6M918.9 996.5h4.6M1047.7 996.5h2.3M1052.3 996.5h4.6M1063.8 996.5h2.3M1128.2 996.5h2.3M1148.9 996.5h2.3M1190.3 996.5h2.3M1231.7 996.5h4.6M1240.9 996.5h2.3M1264 996.5h2.3M1335.3 996.5h2.3" stroke="#b98a71"/><path d="M293.1 996.5h4.6M306.9 996.5h6.9M373.6 996.5h2.3M398.9 996.5h4.6M417.3 996.5h4.6M502.5 996.5h2.3M566.9 996.5h2.3M698 996.5h4.6M734.8 996.5h4.6M748.6 996.5h2.3M780.8 996.5h4.6M1236.3 996.5h4.6M1245.5 996.5h4.6M1321.5 996.5h2.3" stroke="#8cd5ec"/><path d="M336.8 996.5h2.3M350.6 996.5h2.3M663.5 996.5h2.3M1178.8 996.5h2.3" stroke="#96c2ce"/><path d="M366.7 996.5h2.3" stroke="#98bdc6"/><path d="M380.5 996.5h2.3M461.1 996.5h2.3M477.2 996.5h2.3M684.2 996.5h2.3M866 996.5h2.3M902.8 996.5h2.3M946.5 996.5h4.6M960.3 996.5h2.3M1038.5 996.5h2.3M1075.3 996.5h4.6M1167.3 996.5h4.6M1383.6 996.5h4.6M1411.2 996.5h2.3M1418.1 996.5h2.3" stroke="#c67852"/><path d="M382.8 996.5h2.3M458.8 996.5h2.3M468 996.5h2.3M803.8 996.5h2.3M923.5 996.5h4.6M939.6 996.5h2.3M958 996.5h2.3M964.9 996.5h4.6M997.1 996.5h2.3M1006.3 996.5h2.3M1121.3 996.5h2.3M1125.9 996.5h2.3M1171.9 996.5h2.3M1227.1 996.5h2.3M1273.2 996.5h2.3" stroke="#c37c5a"/><path d="M433.4 996.5h2.3M440.3 996.5h4.6M484.1 996.5h2.3M511.7 996.5h2.3M523.2 996.5h2.3M592.2 996.5h4.6M606 996.5h2.3M642.8 996.5h2.3M799.2 996.5h2.3M824.5 996.5h2.3M886.7 996.5h2.3M914.3 996.5h4.6M1024.7 996.5h2.3M1033.9 996.5h2.3M1114.4 996.5h2.3M1135.1 996.5h2.3M1197.2 996.5h4.6M1208.7 996.5h4.6M1243.2 996.5h2.3M1344.5 996.5h2.3" stroke="#af9789"/><path d="M449.6 996.5h2.3M507.1 996.5h2.3M532.4 996.5h2.3M562.3 996.5h2.3M672.7 996.5h2.3M691.1 996.5h2.3M771.6 996.5h4.6M787.7 996.5h2.3M806.1 996.5h2.3M905.1 996.5h2.3M955.7 996.5h2.3M1008.6 996.5h4.6M1089.1 996.5h2.3M1137.4 996.5h2.3M1229.4 996.5h2.3M1275.5 996.5h2.3M1287 996.5h2.3" stroke="#c08162"/><path d="M451.9 996.5h2.3M474.9 996.5h2.3M486.4 996.5h2.3M504.8 996.5h2.3M560 996.5h2.3M762.4 996.5h2.3M785.4 996.5h2.3M813 996.5h2.3M849.9 996.5h4.6M882.1 996.5h4.6M932.7 996.5h2.3M962.6 996.5h2.3M974.1 996.5h2.3M1013.2 996.5h2.3M1056.9 996.5h6.9M1107.5 996.5h2.3M1174.2 996.5h2.3M1289.3 996.5h2.3M1333 996.5h2.3M1415.8 996.5h2.3" stroke="#bc856a"/><path d="M454.2 996.5h2.3M571.5 996.5h2.3M817.6 996.5h4.6M1102.9 996.5h4.6M1422.7 996.5h2.3" stroke="#a0aeb0"/><path d="M456.5 996.5h2.3M470.3 996.5h2.3M509.4 996.5h2.3M930.4 996.5h2.3M1132.8 996.5h2.3" stroke="#9db3b7"/><path d="M479.5 996.5h2.3M555.4 996.5h4.6M750.9 996.5h2.3M836 996.5h2.3M845.2 996.5h2.3M856.8 996.5h2.3M863.7 996.5h2.3M900.5 996.5h2.3M1082.2 996.5h2.3M1130.5 996.5h2.3M1139.7 996.5h2.3M1181.1 996.5h4.6M1310 996.5h4.6" stroke="#ca744a"/><path d="M686.5 996.5h2.3M826.8 996.5h2.3M838.3 996.5h2.3M854.5 996.5h2.3M1201.8 996.5h2.3M1323.8 996.5h4.6M1425 996.5h4.6" stroke="#cd6f42"/><path d="M872.9 996.5h4.6M981 996.5h4.6M1043.1 996.5h4.6M1068.4 996.5h2.3M1079.9 996.5h2.3M1224.8 996.5h2.3" stroke="#d06b3d"/><path d="M877.5 996.5h2.3M891.3 996.5h2.3M1017.8 996.5h2.3M1066.1 996.5h2.3M1438.8 996.5h4.6" stroke="#d2683b"/><path d="M879.8 996.5h2.3M893.6 996.5h2.3M971.8 996.5h2.3M987.9 996.5h4.6M1015.5 996.5h2.3M1070.7 996.5h2.3" stroke="#d46539"/><path d="M909.7 996.5h2.3M1073 996.5h2.3M1204.1 996.5h4.6M1376.7 996.5h4.6" stroke="#d66137"/><path d="M928.1 996.5h2.3" stroke="#9bb8bf"/><path d="M935 996.5h2.3M1374.4 996.5h2.3M1381.3 996.5h2.3M1413.5 996.5h2.3M1434.2 996.5h2.3" stroke="#e34a29"/><path d="M937.3 996.5h2.3M1390.5 996.5h2.3M1443.4 996.5h8.6" stroke="#dd542f"/><path d="M1029.3 996.5h2.3M1353.7 996.5h2.3M1408.9 996.5h2.3" stroke="#ea3c21"/><path d="M1031.6 996.5h2.3" stroke="#e64325"/><path d="M1346.8 996.5h6.9" stroke="#e44627"/><path d="M1356 996.5h4.6M1365.2 996.5h2.3M1372.1 996.5h2.3M1429.6 996.5h4.6" stroke="#df502d"/><path d="M1360.6 996.5h2.3M1369.8 996.5h2.3M1392.8 996.5h4.6" stroke="#e14d2b"/><path d="M1362.9 996.5h2.3M1388.2 996.5h2.3M1436.5 996.5h2.3" stroke="#db5731"/><path d="M1367.5 996.5h2.3M1397.4 996.5h4.6M1420.4 996.5h2.3" stroke="#d95a33"/><path d="M1402 996.5h4.6" stroke="#d75e35"/><path d="M1406.6 996.5h2.3" stroke="#e83f23"/></g><g stroke-width="35"><path d="M238.5 1031.5h8.6M265.5 1031.5h2.3M293.1 1031.5h2.3M304.6 1031.5h2.3M325.3 1031.5h13.8M343.7 1031.5h4.6M350.6 1031.5h2.3M357.5 1031.5h2.3M398.9 1031.5h4.6M415 1031.5h2.3M421.9 1031.5h4.6M451.9 1031.5h2.3M456.5 1031.5h2.3M468 1031.5h2.3M486.4 1031.5h4.6M504.8 1031.5h4.6M511.7 1031.5h2.3M530.1 1031.5h2.3M546.2 1031.5h2.3M550.8 1031.5h2.3M578.4 1031.5h4.6M585.3 1031.5h2.3M603.7 1031.5h2.3M624.4 1031.5h2.3M642.8 1031.5h4.6M649.7 1031.5h2.3M663.5 1031.5h2.3M670.4 1031.5h2.3M675 1031.5h4.6M757.8 1031.5h2.3M762.4 1031.5h2.3M767 1031.5h6.9M801.5 1031.5h2.3M831.4 1031.5h9.2M845.2 1031.5h2.3M849.9 1031.5h4.6M856.8 1031.5h2.3M879.8 1031.5h2.3M891.3 1031.5h6.9M912 1031.5h2.3M925.8 1031.5h2.3M932.7 1031.5h4.6M1024.7 1031.5h2.3M1029.3 1031.5h4.6M1038.5 1031.5h4.6M1100.6 1031.5h2.3M1181.1 1031.5h4.6M1192.6 1031.5h2.3M1199.5 1031.5h2.3M1204.1 1031.5h4.6M1217.9 1031.5h4.6M1234 1031.5h2.3M1243.2 1031.5h2.3M1259.4 1031.5h6.9M1275.5 1031.5h2.3M1293.9 1031.5h2.3M1307.7 1031.5h4.6M1314.6 1031.5h4.6M1321.5 1031.5h2.3" stroke="#8ed0e4"/><path d="M247.1 1031.5h4.6M270.1 1031.5h2.3M283.9 1031.5h4.6M302.3 1031.5h2.3M348.3 1031.5h2.3M362.1 1031.5h4.6M371.3 1031.5h4.6M426.5 1031.5h4.6M463.4 1031.5h4.6M472.6 1031.5h4.6M514 1031.5h4.6M548.5 1031.5h2.3M553.1 1031.5h2.3M557.7 1031.5h2.3M626.7 1031.5h4.6M647.4 1031.5h2.3M755.5 1031.5h2.3M847.6 1031.5h2.3M859.1 1031.5h4.6M898.2 1031.5h2.3M1027 1031.5h2.3M1098.3 1031.5h2.3M1112.1 1031.5h4.6M1130.5 1031.5h4.6M1137.4 1031.5h2.3M1144.3 1031.5h4.6M1236.3 1031.5h4.6M1250.2 1031.5h4.6M1291.6 1031.5h2.3M1312.3 1031.5h2.3" stroke="#8cd5ec"/><path d="M251.7 1031.5h4.6M258.6 1031.5h2.3M267.8 1031.5h2.3M277 1031.5h2.3M318.4 1031.5h2.3M352.9 1031.5h4.6M359.8 1031.5h2.3M366.7 1031.5h2.3M389.7 1031.5h2.3M405.8 1031.5h6.9M419.6 1031.5h2.3M431.1 1031.5h4.6M438 1031.5h9.2M449.6 1031.5h2.3M454.2 1031.5h2.3M458.8 1031.5h2.3M470.3 1031.5h2.3M479.5 1031.5h2.3M491 1031.5h4.6M500.2 1031.5h2.3M523.2 1031.5h6.9M537 1031.5h4.6M583 1031.5h2.3M592.2 1031.5h4.6M601.4 1031.5h2.3M610.6 1031.5h4.6M622.1 1031.5h2.3M631.3 1031.5h2.3M635.9 1031.5h4.6M652 1031.5h4.6M672.7 1031.5h2.3M679.6 1031.5h9.2M707.2 1031.5h2.3M711.8 1031.5h2.3M716.4 1031.5h2.3M721 1031.5h4.6M730.2 1031.5h4.6M760.1 1031.5h2.3M764.7 1031.5h2.3M780.8 1031.5h4.6M799.2 1031.5h2.3M803.8 1031.5h4.6M813 1031.5h2.3M863.7 1031.5h4.6M872.9 1031.5h4.6M905.1 1031.5h6.9M923.5 1031.5h2.3M930.4 1031.5h2.3M937.3 1031.5h4.6M953.4 1031.5h2.3M1033.9 1031.5h2.3M1125.9 1031.5h4.6M1155.8 1031.5h4.6M1174.2 1031.5h2.3M1213.3 1031.5h4.6M1231.7 1031.5h2.3M1245.5 1031.5h4.6M1266.3 1031.5h2.3M1273.2 1031.5h2.3M1282.4 1031.5h4.6M1342.2 1031.5h4.6M1392.8 1031.5h4.6M1411.2 1031.5h4.6" stroke="#91cbdd"/><path d="M256.3 1031.5h2.3M260.9 1031.5h4.6M274.7 1031.5h2.3M306.9 1031.5h4.6M316.1 1031.5h2.3M339.1 1031.5h4.6M378.2 1031.5h6.9M403.5 1031.5h2.3M447.3 1031.5h2.3M461.1 1031.5h2.3M477.2 1031.5h2.3M502.5 1031.5h2.3M518.6 1031.5h2.3M532.4 1031.5h4.6M541.6 1031.5h4.6M573.8 1031.5h2.3M587.6 1031.5h4.6M596.8 1031.5h4.6M606 1031.5h4.6M633.6 1031.5h2.3M640.5 1031.5h2.3M688.8 1031.5h2.3M693.4 1031.5h6.9M709.5 1031.5h2.3M718.7 1031.5h2.3M753.2 1031.5h2.3M773.9 1031.5h6.9M815.3 1031.5h2.3M877.5 1031.5h2.3M914.3 1031.5h4.6M941.9 1031.5h4.6M951.1 1031.5h2.3M1010.9 1031.5h4.6M1084.5 1031.5h9.2M1102.9 1031.5h2.3M1116.7 1031.5h9.2M1135.1 1031.5h2.3M1142 1031.5h2.3M1153.5 1031.5h2.3M1185.7 1031.5h2.3M1190.3 1031.5h2.3M1194.9 1031.5h4.6M1201.8 1031.5h2.3M1208.7 1031.5h4.6M1227.1 1031.5h2.3M1254.8 1031.5h4.6M1268.6 1031.5h4.6M1296.2 1031.5h2.3M1300.8 1031.5h6.9M1319.2 1031.5h2.3M1323.8 1031.5h2.3M1337.6 1031.5h2.3M1383.6 1031.5h4.6M1420.4 1031.5h4.6M1429.6 1031.5h4.6" stroke="#93c6d5"/><path d="M272.4 1031.5h2.3M297.7 1031.5h4.6M320.7 1031.5h4.6M385.1 1031.5h4.6M392 1031.5h6.9M691.1 1031.5h2.3M700.3 1031.5h2.3M1105.2 1031.5h2.3M1188 1031.5h2.3M1298.5 1031.5h2.3M1339.9 1031.5h2.3M1402 1031.5h4.6" stroke="#96c2ce"/><path d="M279.3 1031.5h4.6M313.8 1031.5h2.3M983.3 1031.5h4.6M1043.1 1031.5h2.3" stroke="#a2a9a8"/><path d="M288.5 1031.5h4.6M311.5 1031.5h2.3M417.3 1031.5h2.3M1045.4 1031.5h2.3M1438.8 1031.5h4.6" stroke="#a0aeb0"/><path d="M295.4 1031.5h2.3M1351.4 1031.5h4.6M1443.4 1031.5h2.3" stroke="#9bb8bf"/><path d="M369 1031.5h2.3M509.4 1031.5h2.3M727.9 1031.5h2.3M785.4 1031.5h4.6M987.9 1031.5h4.6M1068.4 1031.5h2.3M1171.9 1031.5h2.3" stroke="#ab9b91"/><path d="M375.9 1031.5h2.3M435.7 1031.5h2.3M484.1 1031.5h2.3M794.6 1031.5h4.6M1240.9 1031.5h2.3M1346.8 1031.5h2.3M1374.4 1031.5h2.3" stroke="#a8a099"/><path d="M412.7 1031.5h2.3" stroke="#98bdc6"/><path d="M481.8 1031.5h2.3M520.9 1031.5h2.3M562.3 1031.5h4.6M569.2 1031.5h2.3M617.5 1031.5h2.3M665.8 1031.5h2.3M704.9 1031.5h2.3M734.8 1031.5h4.6M808.4 1031.5h2.3M854.5 1031.5h2.3M946.5 1031.5h4.6M955.7 1031.5h4.6M969.5 1031.5h2.3M994.8 1031.5h2.3M1001.7 1031.5h4.6M1052.3 1031.5h4.6M1176.5 1031.5h4.6M1222.5 1031.5h2.3M1277.8 1031.5h4.6M1287 1031.5h2.3M1376.7 1031.5h2.3M1390.5 1031.5h2.3M1397.4 1031.5h4.6M1434.2 1031.5h4.6" stroke="#b58e79"/><path d="M495.6 1031.5h4.6M619.8 1031.5h2.3M661.2 1031.5h2.3M725.6 1031.5h2.3M744 1031.5h2.3M750.9 1031.5h2.3M790 1031.5h2.3M868.3 1031.5h2.3M886.7 1031.5h2.3M1006.3 1031.5h4.6M1056.9 1031.5h4.6M1360.6 1031.5h4.6" stroke="#c08162"/><path d="M555.4 1031.5h2.3M566.9 1031.5h2.3M571.5 1031.5h2.3M668.1 1031.5h2.3M702.6 1031.5h2.3M714.1 1031.5h2.3M810.7 1031.5h2.3M817.6 1031.5h6.9M826.8 1031.5h2.3M842.9 1031.5h2.3M882.1 1031.5h4.6M992.5 1031.5h2.3M1082.2 1031.5h2.3M1162.7 1031.5h2.3M1379 1031.5h4.6M1388.2 1031.5h2.3M1425 1031.5h4.6M1445.7 1031.5h6.3" stroke="#b98a71"/><path d="M560 1031.5h2.3M576.1 1031.5h2.3M824.5 1031.5h2.3M870.6 1031.5h2.3M960.3 1031.5h9.2M978.7 1031.5h4.6M1160.4 1031.5h2.3M1328.4 1031.5h4.6M1365.2 1031.5h4.6M1406.6 1031.5h4.6" stroke="#b29381"/><path d="M615.2 1031.5h2.3M746.3 1031.5h2.3M928.1 1031.5h2.3M1020.1 1031.5h4.6M1061.5 1031.5h6.9M1073 1031.5h2.3M1107.5 1031.5h4.6M1148.9 1031.5h4.6M1229.4 1031.5h2.3M1289.3 1031.5h2.3M1333 1031.5h4.6M1369.8 1031.5h4.6" stroke="#af9789"/><path d="M656.6 1031.5h4.6M840.6 1031.5h2.3M889 1031.5h2.3M900.5 1031.5h4.6M1036.2 1031.5h2.3M1079.9 1031.5h2.3M1165 1031.5h2.3M1224.8 1031.5h2.3M1326.1 1031.5h2.3" stroke="#bc856a"/><path d="M739.4 1031.5h2.3M829.1 1031.5h2.3M1139.7 1031.5h2.3" stroke="#ca744a"/><path d="M741.7 1031.5h2.3" stroke="#cd6f42"/><path d="M748.6 1031.5h2.3M792.3 1031.5h2.3M918.9 1031.5h4.6M997.1 1031.5h4.6M1047.7 1031.5h4.6M1070.7 1031.5h2.3M1167.3 1031.5h4.6M1415.8 1031.5h4.6" stroke="#c37c5a"/><path d="M971.8 1031.5h2.3M1075.3 1031.5h4.6M1356 1031.5h4.6" stroke="#c67852"/><path d="M974.1 1031.5h4.6M1349.1 1031.5h2.3" stroke="#a5a4a1"/><path d="M1015.5 1031.5h4.6" stroke="#9db3b7"/><path d="M1093.7 1031.5h4.6" stroke="#e44627"/></g><g stroke-width="35"><path d="M238.5 1066.5h8.6M281.6 1066.5h2.3M456.5 1066.5h2.3M470.3 1066.5h2.3M548.5 1066.5h2.3M734.8 1066.5h2.3M785.4 1066.5h4.6M794.6 1066.5h2.3M866 1066.5h2.3M884.4 1066.5h9.2M895.9 1066.5h2.3M914.3 1066.5h4.6M928.1 1066.5h2.3M951.1 1066.5h2.3M962.6 1066.5h2.3M997.1 1066.5h4.6M1010.9 1066.5h4.6M1020.1 1066.5h2.3M1079.9 1066.5h2.3M1151.2 1066.5h2.3M1165 1066.5h2.3M1183.4 1066.5h2.3M1194.9 1066.5h2.3M1305.4 1066.5h2.3M1388.2 1066.5h4.6M1406.6 1066.5h2.3M1434.2 1066.5h4.6" stroke="#ab9b91"/><path d="M247.1 1066.5h2.3M251.7 1066.5h4.6M270.1 1066.5h4.6M300 1066.5h4.6M316.1 1066.5h4.6M323 1066.5h4.6M336.8 1066.5h2.3M362.1 1066.5h2.3M369 1066.5h6.9M389.7 1066.5h2.3M394.3 1066.5h2.3M421.9 1066.5h2.3M428.8 1066.5h4.6M440.3 1066.5h4.6M458.8 1066.5h4.6M502.5 1066.5h2.3M523.2 1066.5h2.3M537 1066.5h2.3M555.4 1066.5h9.2M599.1 1066.5h16.1M624.4 1066.5h2.3M629 1066.5h6.9M652 1066.5h4.6M661.2 1066.5h4.6M668.1 1066.5h4.6M707.2 1066.5h4.6M730.2 1066.5h2.3M737.1 1066.5h4.6M757.8 1066.5h4.6M796.9 1066.5h2.3M808.4 1066.5h2.3M817.6 1066.5h2.3M944.2 1066.5h2.3M1033.9 1066.5h2.3M1043.1 1066.5h2.3M1093.7 1066.5h4.6M1107.5 1066.5h9.2M1139.7 1066.5h9.2M1158.1 1066.5h4.6M1185.7 1066.5h4.6M1197.2 1066.5h2.3M1217.9 1066.5h2.3M1254.8 1066.5h2.3M1289.3 1066.5h2.3M1333 1066.5h4.6M1339.9 1066.5h2.3" stroke="#93c6d5"/><path d="M249.4 1066.5h2.3M304.6 1066.5h2.3M343.7 1066.5h4.6M415 1066.5h2.3M468 1066.5h2.3M640.5 1066.5h2.3M688.8 1066.5h4.6M695.7 1066.5h2.3M840.6 1066.5h2.3M877.5 1066.5h4.6M902.8 1066.5h2.3M932.7 1066.5h2.3M939.6 1066.5h2.3M1017.8 1066.5h2.3M1022.4 1066.5h2.3M1089.1 1066.5h2.3M1171.9 1066.5h4.6M1206.4 1066.5h2.3M1231.7 1066.5h2.3M1291.6 1066.5h4.6M1422.7 1066.5h2.3M1427.3 1066.5h2.3M1443.4 1066.5h2.3" stroke="#b29381"/><path d="M256.3 1066.5h4.6M263.2 1066.5h2.3M288.5 1066.5h2.3M293.1 1066.5h4.6M313.8 1066.5h2.3M332.2 1066.5h2.3M352.9 1066.5h4.6M387.4 1066.5h2.3M405.8 1066.5h2.3M410.4 1066.5h2.3M424.2 1066.5h2.3M435.7 1066.5h4.6M527.8 1066.5h2.3M534.7 1066.5h2.3M543.9 1066.5h2.3M566.9 1066.5h6.9M580.7 1066.5h2.3M594.5 1066.5h2.3M656.6 1066.5h2.3M675 1066.5h2.3M679.6 1066.5h6.9M718.7 1066.5h2.3M744 1066.5h4.6M753.2 1066.5h4.6M764.7 1066.5h2.3M769.3 1066.5h2.3M773.9 1066.5h2.3M790 1066.5h2.3M810.7 1066.5h2.3M826.8 1066.5h4.6M882.1 1066.5h2.3M946.5 1066.5h2.3M964.9 1066.5h4.6M990.2 1066.5h2.3M1084.5 1066.5h4.6M1105.2 1066.5h2.3M1132.8 1066.5h2.3M1153.5 1066.5h2.3M1167.3 1066.5h4.6M1201.8 1066.5h2.3M1222.5 1066.5h4.6M1236.3 1066.5h4.6M1245.5 1066.5h4.6M1261.7 1066.5h2.3M1266.3 1066.5h2.3M1275.5 1066.5h2.3M1300.8 1066.5h2.3M1310 1066.5h4.6M1323.8 1066.5h2.3M1328.4 1066.5h4.6" stroke="#8ed0e4"/><path d="M260.9 1066.5h2.3M290.8 1066.5h2.3M311.5 1066.5h2.3M348.3 1066.5h2.3M357.5 1066.5h2.3M385.1 1066.5h2.3M408.1 1066.5h2.3M463.4 1066.5h4.6M550.8 1066.5h4.6M573.8 1066.5h2.3M592.2 1066.5h2.3M615.2 1066.5h4.6M647.4 1066.5h4.6M658.9 1066.5h2.3M732.5 1066.5h2.3M748.6 1066.5h4.6M762.4 1066.5h2.3M767 1066.5h2.3M803.8 1066.5h2.3M953.4 1066.5h2.3M1052.3 1066.5h4.6M1155.8 1066.5h2.3M1199.5 1066.5h2.3M1250.2 1066.5h4.6M1259.4 1066.5h2.3M1264 1066.5h2.3M1273.2 1066.5h2.3M1298.5 1066.5h2.3M1314.6 1066.5h2.3M1326.1 1066.5h2.3" stroke="#8cd5ec"/><path d="M265.5 1066.5h2.3M493.3 1066.5h2.3M518.6 1066.5h2.3M539.3 1066.5h2.3M546.2 1066.5h2.3M578.4 1066.5h2.3M583 1066.5h4.6M596.8 1066.5h2.3M686.5 1066.5h2.3M780.8 1066.5h4.6M900.5 1066.5h2.3M930.4 1066.5h2.3M935 1066.5h4.6M983.3 1066.5h2.3M994.8 1066.5h2.3M1036.2 1066.5h2.3M1050 1066.5h2.3M1070.7 1066.5h4.6M1082.2 1066.5h2.3M1181.1 1066.5h2.3M1215.6 1066.5h2.3M1342.2 1066.5h2.3M1408.9 1066.5h2.3M1420.4 1066.5h2.3M1425 1066.5h2.3M1445.7 1066.5h6.3" stroke="#af9789"/><path d="M267.8 1066.5h2.3M909.7 1066.5h2.3M1379 1066.5h2.3M1395.1 1066.5h2.3M1413.5 1066.5h2.3" stroke="#ca744a"/><path d="M274.7 1066.5h2.3M283.9 1066.5h4.6M375.9 1066.5h4.6M398.9 1066.5h2.3M445 1066.5h4.6M454.2 1066.5h2.3M486.4 1066.5h2.3M491 1066.5h2.3M714.1 1066.5h2.3M872.9 1066.5h4.6M992.5 1066.5h2.3M1006.3 1066.5h4.6M1024.7 1066.5h4.6M1047.7 1066.5h2.3M1061.5 1066.5h4.6M1077.6 1066.5h2.3M1176.5 1066.5h4.6M1268.6 1066.5h2.3M1346.8 1066.5h9.2M1392.8 1066.5h2.3" stroke="#c08162"/><path d="M277 1066.5h2.3M723.3 1066.5h2.3M1075.3 1066.5h2.3M1190.3 1066.5h4.6" stroke="#c37c5a"/><path d="M279.3 1066.5h2.3M576.1 1066.5h2.3M836 1066.5h2.3M845.2 1066.5h4.6M863.7 1066.5h2.3M1307.7 1066.5h2.3M1319.2 1066.5h4.6M1385.9 1066.5h2.3" stroke="#a8a099"/><path d="M297.7 1066.5h2.3M306.9 1066.5h4.6M320.7 1066.5h2.3M329.9 1066.5h2.3M339.1 1066.5h4.6M359.8 1066.5h2.3M364.4 1066.5h4.6M392 1066.5h2.3M403.5 1066.5h2.3M417.3 1066.5h4.6M426.5 1066.5h2.3M472.6 1066.5h4.6M500.2 1066.5h2.3M509.4 1066.5h9.2M525.5 1066.5h2.3M530.1 1066.5h2.3M541.6 1066.5h2.3M564.6 1066.5h2.3M619.8 1066.5h4.6M638.2 1066.5h2.3M665.8 1066.5h2.3M672.7 1066.5h2.3M677.3 1066.5h2.3M716.4 1066.5h2.3M725.6 1066.5h4.6M741.7 1066.5h2.3M771.6 1066.5h2.3M776.2 1066.5h2.3M792.3 1066.5h2.3M799.2 1066.5h2.3M806.1 1066.5h2.3M852.2 1066.5h2.3M856.8 1066.5h2.3M948.8 1066.5h2.3M987.9 1066.5h2.3M1001.7 1066.5h2.3M1045.4 1066.5h2.3M1091.4 1066.5h2.3M1116.7 1066.5h4.6M1125.9 1066.5h6.9M1162.7 1066.5h2.3M1208.7 1066.5h4.6M1220.2 1066.5h2.3M1227.1 1066.5h4.6M1277.8 1066.5h4.6M1287 1066.5h2.3M1303.1 1066.5h2.3M1337.6 1066.5h2.3" stroke="#91cbdd"/><path d="M327.6 1066.5h2.3M380.5 1066.5h2.3M401.2 1066.5h2.3M479.5 1066.5h4.6M488.7 1066.5h2.3M587.6 1066.5h4.6M854.5 1066.5h2.3M918.9 1066.5h9.2M971.8 1066.5h2.3M1102.9 1066.5h2.3M1270.9 1066.5h2.3M1374.4 1066.5h4.6" stroke="#bc856a"/><path d="M334.5 1066.5h2.3M507.1 1066.5h2.3M831.4 1066.5h4.6M978.7 1066.5h4.6M1056.9 1066.5h4.6" stroke="#a5a4a1"/><path d="M350.6 1066.5h2.3M520.9 1066.5h2.3M642.8 1066.5h4.6M693.4 1066.5h2.3M702.6 1066.5h2.3M721 1066.5h2.3M813 1066.5h4.6M822.2 1066.5h4.6M842.9 1066.5h2.3M859.1 1066.5h2.3M898.2 1066.5h2.3M955.7 1066.5h2.3M974.1 1066.5h2.3M1038.5 1066.5h4.6M1148.9 1066.5h2.3M1204.1 1066.5h2.3M1282.4 1066.5h4.6M1316.9 1066.5h2.3M1356 1066.5h4.6M1415.8 1066.5h4.6" stroke="#b58e79"/><path d="M382.8 1066.5h2.3M449.6 1066.5h4.6M477.2 1066.5h2.3M484.1 1066.5h2.3M504.8 1066.5h2.3M704.9 1066.5h2.3M711.8 1066.5h2.3M778.5 1066.5h2.3M801.5 1066.5h2.3M838.3 1066.5h2.3M849.9 1066.5h2.3M861.4 1066.5h2.3M868.3 1066.5h4.6M893.6 1066.5h2.3M960.3 1066.5h2.3M969.5 1066.5h2.3M976.4 1066.5h2.3M985.6 1066.5h2.3M1015.5 1066.5h2.3M1068.4 1066.5h2.3M1121.3 1066.5h4.6M1135.1 1066.5h4.6M1234 1066.5h2.3M1240.9 1066.5h4.6" stroke="#b98a71"/><path d="M396.6 1066.5h2.3M433.4 1066.5h2.3M635.9 1066.5h2.3M819.9 1066.5h2.3M1257.1 1066.5h2.3" stroke="#96c2ce"/><path d="M412.7 1066.5h2.3M912 1066.5h2.3M958 1066.5h2.3M1383.6 1066.5h2.3M1411.2 1066.5h2.3" stroke="#cd6f42"/><path d="M495.6 1066.5h2.3M905.1 1066.5h4.6M1031.6 1066.5h2.3" stroke="#a0aeb0"/><path d="M497.9 1066.5h2.3M1029.3 1066.5h2.3" stroke="#a2a9a8"/><path d="M532.4 1066.5h2.3M698 1066.5h4.6M1402 1066.5h4.6" stroke="#d06b3d"/><path d="M626.7 1066.5h2.3" stroke="#98bdc6"/><path d="M941.9 1066.5h2.3" stroke="#e64325"/><path d="M1004 1066.5h2.3M1098.3 1066.5h4.6M1296.2 1066.5h2.3M1365.2 1066.5h4.6M1438.8 1066.5h4.6" stroke="#c67852"/><path d="M1066.1 1066.5h2.3M1213.3 1066.5h2.3M1431.9 1066.5h2.3" stroke="#9bb8bf"/><path d="M1344.5 1066.5h2.3M1369.8 1066.5h2.3" stroke="#d2683b"/><path d="M1360.6 1066.5h4.6" stroke="#d46539"/><path d="M1372.1 1066.5h2.3" stroke="#d66137"/><path d="M1381.3 1066.5h2.3M1397.4 1066.5h4.6" stroke="#d75e35"/><path d="M1429.6 1066.5h2.3" stroke="#9db3b7"/></g><g stroke-width="35"><path d="M238.5 1101.5h6.3M468 1101.5h2.3M799.2 1101.5h2.3M838.3 1101.5h2.3M856.8 1101.5h2.3M951.1 1101.5h2.3" stroke="#d66137"/><path d="M244.8 1101.5h2.3M260.9 1101.5h4.6M274.7 1101.5h2.3M359.8 1101.5h2.3M412.7 1101.5h2.3M451.9 1101.5h2.3M474.9 1101.5h2.3M624.4 1101.5h9.2M1109.8 1101.5h6.9M1135.1 1101.5h4.6M1213.3 1101.5h4.6M1231.7 1101.5h4.6M1257.1 1101.5h2.3M1305.4 1101.5h2.3M1316.9 1101.5h2.3" stroke="#b29381"/><path d="M247.1 1101.5h4.6M293.1 1101.5h2.3M380.5 1101.5h4.6M398.9 1101.5h4.6M424.2 1101.5h2.3M438 1101.5h4.6M458.8 1101.5h4.6M523.2 1101.5h4.6M550.8 1101.5h2.3M594.5 1101.5h2.3M610.6 1101.5h4.6M619.8 1101.5h2.3M704.9 1101.5h2.3M716.4 1101.5h2.3M845.2 1101.5h2.3M895.9 1101.5h4.6M994.8 1101.5h2.3M1050 1101.5h2.3M1077.6 1101.5h2.3M1084.5 1101.5h2.3M1208.7 1101.5h4.6M1224.8 1101.5h2.3M1247.9 1101.5h2.3M1259.4 1101.5h4.6M1296.2 1101.5h6.9M1319.2 1101.5h4.6" stroke="#b98a71"/><path d="M251.7 1101.5h4.6M332.2 1101.5h2.3M357.5 1101.5h2.3M465.7 1101.5h2.3M518.6 1101.5h2.3M578.4 1101.5h4.6M587.6 1101.5h4.6M649.7 1101.5h2.3M840.6 1101.5h4.6M854.5 1101.5h2.3M925.8 1101.5h2.3M987.9 1101.5h2.3M1001.7 1101.5h4.6M1024.7 1101.5h2.3M1029.3 1101.5h2.3M1158.1 1101.5h4.6M1167.3 1101.5h2.3M1185.7 1101.5h2.3M1240.9 1101.5h2.3M1293.9 1101.5h2.3M1307.7 1101.5h2.3M1360.6 1101.5h2.3M1390.5 1101.5h2.3" stroke="#c67852"/><path d="M256.3 1101.5h4.6M270.1 1101.5h4.6M288.5 1101.5h4.6M320.7 1101.5h2.3M329.9 1101.5h2.3M343.7 1101.5h2.3M375.9 1101.5h4.6M442.6 1101.5h2.3M520.9 1101.5h2.3M553.1 1101.5h4.6M560 1101.5h2.3M658.9 1101.5h2.3M665.8 1101.5h2.3M684.2 1101.5h2.3M702.6 1101.5h2.3M714.1 1101.5h2.3M718.7 1101.5h2.3M734.8 1101.5h2.3M750.9 1101.5h2.3M760.1 1101.5h4.6M785.4 1101.5h2.3M813 1101.5h4.6M886.7 1101.5h2.3M914.3 1101.5h2.3M932.7 1101.5h2.3M960.3 1101.5h4.6M1031.6 1101.5h2.3M1047.7 1101.5h2.3M1102.9 1101.5h2.3M1116.7 1101.5h4.6M1169.6 1101.5h2.3M1176.5 1101.5h2.3M1250.2 1101.5h4.6M1287 1101.5h4.6M1303.1 1101.5h2.3M1333 1101.5h4.6" stroke="#bc856a"/><path d="M265.5 1101.5h2.3M336.8 1101.5h2.3M385.1 1101.5h4.6M403.5 1101.5h2.3M504.8 1101.5h4.6M730.2 1101.5h2.3M771.6 1101.5h2.3M790 1101.5h4.6M872.9 1101.5h4.6M909.7 1101.5h4.6M946.5 1101.5h2.3M974.1 1101.5h4.6M992.5 1101.5h2.3M1027 1101.5h2.3M1089.1 1101.5h4.6M1139.7 1101.5h2.3M1188 1101.5h2.3M1220.2 1101.5h2.3M1280.1 1101.5h2.3M1418.1 1101.5h2.3" stroke="#c37c5a"/><path d="M267.8 1101.5h2.3M675 1101.5h2.3M852.2 1101.5h2.3" stroke="#9db3b7"/><path d="M277 1101.5h2.3M306.9 1101.5h2.3M316.1 1101.5h4.6M435.7 1101.5h2.3M509.4 1101.5h4.6M541.6 1101.5h4.6M564.6 1101.5h4.6M576.1 1101.5h2.3M661.2 1101.5h4.6M711.8 1101.5h2.3M748.6 1101.5h2.3M753.2 1101.5h4.6M776.2 1101.5h4.6M978.7 1101.5h4.6M1006.3 1101.5h9.2M1033.9 1101.5h2.3M1052.3 1101.5h4.6M1075.3 1101.5h2.3M1098.3 1101.5h4.6M1121.3 1101.5h9.2M1171.9 1101.5h4.6M1245.5 1101.5h2.3M1342.2 1101.5h4.6" stroke="#b58e79"/><path d="M279.3 1101.5h2.3M283.9 1101.5h4.6M313.8 1101.5h2.3M539.3 1101.5h2.3M596.8 1101.5h4.6M638.2 1101.5h4.6M681.9 1101.5h2.3M744 1101.5h4.6M780.8 1101.5h2.3M985.6 1101.5h2.3M1063.8 1101.5h2.3M1082.2 1101.5h2.3M1204.1 1101.5h2.3M1227.1 1101.5h2.3M1268.6 1101.5h4.6" stroke="#a8a099"/><path d="M281.6 1101.5h2.3M302.3 1101.5h4.6M433.4 1101.5h2.3M486.4 1101.5h9.2M601.4 1101.5h4.6M783.1 1101.5h2.3M882.1 1101.5h4.6M1146.6 1101.5h2.3M1178.8 1101.5h2.3M1264 1101.5h4.6M1379 1101.5h4.6" stroke="#a5a4a1"/><path d="M295.4 1101.5h2.3M339.1 1101.5h4.6M346 1101.5h2.3M350.6 1101.5h2.3M415 1101.5h2.3M426.5 1101.5h2.3M449.6 1101.5h2.3M585.3 1101.5h2.3M633.6 1101.5h2.3M688.8 1101.5h4.6M698 1101.5h2.3M1086.8 1101.5h2.3M1107.5 1101.5h2.3M1190.3 1101.5h4.6M1238.6 1101.5h2.3M1273.2 1101.5h4.6M1328.4 1101.5h4.6" stroke="#af9789"/><path d="M297.7 1101.5h4.6M325.3 1101.5h4.6M362.1 1101.5h2.3M463.4 1101.5h2.3M481.8 1101.5h2.3M532.4 1101.5h4.6M546.2 1101.5h2.3M569.2 1101.5h6.9M921.2 1101.5h4.6M1059.2 1101.5h2.3M1217.9 1101.5h2.3M1277.8 1101.5h2.3M1291.6 1101.5h2.3M1388.2 1101.5h2.3M1434.2 1101.5h2.3" stroke="#ca744a"/><path d="M309.2 1101.5h2.3M334.5 1101.5h2.3M348.3 1101.5h2.3M373.6 1101.5h2.3M514 1101.5h4.6M537 1101.5h2.3M668.1 1101.5h2.3M693.4 1101.5h4.6M700.3 1101.5h2.3M723.3 1101.5h2.3M801.5 1101.5h2.3M983.3 1101.5h2.3M1079.9 1101.5h2.3M1130.5 1101.5h4.6M1206.4 1101.5h2.3M1229.4 1101.5h2.3M1310 1101.5h2.3M1323.8 1101.5h4.6" stroke="#ab9b91"/><path d="M311.5 1101.5h2.3M1374.4 1101.5h2.3M1406.6 1101.5h2.3M1415.8 1101.5h2.3M1443.4 1101.5h2.3" stroke="#dd542f"/><path d="M323 1101.5h2.3M352.9 1101.5h4.6M1096 1101.5h2.3M1194.9 1101.5h4.6" stroke="#8cd5ec"/><path d="M364.4 1101.5h4.6M935 1101.5h2.3M1312.3 1101.5h2.3" stroke="#93c6d5"/><path d="M369 1101.5h2.3M431.1 1101.5h2.3M1199.5 1101.5h4.6M1243.2 1101.5h2.3" stroke="#a2a9a8"/><path d="M371.3 1101.5h2.3M477.2 1101.5h4.6M849.9 1101.5h2.3M1222.5 1101.5h2.3" stroke="#a0aeb0"/><path d="M389.7 1101.5h4.6M937.3 1101.5h2.3" stroke="#96c2ce"/><path d="M394.3 1101.5h4.6M405.8 1101.5h6.9M417.3 1101.5h4.6M557.7 1101.5h2.3M562.3 1101.5h2.3M622.1 1101.5h2.3M647.4 1101.5h2.3M670.4 1101.5h4.6M679.6 1101.5h2.3M721 1101.5h2.3M732.5 1101.5h2.3M737.1 1101.5h2.3M757.8 1101.5h2.3M764.7 1101.5h2.3M787.7 1101.5h2.3M826.8 1101.5h4.6M859.1 1101.5h4.6M879.8 1101.5h2.3M948.8 1101.5h2.3M1015.5 1101.5h4.6M1038.5 1101.5h4.6M1056.9 1101.5h2.3M1105.2 1101.5h2.3M1142 1101.5h4.6M1148.9 1101.5h4.6M1162.7 1101.5h4.6M1254.8 1101.5h2.3M1282.4 1101.5h4.6M1314.6 1101.5h2.3M1337.6 1101.5h4.6" stroke="#c08162"/><path d="M421.9 1101.5h2.3M484.1 1101.5h2.3M530.1 1101.5h2.3M548.5 1101.5h2.3M583 1101.5h2.3M635.9 1101.5h2.3M642.8 1101.5h4.6M686.5 1101.5h2.3M707.2 1101.5h4.6M808.4 1101.5h2.3M863.7 1101.5h2.3M877.5 1101.5h2.3M900.5 1101.5h4.6M916.6 1101.5h2.3M939.6 1101.5h2.3M958 1101.5h2.3M969.5 1101.5h4.6M997.1 1101.5h4.6M1236.3 1101.5h2.3M1365.2 1101.5h4.6M1436.5 1101.5h2.3" stroke="#cd6f42"/><path d="M428.8 1101.5h2.3M527.8 1101.5h2.3M606 1101.5h4.6M652 1101.5h4.6M725.6 1101.5h4.6M767 1101.5h4.6M803.8 1101.5h4.6M810.7 1101.5h2.3M817.6 1101.5h4.6M866 1101.5h2.3M870.6 1101.5h2.3M889 1101.5h2.3M955.7 1101.5h2.3M1020.1 1101.5h4.6M1066.1 1101.5h4.6M1181.1 1101.5h2.3M1346.8 1101.5h2.3M1399.7 1101.5h2.3" stroke="#d06b3d"/><path d="M445 1101.5h4.6M454.2 1101.5h2.3M495.6 1101.5h4.6M739.4 1101.5h4.6M773.9 1101.5h2.3M794.6 1101.5h2.3M831.4 1101.5h6.9M868.3 1101.5h2.3M891.3 1101.5h4.6M918.9 1101.5h2.3M953.4 1101.5h2.3M990.2 1101.5h2.3M1061.5 1101.5h2.3M1070.7 1101.5h4.6M1183.4 1101.5h2.3M1422.7 1101.5h2.3" stroke="#d2683b"/><path d="M456.5 1101.5h2.3M615.2 1101.5h4.6M796.9 1101.5h2.3M847.6 1101.5h2.3M1043.1 1101.5h4.6M1353.7 1101.5h2.3M1362.9 1101.5h2.3M1438.8 1101.5h4.6" stroke="#d46539"/><path d="M470.3 1101.5h2.3M500.2 1101.5h2.3M592.2 1101.5h2.3M656.6 1101.5h2.3M822.2 1101.5h4.6M905.1 1101.5h4.6M944.2 1101.5h2.3M967.2 1101.5h2.3M1372.1 1101.5h2.3M1397.4 1101.5h2.3M1402 1101.5h4.6M1411.2 1101.5h4.6M1425 1101.5h2.3" stroke="#d75e35"/><path d="M472.6 1101.5h2.3M677.3 1101.5h2.3M1153.5 1101.5h4.6" stroke="#9bb8bf"/><path d="M502.5 1101.5h2.3M928.1 1101.5h2.3M964.9 1101.5h2.3M1036.2 1101.5h2.3M1349.1 1101.5h2.3M1369.8 1101.5h2.3M1392.8 1101.5h4.6M1420.4 1101.5h2.3" stroke="#d95a33"/><path d="M930.4 1101.5h2.3M1351.4 1101.5h2.3M1358.3 1101.5h2.3M1376.7 1101.5h2.3M1408.9 1101.5h2.3M1445.7 1101.5h6.3" stroke="#db5731"/><path d="M941.9 1101.5h2.3" stroke="#f22f19"/><path d="M1093.7 1101.5h2.3" stroke="#8ed0e4"/><path d="M1356 1101.5h2.3M1383.6 1101.5h4.6M1427.3 1101.5h2.3" stroke="#df502d"/><path d="M1429.6 1101.5h4.6" stroke="#e34a29"/></g><g stroke-width="35"><path d="M238.5 1136.5h6.3M265.5 1136.5h4.6M461.1 1136.5h4.6M495.6 1136.5h2.3M569.2 1136.5h2.3M583 1136.5h2.3M592.2 1136.5h4.6M633.6 1136.5h2.3M824.5 1136.5h2.3M831.4 1136.5h4.6M847.6 1136.5h2.3M882.1 1136.5h4.6M978.7 1136.5h2.3M985.6 1136.5h2.3M1008.6 1136.5h2.3M1047.7 1136.5h4.6M1109.8 1136.5h2.3M1125.9 1136.5h4.6M1148.9 1136.5h2.3M1222.5 1136.5h4.6M1238.6 1136.5h2.3M1252.5 1136.5h2.3M1259.4 1136.5h4.6M1268.6 1136.5h4.6" stroke="#c67852"/><path d="M244.8 1136.5h2.3M270.1 1136.5h4.6M458.8 1136.5h2.3M486.4 1136.5h4.6M537 1136.5h4.6M585.3 1136.5h2.3M629 1136.5h2.3M635.9 1136.5h2.3M693.4 1136.5h4.6M808.4 1136.5h4.6M819.9 1136.5h4.6M859.1 1136.5h2.3M976.4 1136.5h2.3M1043.1 1136.5h4.6M1096 1136.5h2.3M1107.5 1136.5h2.3M1250.2 1136.5h2.3M1346.8 1136.5h4.6M1392.8 1136.5h2.3M1399.7 1136.5h2.3M1411.2 1136.5h9.2" stroke="#c37c5a"/><path d="M247.1 1136.5h2.3M293.1 1136.5h2.3M371.3 1136.5h2.3M389.7 1136.5h2.3M516.3 1136.5h2.3M638.2 1136.5h2.3M762.4 1136.5h2.3M785.4 1136.5h4.6M806.1 1136.5h2.3M1077.6 1136.5h2.3M1236.3 1136.5h2.3" stroke="#a2a9a8"/><path d="M249.4 1136.5h2.3M258.6 1136.5h2.3M481.8 1136.5h2.3M497.9 1136.5h2.3M523.2 1136.5h2.3M546.2 1136.5h4.6M606 1136.5h2.3M624.4 1136.5h2.3M640.5 1136.5h2.3M647.4 1136.5h2.3M709.5 1136.5h2.3M721 1136.5h4.6M753.2 1136.5h2.3M960.3 1136.5h2.3M974.1 1136.5h2.3M987.9 1136.5h2.3M992.5 1136.5h9.2M1063.8 1136.5h2.3M1151.2 1136.5h2.3M1176.5 1136.5h2.3M1231.7 1136.5h2.3M1300.8 1136.5h2.3M1307.7 1136.5h2.3M1388.2 1136.5h2.3M1395.1 1136.5h2.3" stroke="#c08162"/><path d="M251.7 1136.5h2.3M297.7 1136.5h4.6M316.1 1136.5h2.3M336.8 1136.5h2.3M410.4 1136.5h2.3M449.6 1136.5h2.3M472.6 1136.5h4.6M484.1 1136.5h2.3M514 1136.5h2.3M534.7 1136.5h2.3M541.6 1136.5h4.6M555.4 1136.5h4.6M580.7 1136.5h2.3M587.6 1136.5h4.6M681.9 1136.5h2.3M725.6 1136.5h2.3M732.5 1136.5h2.3M760.1 1136.5h2.3M813 1136.5h4.6M838.3 1136.5h2.3M842.9 1136.5h4.6M856.8 1136.5h2.3M863.7 1136.5h4.6M872.9 1136.5h2.3M879.8 1136.5h2.3M891.3 1136.5h2.3M912 1136.5h2.3M923.5 1136.5h2.3M944.2 1136.5h2.3M948.8 1136.5h2.3M958 1136.5h2.3M1001.7 1136.5h2.3M1061.5 1136.5h2.3M1079.9 1136.5h2.3M1153.5 1136.5h4.6M1169.6 1136.5h2.3M1185.7 1136.5h4.6M1229.4 1136.5h2.3M1310 1136.5h9.2M1358.3 1136.5h2.3M1365.2 1136.5h2.3" stroke="#b98a71"/><path d="M254 1136.5h2.3M283.9 1136.5h2.3M320.7 1136.5h4.6M375.9 1136.5h9.2M403.5 1136.5h4.6M426.5 1136.5h4.6M451.9 1136.5h2.3M491 1136.5h4.6M502.5 1136.5h2.3M654.3 1136.5h2.3M658.9 1136.5h2.3M663.5 1136.5h2.3M670.4 1136.5h4.6M679.6 1136.5h2.3M688.8 1136.5h4.6M698 1136.5h4.6M727.9 1136.5h2.3M734.8 1136.5h13.8M757.8 1136.5h2.3M771.6 1136.5h2.3M776.2 1136.5h9.2M799.2 1136.5h4.6M840.6 1136.5h2.3M877.5 1136.5h2.3M895.9 1136.5h4.6M916.6 1136.5h2.3M932.7 1136.5h2.3M962.6 1136.5h2.3M1027 1136.5h2.3M1033.9 1136.5h9.2M1052.3 1136.5h4.6M1089.1 1136.5h4.6M1167.3 1136.5h2.3M1178.8 1136.5h2.3M1245.5 1136.5h2.3M1254.8 1136.5h4.6M1339.9 1136.5h2.3M1360.6 1136.5h4.6" stroke="#b58e79"/><path d="M256.3 1136.5h2.3M260.9 1136.5h4.6M332.2 1136.5h2.3M343.7 1136.5h2.3M385.1 1136.5h2.3M500.2 1136.5h2.3M504.8 1136.5h2.3M573.8 1136.5h4.6M596.8 1136.5h2.3M601.4 1136.5h4.6M612.9 1136.5h2.3M642.8 1136.5h2.3M652 1136.5h2.3M656.6 1136.5h2.3M675 1136.5h4.6M686.5 1136.5h2.3M714.1 1136.5h2.3M773.9 1136.5h2.3M790 1136.5h4.6M829.1 1136.5h2.3M900.5 1136.5h2.3M1056.9 1136.5h4.6M1098.3 1136.5h4.6M1139.7 1136.5h4.6M1181.1 1136.5h4.6M1204.1 1136.5h4.6M1211 1136.5h2.3M1227.1 1136.5h2.3M1247.9 1136.5h2.3M1284.7 1136.5h2.3M1319.2 1136.5h4.6M1328.4 1136.5h4.6M1337.6 1136.5h2.3" stroke="#b29381"/><path d="M274.7 1136.5h4.6M350.6 1136.5h2.3M373.6 1136.5h2.3M578.4 1136.5h2.3M665.8 1136.5h4.6M730.2 1136.5h2.3M764.7 1136.5h2.3M803.8 1136.5h2.3M905.1 1136.5h2.3M1112.1 1136.5h4.6M1119 1136.5h2.3M1280.1 1136.5h2.3" stroke="#a5a4a1"/><path d="M279.3 1136.5h2.3M311.5 1136.5h2.3M329.9 1136.5h2.3M346 1136.5h2.3M362.1 1136.5h2.3M387.4 1136.5h2.3M394.3 1136.5h2.3M398.9 1136.5h4.6M412.7 1136.5h2.3M417.3 1136.5h9.2M454.2 1136.5h4.6M507.1 1136.5h2.3M571.5 1136.5h2.3M599.1 1136.5h2.3M610.6 1136.5h2.3M661.2 1136.5h2.3M711.8 1136.5h2.3M716.4 1136.5h4.6M826.8 1136.5h2.3M854.5 1136.5h2.3M861.4 1136.5h2.3M969.5 1136.5h4.6M1006.3 1136.5h2.3M1029.3 1136.5h4.6M1082.2 1136.5h4.6M1171.9 1136.5h4.6M1213.3 1136.5h2.3M1282.4 1136.5h2.3M1298.5 1136.5h2.3" stroke="#af9789"/><path d="M281.6 1136.5h2.3M465.7 1136.5h2.3M525.5 1136.5h2.3M817.6 1136.5h2.3M836 1136.5h2.3M852.2 1136.5h2.3M902.8 1136.5h2.3M918.9 1136.5h2.3M964.9 1136.5h4.6M981 1136.5h4.6M1010.9 1136.5h4.6M1066.1 1136.5h4.6M1073 1136.5h2.3M1086.8 1136.5h2.3M1165 1136.5h2.3M1215.6 1136.5h2.3M1266.3 1136.5h2.3M1287 1136.5h4.6M1323.8 1136.5h4.6M1379 1136.5h4.6" stroke="#ca744a"/><path d="M286.2 1136.5h2.3M318.4 1136.5h2.3M325.3 1136.5h4.6M408.1 1136.5h2.3M440.3 1136.5h9.2M468 1136.5h4.6M518.6 1136.5h4.6M527.8 1136.5h6.9M550.8 1136.5h4.6M608.3 1136.5h2.3M649.7 1136.5h2.3M755.5 1136.5h2.3M893.6 1136.5h2.3M909.7 1136.5h2.3M914.3 1136.5h2.3M925.8 1136.5h6.9M939.6 1136.5h2.3M955.7 1136.5h2.3M990.2 1136.5h2.3M1020.1 1136.5h4.6M1070.7 1136.5h2.3M1093.7 1136.5h2.3M1105.2 1136.5h2.3M1162.7 1136.5h2.3M1217.9 1136.5h4.6M1303.1 1136.5h4.6M1356 1136.5h2.3M1367.5 1136.5h2.3M1376.7 1136.5h2.3M1408.9 1136.5h2.3" stroke="#bc856a"/><path d="M288.5 1136.5h2.3M1208.7 1136.5h2.3" stroke="#9db3b7"/><path d="M290.8 1136.5h2.3M366.7 1136.5h2.3M1158.1 1136.5h4.6" stroke="#9bb8bf"/><path d="M295.4 1136.5h2.3M392 1136.5h2.3M431.1 1136.5h4.6M631.3 1136.5h2.3M1135.1 1136.5h4.6M1199.5 1136.5h2.3M1273.2 1136.5h4.6" stroke="#a0aeb0"/><path d="M302.3 1136.5h4.6M341.4 1136.5h2.3M348.3 1136.5h2.3M352.9 1136.5h6.9M479.5 1136.5h2.3M509.4 1136.5h4.6M564.6 1136.5h4.6M615.2 1136.5h4.6M626.7 1136.5h2.3M702.6 1136.5h2.3M889 1136.5h2.3M907.4 1136.5h2.3M1075.3 1136.5h2.3M1102.9 1136.5h2.3M1116.7 1136.5h2.3M1132.8 1136.5h2.3M1194.9 1136.5h4.6M1201.8 1136.5h2.3M1277.8 1136.5h2.3M1333 1136.5h2.3M1404.3 1136.5h2.3" stroke="#a8a099"/><path d="M306.9 1136.5h2.3M1004 1136.5h2.3M1190.3 1136.5h4.6" stroke="#93c6d5"/><path d="M309.2 1136.5h2.3M438 1136.5h2.3M748.6 1136.5h4.6" stroke="#8ed0e4"/><path d="M313.8 1136.5h2.3M334.5 1136.5h2.3M339.1 1136.5h2.3M359.8 1136.5h2.3M396.6 1136.5h2.3M415 1136.5h2.3M435.7 1136.5h2.3M477.2 1136.5h2.3M619.8 1136.5h4.6M645.1 1136.5h2.3M704.9 1136.5h4.6M767 1136.5h4.6M886.7 1136.5h2.3M1130.5 1136.5h2.3M1234 1136.5h2.3M1291.6 1136.5h4.6M1335.3 1136.5h2.3M1342.2 1136.5h4.6M1374.4 1136.5h2.3M1402 1136.5h2.3" stroke="#ab9b91"/><path d="M364.4 1136.5h2.3" stroke="#98bdc6"/><path d="M369 1136.5h2.3" stroke="#96c2ce"/><path d="M560 1136.5h4.6M796.9 1136.5h2.3M875.2 1136.5h2.3M951.1 1136.5h4.6M1017.8 1136.5h2.3M1121.3 1136.5h2.3M1144.3 1136.5h2.3M1240.9 1136.5h4.6M1351.4 1136.5h4.6M1427.3 1136.5h2.3" stroke="#d06b3d"/><path d="M684.2 1136.5h2.3M868.3 1136.5h4.6M1015.5 1136.5h2.3M1123.6 1136.5h2.3M1296.2 1136.5h2.3M1425 1136.5h2.3" stroke="#d2683b"/><path d="M794.6 1136.5h2.3M849.9 1136.5h2.3M921.2 1136.5h2.3M1024.7 1136.5h2.3M1146.6 1136.5h2.3M1264 1136.5h2.3M1369.8 1136.5h4.6M1438.8 1136.5h4.6" stroke="#cd6f42"/><path d="M935 1136.5h2.3" stroke="#e64325"/><path d="M937.3 1136.5h2.3" stroke="#e83f23"/><path d="M941.9 1136.5h2.3" stroke="#ea3c21"/><path d="M946.5 1136.5h2.3" stroke="#d46539"/><path d="M1383.6 1136.5h4.6M1436.5 1136.5h2.3" stroke="#d66137"/><path d="M1390.5 1136.5h2.3" stroke="#f0321b"/><path d="M1397.4 1136.5h2.3M1406.6 1136.5h2.3M1434.2 1136.5h2.3" stroke="#d75e35"/><path d="M1420.4 1136.5h4.6M1429.6 1136.5h2.3" stroke="#d95a33"/><path d="M1431.9 1136.5h2.3" stroke="#db5731"/><path d="M1443.4 1136.5h8.6" stroke="#dd542f"/></g><g stroke-width="35"><path d="M238.5 1171.5h6.3M251.7 1171.5h4.6M290.8 1171.5h2.3M355.2 1171.5h2.3M431.1 1171.5h4.6M817.6 1171.5h2.3M822.2 1171.5h2.3M859.1 1171.5h2.3M868.3 1171.5h4.6M882.1 1171.5h4.6M905.1 1171.5h4.6M916.6 1171.5h2.3M951.1 1171.5h4.6M962.6 1171.5h2.3M974.1 1171.5h2.3M978.7 1171.5h2.3M1006.3 1171.5h2.3M1033.9 1171.5h2.3M1047.7 1171.5h2.3M1052.3 1171.5h4.6M1130.5 1171.5h4.6M1190.3 1171.5h4.6M1201.8 1171.5h2.3M1227.1 1171.5h4.6M1277.8 1171.5h2.3M1287 1171.5h4.6M1293.9 1171.5h2.3M1303.1 1171.5h4.6M1312.3 1171.5h2.3" stroke="#91cbdd"/><path d="M244.8 1171.5h2.3M352.9 1171.5h2.3M426.5 1171.5h2.3M866 1171.5h2.3M895.9 1171.5h4.6M914.3 1171.5h2.3M937.3 1171.5h2.3M944.2 1171.5h2.3M981 1171.5h6.9M1024.7 1171.5h4.6M1056.9 1171.5h2.3M1077.6 1171.5h2.3M1093.7 1171.5h2.3M1155.8 1171.5h2.3M1167.3 1171.5h4.6M1176.5 1171.5h2.3M1181.1 1171.5h2.3M1259.4 1171.5h4.6M1273.2 1171.5h2.3M1300.8 1171.5h2.3M1310 1171.5h2.3M1337.6 1171.5h4.6" stroke="#93c6d5"/><path d="M247.1 1171.5h2.3M925.8 1171.5h2.3" stroke="#9db3b7"/><path d="M249.4 1171.5h2.3M348.3 1171.5h2.3M401.2 1171.5h2.3M909.7 1171.5h4.6M923.5 1171.5h2.3" stroke="#a0aeb0"/><path d="M256.3 1171.5h2.3M270.1 1171.5h2.3M737.1 1171.5h2.3M796.9 1171.5h2.3M877.5 1171.5h4.6" stroke="#cd6f42"/><path d="M258.6 1171.5h2.3M281.6 1171.5h2.3M320.7 1171.5h2.3M359.8 1171.5h2.3M375.9 1171.5h2.3M428.8 1171.5h2.3M960.3 1171.5h2.3M1063.8 1171.5h2.3M1079.9 1171.5h2.3M1119 1171.5h2.3M1153.5 1171.5h2.3M1158.1 1171.5h2.3M1208.7 1171.5h2.3M1333 1171.5h4.6" stroke="#b98a71"/><path d="M260.9 1171.5h4.6M382.8 1171.5h4.6M403.5 1171.5h2.3M424.2 1171.5h2.3M1148.9 1171.5h4.6" stroke="#a5a4a1"/><path d="M265.5 1171.5h4.6M272.4 1171.5h2.3M286.2 1171.5h2.3M325.3 1171.5h2.3M329.9 1171.5h2.3M847.6 1171.5h2.3M1061.5 1171.5h2.3M1160.4 1171.5h2.3M1296.2 1171.5h4.6M1330.7 1171.5h2.3" stroke="#bc856a"/><path d="M274.7 1171.5h4.6M316.1 1171.5h2.3M707.2 1171.5h4.6M1089.1 1171.5h4.6M1102.9 1171.5h2.3M1112.1 1171.5h4.6M1125.9 1171.5h4.6M1139.7 1171.5h2.3M1188 1171.5h2.3M1250.2 1171.5h4.6" stroke="#ab9b91"/><path d="M279.3 1171.5h2.3M283.9 1171.5h2.3M302.3 1171.5h2.3M341.4 1171.5h2.3M357.5 1171.5h2.3M378.2 1171.5h2.3M398.9 1171.5h2.3M886.7 1171.5h2.3M918.9 1171.5h4.6M939.6 1171.5h4.6M946.5 1171.5h4.6M1010.9 1171.5h4.6M1038.5 1171.5h2.3M1066.1 1171.5h4.6" stroke="#b58e79"/><path d="M288.5 1171.5h2.3M295.4 1171.5h2.3M311.5 1171.5h4.6M334.5 1171.5h2.3M343.7 1171.5h4.6M350.6 1171.5h2.3M362.1 1171.5h2.3M440.3 1171.5h4.6M824.5 1171.5h4.6M849.9 1171.5h6.9M861.4 1171.5h2.3M935 1171.5h2.3M964.9 1171.5h4.6M971.8 1171.5h2.3M987.9 1171.5h4.6M1008.6 1171.5h2.3M1036.2 1171.5h2.3M1075.3 1171.5h2.3M1086.8 1171.5h2.3M1098.3 1171.5h4.6M1121.3 1171.5h4.6M1174.2 1171.5h2.3M1183.4 1171.5h2.3M1204.1 1171.5h4.6M1211 1171.5h2.3M1224.8 1171.5h2.3M1236.3 1171.5h2.3M1245.5 1171.5h4.6M1264 1171.5h4.6M1280.1 1171.5h2.3M1316.9 1171.5h6.9M1344.5 1171.5h2.3" stroke="#8ed0e4"/><path d="M293.1 1171.5h2.3M421.9 1171.5h2.3M831.4 1171.5h4.6M1254.8 1171.5h4.6M1323.8 1171.5h4.6" stroke="#a2a9a8"/><path d="M297.7 1171.5h4.6M304.6 1171.5h4.6M371.3 1171.5h4.6M380.5 1171.5h2.3M415 1171.5h2.3M838.3 1171.5h2.3M863.7 1171.5h2.3M889 1171.5h2.3M902.8 1171.5h2.3M969.5 1171.5h2.3M1020.1 1171.5h4.6M1082.2 1171.5h2.3M1270.9 1171.5h2.3" stroke="#b29381"/><path d="M309.2 1171.5h2.3M323 1171.5h2.3M369 1171.5h2.3M836 1171.5h2.3M1031.6 1171.5h2.3M1070.7 1171.5h4.6M1291.6 1171.5h2.3" stroke="#af9789"/><path d="M318.4 1171.5h2.3M339.1 1171.5h2.3M387.4 1171.5h2.3M405.8 1171.5h2.3M928.1 1171.5h2.3M1040.8 1171.5h2.3M1050 1171.5h2.3M1096 1171.5h2.3M1142 1171.5h6.9" stroke="#a8a099"/><path d="M327.6 1171.5h2.3M336.8 1171.5h2.3M410.4 1171.5h4.6M803.8 1171.5h4.6M813 1171.5h4.6M845.2 1171.5h2.3M875.2 1171.5h2.3M955.7 1171.5h2.3M1059.2 1171.5h2.3M1116.7 1171.5h2.3M1135.1 1171.5h2.3M1185.7 1171.5h2.3M1199.5 1171.5h2.3M1217.9 1171.5h4.6M1268.6 1171.5h2.3" stroke="#c08162"/><path d="M332.2 1171.5h2.3M691.1 1171.5h2.3M790 1171.5h2.3M1107.5 1171.5h4.6" stroke="#c67852"/><path d="M364.4 1171.5h2.3M463.4 1171.5h4.6M486.4 1171.5h4.6M509.4 1171.5h2.3M546.2 1171.5h2.3M569.2 1171.5h4.6M583 1171.5h4.6M596.8 1171.5h4.6M606 1171.5h4.6M647.4 1171.5h4.6M661.2 1171.5h2.3M1397.4 1171.5h4.6" stroke="#f92111"/><path d="M366.7 1171.5h2.3M468 1171.5h4.6M507.1 1171.5h2.3M514 1171.5h4.6M543.9 1171.5h2.3M562.3 1171.5h2.3M578.4 1171.5h4.6M603.7 1171.5h2.3M612.9 1171.5h4.6M642.8 1171.5h2.3M652 1171.5h2.3M658.9 1171.5h2.3M679.6 1171.5h4.6M1362.9 1171.5h2.3M1406.6 1171.5h9.2M1420.4 1171.5h6.9M1443.4 1171.5h2.3" stroke="#f52815"/><path d="M389.7 1171.5h2.3M741.7 1171.5h4.6M753.2 1171.5h9.2M783.1 1171.5h2.3" stroke="#d75e35"/><path d="M392 1171.5h2.3M716.4 1171.5h2.3M771.6 1171.5h2.3" stroke="#d46539"/><path d="M394.3 1171.5h4.6M435.7 1171.5h4.6M799.2 1171.5h4.6M872.9 1171.5h2.3M958 1171.5h2.3M992.5 1171.5h4.6M1045.4 1171.5h2.3M1275.5 1171.5h2.3M1282.4 1171.5h4.6M1328.4 1171.5h2.3" stroke="#c37c5a"/><path d="M408.1 1171.5h2.3M829.1 1171.5h2.3M840.6 1171.5h4.6M856.8 1171.5h2.3M891.3 1171.5h4.6M930.4 1171.5h2.3M997.1 1171.5h9.2M1043.1 1171.5h2.3M1084.5 1171.5h2.3M1162.7 1171.5h4.6M1171.9 1171.5h2.3M1194.9 1171.5h4.6M1222.5 1171.5h2.3M1231.7 1171.5h4.6M1238.6 1171.5h6.9M1314.6 1171.5h2.3M1342.2 1171.5h2.3" stroke="#8cd5ec"/><path d="M417.3 1171.5h4.6" stroke="#98bdc6"/><path d="M445 1171.5h4.6M456.5 1171.5h2.3M534.7 1171.5h2.3M548.5 1171.5h2.3M560 1171.5h2.3M631.3 1171.5h2.3M638.2 1171.5h4.6M645.1 1171.5h2.3M684.2 1171.5h4.6M1383.6 1171.5h4.6" stroke="#f0321b"/><path d="M449.6 1171.5h4.6M477.2 1171.5h4.6M725.6 1171.5h4.6M794.6 1171.5h2.3M1402 1171.5h4.6" stroke="#df502d"/><path d="M454.2 1171.5h2.3M527.8 1171.5h4.6M762.4 1171.5h4.6M1388.2 1171.5h4.6" stroke="#ee351d"/><path d="M458.8 1171.5h2.3M474.9 1171.5h2.3M491 1171.5h2.3M500.2 1171.5h4.6M518.6 1171.5h2.3M525.5 1171.5h2.3M541.6 1171.5h2.3M555.4 1171.5h4.6M573.8 1171.5h2.3M589.9 1171.5h2.3M619.8 1171.5h4.6M672.7 1171.5h4.6M1351.4 1171.5h4.6M1374.4 1171.5h2.3M1395.1 1171.5h2.3M1434.2 1171.5h4.6" stroke="#f32b17"/><path d="M461.1 1171.5h2.3M493.3 1171.5h2.3M511.7 1171.5h2.3M523.2 1171.5h2.3M532.4 1171.5h2.3M564.6 1171.5h4.6M587.6 1171.5h2.3M610.6 1171.5h2.3M617.5 1171.5h2.3M629 1171.5h2.3M633.6 1171.5h4.6M670.4 1171.5h2.3M1349.1 1171.5h2.3M1356 1171.5h4.6M1376.7 1171.5h2.3M1392.8 1171.5h2.3M1427.3 1171.5h4.6" stroke="#f22f19"/><path d="M472.6 1171.5h2.3M656.6 1171.5h2.3M695.7 1171.5h2.3M702.6 1171.5h4.6M1445.7 1171.5h6.3" stroke="#e14d2b"/><path d="M481.8 1171.5h4.6M504.8 1171.5h2.3M576.1 1171.5h2.3M624.4 1171.5h4.6M654.3 1171.5h2.3M663.5 1171.5h2.3M1379 1171.5h4.6M1431.9 1171.5h2.3" stroke="#f72413"/><path d="M495.6 1171.5h4.6M688.8 1171.5h2.3M792.3 1171.5h2.3M1369.8 1171.5h4.6" stroke="#e34a29"/><path d="M520.9 1171.5h2.3M550.8 1171.5h4.6M592.2 1171.5h4.6M601.4 1171.5h2.3M665.8 1171.5h4.6M693.4 1171.5h2.3M1365.2 1171.5h4.6M1415.8 1171.5h2.3M1438.8 1171.5h2.3" stroke="#ea3c21"/><path d="M537 1171.5h2.3M698 1171.5h2.3M721 1171.5h4.6" stroke="#db5731"/><path d="M539.3 1171.5h2.3M734.8 1171.5h2.3M746.3 1171.5h6.9M780.8 1171.5h2.3M785.4 1171.5h4.6" stroke="#d95a33"/><path d="M677.3 1171.5h2.3M1360.6 1171.5h2.3M1418.1 1171.5h2.3" stroke="#ec391f"/><path d="M700.3 1171.5h2.3M730.2 1171.5h2.3M773.9 1171.5h2.3M808.4 1171.5h4.6M1137.4 1171.5h2.3" stroke="#d2683b"/><path d="M711.8 1171.5h4.6M732.5 1171.5h2.3M739.4 1171.5h2.3M776.2 1171.5h4.6M976.4 1171.5h2.3" stroke="#d06b3d"/><path d="M718.7 1171.5h2.3" stroke="#d66137"/><path d="M767 1171.5h4.6" stroke="#e64325"/><path d="M819.9 1171.5h2.3M1178.8 1171.5h2.3M1307.7 1171.5h2.3" stroke="#96c2ce"/><path d="M900.5 1171.5h2.3M932.7 1171.5h2.3M1015.5 1171.5h4.6M1029.3 1171.5h2.3M1105.2 1171.5h2.3M1213.3 1171.5h4.6" stroke="#ca744a"/><path d="M1346.8 1171.5h2.3" stroke="#e44627"/><path d="M1441.1 1171.5h2.3" stroke="#dd542f"/></g><g stroke-width="35"><path d="M238.5 1206.5h8.6" stroke="#b58e79"/><path d="M247.1 1206.5h2.3M704.9 1206.5h2.3" stroke="#c08162"/><path d="M249.4 1206.5h2.3" stroke="#bc856a"/><path d="M251.7 1206.5h2.3M270.1 1206.5h2.3M302.3 1206.5h2.3M316.1 1206.5h4.6M341.4 1206.5h2.3M348.3 1206.5h2.3M369 1206.5h2.3M394.3 1206.5h2.3M412.7 1206.5h9.2M716.4 1206.5h2.3M868.3 1206.5h4.6M900.5 1206.5h4.6M1185.7 1206.5h4.6M1222.5 1206.5h4.6" stroke="#df502d"/><path d="M254 1206.5h2.3M272.4 1206.5h2.3M325.3 1206.5h2.3M339.1 1206.5h2.3M350.6 1206.5h2.3M537 1206.5h2.3M596.8 1206.5h2.3M693.4 1206.5h4.6M734.8 1206.5h4.6M750.9 1206.5h2.3M762.4 1206.5h4.6M967.2 1206.5h2.3M1052.3 1206.5h4.6M1068.4 1206.5h2.3M1079.9 1206.5h2.3M1112.1 1206.5h4.6M1125.9 1206.5h2.3M1252.5 1206.5h2.3M1280.1 1206.5h2.3M1342.2 1206.5h2.3" stroke="#e14d2b"/><path d="M256.3 1206.5h4.6M286.2 1206.5h6.9M304.6 1206.5h2.3M320.7 1206.5h4.6M385.1 1206.5h2.3M396.6 1206.5h2.3M405.8 1206.5h2.3M435.7 1206.5h4.6M442.6 1206.5h2.3M787.7 1206.5h2.3M842.9 1206.5h2.3M886.7 1206.5h4.6M941.9 1206.5h2.3M1215.6 1206.5h2.3M1264 1206.5h2.3" stroke="#dd542f"/><path d="M260.9 1206.5h4.6" stroke="#8cd5ec"/><path d="M265.5 1206.5h4.6M327.6 1206.5h2.3M334.5 1206.5h2.3M371.3 1206.5h4.6M380.5 1206.5h4.6M408.1 1206.5h2.3M426.5 1206.5h4.6" stroke="#ca744a"/><path d="M274.7 1206.5h4.6M300 1206.5h2.3M905.1 1206.5h4.6M1337.6 1206.5h4.6" stroke="#d06b3d"/><path d="M279.3 1206.5h2.3M297.7 1206.5h2.3M313.8 1206.5h2.3M398.9 1206.5h2.3M1316.9 1206.5h2.3" stroke="#d2683b"/><path d="M281.6 1206.5h2.3M343.7 1206.5h4.6M401.2 1206.5h4.6M796.9 1206.5h2.3" stroke="#d46539"/><path d="M283.9 1206.5h2.3M357.5 1206.5h2.3M378.2 1206.5h2.3M387.4 1206.5h2.3M421.9 1206.5h4.6M431.1 1206.5h2.3M440.3 1206.5h2.3M785.4 1206.5h2.3M840.6 1206.5h2.3M944.2 1206.5h2.3M1266.3 1206.5h2.3" stroke="#db5731"/><path d="M293.1 1206.5h2.3M599.1 1206.5h2.3M806.1 1206.5h2.3M992.5 1206.5h4.6M1066.1 1206.5h2.3M1128.2 1206.5h2.3M1231.7 1206.5h2.3M1277.8 1206.5h2.3M1330.7 1206.5h2.3M1344.5 1206.5h2.3" stroke="#e34a29"/><path d="M295.4 1206.5h2.3M329.9 1206.5h2.3M352.9 1206.5h4.6M688.8 1206.5h4.6M707.2 1206.5h4.6M727.9 1206.5h2.3M778.5 1206.5h2.3M790 1206.5h4.6M803.8 1206.5h2.3M810.7 1206.5h2.3M1250.2 1206.5h2.3M1273.2 1206.5h2.3M1307.7 1206.5h2.3M1328.4 1206.5h2.3M1420.4 1206.5h4.6M1429.6 1206.5h2.3" stroke="#e44627"/><path d="M306.9 1206.5h4.6M794.6 1206.5h2.3M859.1 1206.5h4.6M1314.6 1206.5h2.3" stroke="#d75e35"/><path d="M311.5 1206.5h2.3M362.1 1206.5h2.3M410.4 1206.5h2.3" stroke="#c67852"/><path d="M332.2 1206.5h2.3M532.4 1206.5h4.6M601.4 1206.5h2.3M686.5 1206.5h2.3M702.6 1206.5h2.3M718.7 1206.5h2.3M725.6 1206.5h2.3M744 1206.5h2.3M755.5 1206.5h2.3M767 1206.5h4.6M776.2 1206.5h2.3M783.1 1206.5h2.3M808.4 1206.5h2.3M854.5 1206.5h2.3M891.3 1206.5h2.3M923.5 1206.5h4.6M1022.4 1206.5h2.3M1275.5 1206.5h2.3M1305.4 1206.5h2.3M1312.3 1206.5h2.3M1323.8 1206.5h4.6" stroke="#e64325"/><path d="M336.8 1206.5h2.3" stroke="#cd6f42"/><path d="M359.8 1206.5h2.3M433.4 1206.5h2.3" stroke="#d95a33"/><path d="M364.4 1206.5h2.3" stroke="#93c6d5"/><path d="M366.7 1206.5h2.3" stroke="#91cbdd"/><path d="M375.9 1206.5h2.3M587.6 1206.5h2.3M739.4 1206.5h4.6M746.3 1206.5h2.3M753.2 1206.5h2.3M780.8 1206.5h2.3M799.2 1206.5h4.6M813 1206.5h2.3M817.6 1206.5h4.6M856.8 1206.5h2.3M939.6 1206.5h2.3M1174.2 1206.5h4.6M1247.9 1206.5h2.3M1300.8 1206.5h2.3M1310 1206.5h2.3M1436.5 1206.5h2.3" stroke="#e83f23"/><path d="M389.7 1206.5h4.6" stroke="#98bdc6"/><path d="M445 1206.5h2.3M454.2 1206.5h2.3M472.6 1206.5h4.6M509.4 1206.5h2.3M546.2 1206.5h4.6M560 1206.5h4.6M569.2 1206.5h2.3M603.7 1206.5h4.6M649.7 1206.5h2.3M663.5 1206.5h2.3M672.7 1206.5h6.9M918.9 1206.5h4.6M1006.3 1206.5h2.3M1043.1 1206.5h4.6M1183.4 1206.5h2.3M1268.6 1206.5h2.3M1358.3 1206.5h2.3M1365.2 1206.5h4.6M1379 1206.5h4.6M1390.5 1206.5h2.3M1402 1206.5h4.6M1443.4 1206.5h8.6" stroke="#f72413"/><path d="M447.3 1206.5h2.3M458.8 1206.5h4.6M468 1206.5h4.6M500.2 1206.5h6.9M511.7 1206.5h2.3M553.1 1206.5h2.3M557.7 1206.5h2.3M578.4 1206.5h4.6M608.3 1206.5h2.3M619.8 1206.5h4.6M629 1206.5h4.6M642.8 1206.5h6.9M670.4 1206.5h2.3M684.2 1206.5h2.3M836 1206.5h4.6M882.1 1206.5h4.6M914.3 1206.5h4.6M960.3 1206.5h2.3M985.6 1206.5h2.3M1010.9 1206.5h4.6M1100.6 1206.5h2.3M1109.8 1206.5h2.3M1135.1 1206.5h4.6M1153.5 1206.5h4.6M1167.3 1206.5h4.6M1181.1 1206.5h2.3M1204.1 1206.5h4.6M1236.3 1206.5h2.3M1240.9 1206.5h4.6M1259.4 1206.5h4.6M1346.8 1206.5h4.6M1408.9 1206.5h2.3M1425 1206.5h4.6M1434.2 1206.5h2.3M1438.8 1206.5h4.6" stroke="#f52815"/><path d="M449.6 1206.5h4.6M488.7 1206.5h2.3M523.2 1206.5h2.3M592.2 1206.5h2.3M700.3 1206.5h2.3M714.1 1206.5h2.3M748.6 1206.5h2.3M822.2 1206.5h4.6M955.7 1206.5h4.6M974.1 1206.5h4.6M999.4 1206.5h2.3M1084.5 1206.5h2.3M1158.1 1206.5h4.6M1333 1206.5h4.6M1392.8 1206.5h4.6" stroke="#ec391f"/><path d="M456.5 1206.5h2.3M477.2 1206.5h4.6M493.3 1206.5h2.3M514 1206.5h4.6M527.8 1206.5h2.3M541.6 1206.5h4.6M564.6 1206.5h4.6M571.5 1206.5h6.9M624.4 1206.5h4.6M652 1206.5h11.5M679.6 1206.5h4.6M1178.8 1206.5h2.3M1383.6 1206.5h6.9M1411.2 1206.5h4.6" stroke="#f92111"/><path d="M463.4 1206.5h2.3M481.8 1206.5h4.6M491 1206.5h2.3M507.1 1206.5h2.3M539.3 1206.5h2.3M555.4 1206.5h2.3M583 1206.5h4.6M633.6 1206.5h4.6M849.9 1206.5h2.3M930.4 1206.5h2.3M962.6 1206.5h4.6M978.7 1206.5h6.9M1008.6 1206.5h2.3M1017.8 1206.5h2.3M1036.2 1206.5h4.6M1077.6 1206.5h2.3M1091.4 1206.5h2.3M1096 1206.5h2.3M1102.9 1206.5h4.6M1123.6 1206.5h2.3M1142 1206.5h2.3M1213.3 1206.5h2.3M1229.4 1206.5h2.3M1238.6 1206.5h2.3M1287 1206.5h4.6M1351.4 1206.5h6.9M1360.6 1206.5h2.3M1369.8 1206.5h4.6M1376.7 1206.5h2.3M1397.4 1206.5h4.6M1406.6 1206.5h2.3M1415.8 1206.5h4.6" stroke="#f32b17"/><path d="M465.7 1206.5h2.3M530.1 1206.5h2.3M638.2 1206.5h4.6M815.3 1206.5h2.3M826.8 1206.5h4.6M847.6 1206.5h2.3M852.2 1206.5h2.3M875.2 1206.5h6.9M928.1 1206.5h2.3M932.7 1206.5h4.6M951.1 1206.5h4.6M969.5 1206.5h4.6M997.1 1206.5h2.3M1015.5 1206.5h2.3M1033.9 1206.5h2.3M1061.5 1206.5h2.3M1075.3 1206.5h2.3M1089.1 1206.5h2.3M1093.7 1206.5h2.3M1116.7 1206.5h4.6M1130.5 1206.5h2.3M1139.7 1206.5h2.3M1144.3 1206.5h6.9M1171.9 1206.5h2.3M1190.3 1206.5h4.6M1197.2 1206.5h6.9M1319.2 1206.5h4.6M1362.9 1206.5h2.3M1374.4 1206.5h2.3" stroke="#f22f19"/><path d="M486.4 1206.5h2.3M518.6 1206.5h4.6M525.5 1206.5h2.3M698 1206.5h2.3M721 1206.5h4.6M757.8 1206.5h4.6M895.9 1206.5h4.6M937.3 1206.5h2.3M1031.6 1206.5h2.3M1040.8 1206.5h2.3M1086.8 1206.5h2.3M1245.5 1206.5h2.3M1296.2 1206.5h4.6M1303.1 1206.5h2.3" stroke="#ea3c21"/><path d="M495.6 1206.5h4.6M589.9 1206.5h2.3M610.6 1206.5h2.3M615.2 1206.5h2.3M665.8 1206.5h4.6M771.6 1206.5h4.6M845.2 1206.5h2.3M863.7 1206.5h4.6M872.9 1206.5h2.3M893.6 1206.5h2.3M909.7 1206.5h2.3M987.9 1206.5h2.3M1001.7 1206.5h4.6M1024.7 1206.5h2.3M1047.7 1206.5h4.6M1056.9 1206.5h4.6M1063.8 1206.5h2.3M1073 1206.5h2.3M1098.3 1206.5h2.3M1107.5 1206.5h2.3M1132.8 1206.5h2.3M1151.2 1206.5h2.3M1165 1206.5h2.3M1194.9 1206.5h2.3M1208.7 1206.5h4.6M1217.9 1206.5h4.6M1227.1 1206.5h2.3M1234 1206.5h2.3M1270.9 1206.5h2.3M1282.4 1206.5h4.6M1291.6 1206.5h2.3M1431.9 1206.5h2.3" stroke="#f0321b"/><path d="M550.8 1206.5h2.3M594.5 1206.5h2.3M612.9 1206.5h2.3M617.5 1206.5h2.3M711.8 1206.5h2.3M732.5 1206.5h2.3M831.4 1206.5h4.6M912 1206.5h2.3M946.5 1206.5h4.6M990.2 1206.5h2.3M1020.1 1206.5h2.3M1027 1206.5h4.6M1070.7 1206.5h2.3M1082.2 1206.5h2.3M1121.3 1206.5h2.3M1162.7 1206.5h2.3M1254.8 1206.5h4.6M1293.9 1206.5h2.3" stroke="#ee351d"/><path d="M730.2 1206.5h2.3" stroke="#c37c5a"/></g><g stroke-width="36"><path d="M238.5 1242h8.6M270.1 1242h4.6M350.6 1242h2.3M394.3 1242h4.6M412.7 1242h2.3M787.7 1242h2.3M836 1242h2.3M976.4 1242h2.3M1022.4 1242h2.3M1139.7 1242h2.3M1250.2 1242h2.3" stroke="#b29381"/><path d="M247.1 1242h2.3M969.5 1242h2.3" stroke="#9bb8bf"/><path d="M249.4 1242h2.3M373.6 1242h2.3M442.6 1242h2.3" stroke="#9db3b7"/><path d="M251.7 1242h2.3M935 1242h4.6" stroke="#91cbdd"/><path d="M254 1242h2.3M332.2 1242h2.3M419.6 1242h2.3" stroke="#8ed0e4"/><path d="M256.3 1242h4.6M309.2 1242h2.3M884.4 1242h2.3M889 1242h2.3" stroke="#ab9b91"/><path d="M260.9 1242h4.6M718.7 1242h2.3M727.9 1242h2.3M732.5 1242h2.3M757.8 1242h2.3M790 1242h2.3M810.7 1242h2.3M863.7 1242h2.3M882.1 1242h2.3M939.6 1242h2.3M946.5 1242h4.6M985.6 1242h2.3M1001.7 1242h4.6M1010.9 1242h4.6M1144.3 1242h2.3M1185.7 1242h4.6M1199.5 1242h2.3M1215.6 1242h4.6M1257.1 1242h2.3" stroke="#ca744a"/><path d="M265.5 1242h4.6M286.2 1242h2.3M313.8 1242h2.3M336.8 1242h2.3M348.3 1242h2.3M415 1242h2.3M799.2 1242h4.6M838.3 1242h2.3M866 1242h2.3M893.6 1242h4.6M1020.1 1242h2.3M1024.7 1242h2.3M1033.9 1242h2.3M1102.9 1242h4.6M1252.5 1242h2.3" stroke="#b58e79"/><path d="M274.7 1242h2.3M316.1 1242h4.6" stroke="#a5a4a1"/><path d="M277 1242h2.3M283.9 1242h2.3M295.4 1242h2.3M375.9 1242h2.3M778.5 1242h2.3M914.3 1242h4.6M974.1 1242h2.3M983.3 1242h2.3M987.9 1242h2.3M1047.7 1242h2.3M1142 1242h2.3" stroke="#af9789"/><path d="M279.3 1242h4.6M288.5 1242h4.6M297.7 1242h4.6M325.3 1242h4.6M341.4 1242h2.3M380.5 1242h2.3M424.2 1242h4.6M698 1242h4.6M714.1 1242h2.3M750.9 1242h2.3M755.5 1242h2.3M776.2 1242h2.3M803.8 1242h4.6M852.2 1242h2.3M1119 1242h2.3M1148.9 1242h2.3M1178.8 1242h2.3M1192.6 1242h2.3M1284.7 1242h2.3" stroke="#c37c5a"/><path d="M293.1 1242h2.3M355.2 1242h2.3M382.8 1242h2.3M417.3 1242h2.3M435.7 1242h4.6M707.2 1242h4.6M716.4 1242h2.3M725.6 1242h2.3M792.3 1242h2.3M808.4 1242h2.3M849.9 1242h2.3M859.1 1242h4.6M898.2 1242h2.3M923.5 1242h4.6M962.6 1242h2.3M992.5 1242h4.6M999.4 1242h2.3M1006.3 1242h2.3M1038.5 1242h6.9M1167.3 1242h4.6M1176.5 1242h2.3M1190.3 1242h2.3M1201.8 1242h2.3M1213.3 1242h2.3M1220.2 1242h2.3M1254.8 1242h2.3M1282.4 1242h2.3" stroke="#c67852"/><path d="M302.3 1242h4.6M339.1 1242h2.3M352.9 1242h2.3M398.9 1242h2.3M403.5 1242h4.6M440.3 1242h2.3M693.4 1242h4.6M702.6 1242h4.6M928.1 1242h4.6M955.7 1242h2.3M1054.6 1242h2.3M1162.7 1242h4.6M1171.9 1242h2.3M1181.1 1242h2.3M1222.5 1242h4.6M1243.2 1242h2.3M1259.4 1242h2.3M1296.2 1242h4.6" stroke="#bc856a"/><path d="M306.9 1242h2.3M357.5 1242h6.9M378.2 1242h2.3M1050 1242h2.3M1264 1242h4.6" stroke="#a8a099"/><path d="M311.5 1242h2.3M371.3 1242h2.3M408.1 1242h4.6M421.9 1242h2.3M428.8 1242h2.3M711.8 1242h2.3M762.4 1242h2.3M767 1242h2.3M794.6 1242h4.6M813 1242h4.6M840.6 1242h4.6M854.5 1242h4.6M872.9 1242h4.6M912 1242h2.3M958 1242h4.6M990.2 1242h2.3M1008.6 1242h2.3M1029.3 1242h4.6M1056.9 1242h4.6M1300.8 1242h2.3" stroke="#c08162"/><path d="M320.7 1242h4.6M385.1 1242h4.6M721 1242h2.3M964.9 1242h4.6" stroke="#a2a9a8"/><path d="M329.9 1242h2.3M369 1242h2.3" stroke="#8cd5ec"/><path d="M334.5 1242h2.3M343.7 1242h4.6M401.2 1242h2.3M744 1242h4.6M771.6 1242h4.6M785.4 1242h2.3M997.1 1242h2.3M1027 1242h2.3M1036.2 1242h2.3M1052.3 1242h2.3M1066.1 1242h4.6M1077.6 1242h2.3M1153.5 1242h4.6M1183.4 1242h2.3M1208.7 1242h4.6M1245.5 1242h4.6" stroke="#b98a71"/><path d="M364.4 1242h2.3M389.7 1242h4.6" stroke="#93c6d5"/><path d="M366.7 1242h2.3" stroke="#98bdc6"/><path d="M431.1 1242h4.6M688.8 1242h4.6M737.1 1242h2.3M831.4 1242h2.3M941.9 1242h4.6M1121.3 1242h4.6M1197.2 1242h2.3" stroke="#d2683b"/><path d="M445 1242h2.3M454.2 1242h2.3M481.8 1242h2.3M486.4 1242h2.3M509.4 1242h4.6M527.8 1242h4.6M534.7 1242h2.3M557.7 1242h2.3M596.8 1242h2.3M645.1 1242h2.3M1307.7 1242h2.3M1436.5 1242h2.3" stroke="#ee351d"/><path d="M447.3 1242h2.3M553.1 1242h2.3M1084.5 1242h4.6M1098.3 1242h4.6M1344.5 1242h2.3M1358.3 1242h2.3M1365.2 1242h4.6M1381.3 1242h2.3" stroke="#e44627"/><path d="M449.6 1242h4.6M523.2 1242h4.6M564.6 1242h4.6M661.2 1242h4.6M1075.3 1242h2.3M1082.2 1242h2.3M1093.7 1242h4.6" stroke="#e14d2b"/><path d="M456.5 1242h2.3M629 1242h4.6M638.2 1242h2.3M1079.9 1242h2.3M1310 1242h2.3M1369.8 1242h4.6" stroke="#df502d"/><path d="M458.8 1242h2.3M484.1 1242h2.3M532.4 1242h2.3M541.6 1242h2.3M560 1242h4.6M589.9 1242h2.3M665.8 1242h4.6M1316.9 1242h2.3M1339.9 1242h4.6M1346.8 1242h9.2M1383.6 1242h4.6M1404.3 1242h2.3" stroke="#f72413"/><path d="M461.1 1242h2.3M491 1242h4.6M497.9 1242h2.3M504.8 1242h4.6M642.8 1242h2.3M670.4 1242h2.3M1305.4 1242h2.3M1408.9 1242h2.3M1427.3 1242h2.3" stroke="#f0321b"/><path d="M463.4 1242h4.6M495.6 1242h2.3M514 1242h2.3M537 1242h4.6M546.2 1242h2.3M569.2 1242h4.6M608.3 1242h2.3M615.2 1242h2.3M679.6 1242h2.3M1321.5 1242h2.3M1333 1242h2.3M1356 1242h2.3M1376.7 1242h4.6M1388.2 1242h4.6M1397.4 1242h2.3M1402 1242h2.3M1415.8 1242h2.3M1420.4 1242h4.6M1438.8 1242h4.6" stroke="#f32b17"/><path d="M468 1242h4.6M502.5 1242h2.3M555.4 1242h2.3M599.1 1242h2.3M619.8 1242h2.3" stroke="#ec391f"/><path d="M472.6 1242h4.6M479.5 1242h2.3M548.5 1242h2.3M583 1242h6.9M592.2 1242h4.6M617.5 1242h2.3M624.4 1242h4.6M647.4 1242h4.6M1312.3 1242h2.3M1319.2 1242h2.3M1328.4 1242h4.6M1337.6 1242h2.3M1418.1 1242h2.3M1431.9 1242h2.3M1443.4 1242h8.6" stroke="#f52815"/><path d="M477.2 1242h2.3M516.3 1242h4.6M610.6 1242h4.6M656.6 1242h4.6M672.7 1242h6.9M681.9 1242h2.3M1314.6 1242h2.3M1323.8 1242h4.6M1335.3 1242h2.3M1360.6 1242h4.6M1374.4 1242h2.3M1399.7 1242h2.3M1411.2 1242h4.6M1425 1242h2.3M1434.2 1242h2.3" stroke="#f22f19"/><path d="M488.7 1242h2.3M543.9 1242h2.3M573.8 1242h4.6M601.4 1242h4.6" stroke="#f92111"/><path d="M500.2 1242h2.3M606 1242h2.3M622.1 1242h2.3M684.2 1242h2.3M1392.8 1242h4.6M1429.6 1242h2.3" stroke="#ea3c21"/><path d="M520.9 1242h2.3M686.5 1242h2.3M1089.1 1242h4.6M1406.6 1242h2.3" stroke="#e83f23"/><path d="M550.8 1242h2.3" stroke="#e64325"/><path d="M578.4 1242h4.6" stroke="#e34a29"/><path d="M633.6 1242h4.6M1206.4 1242h2.3M1231.7 1242h4.6" stroke="#db5731"/><path d="M640.5 1242h2.3M652 1242h4.6M1073 1242h2.3M1107.5 1242h4.6M1204.1 1242h2.3" stroke="#dd542f"/><path d="M723.3 1242h2.3M730.2 1242h2.3M748.6 1242h2.3M753.2 1242h2.3M769.3 1242h2.3M819.9 1242h2.3M877.5 1242h4.6M905.1 1242h6.9M918.9 1242h2.3M932.7 1242h2.3M951.1 1242h4.6M978.7 1242h4.6M1045.4 1242h2.3M1063.8 1242h2.3M1112.1 1242h4.6M1128.2 1242h6.9M1146.6 1242h2.3M1240.9 1242h2.3M1273.2 1242h4.6M1287 1242h2.3M1291.6 1242h4.6" stroke="#cd6f42"/><path d="M734.8 1242h2.3M739.4 1242h4.6M760.1 1242h2.3M764.7 1242h2.3M780.8 1242h4.6M817.6 1242h2.3M824.5 1242h2.3M833.7 1242h2.3M845.2 1242h4.6M868.3 1242h4.6M891.3 1242h2.3M900.5 1242h4.6M921.2 1242h2.3M1015.5 1242h4.6M1061.5 1242h2.3M1070.7 1242h2.3M1151.2 1242h2.3M1194.9 1242h2.3M1227.1 1242h4.6M1261.7 1242h2.3M1268.6 1242h4.6M1277.8 1242h4.6M1289.3 1242h2.3" stroke="#d06b3d"/><path d="M822.2 1242h2.3M886.7 1242h2.3M1158.1 1242h2.3M1174.2 1242h2.3M1236.3 1242h4.6M1303.1 1242h2.3" stroke="#d66137"/><path d="M826.8 1242h4.6M1135.1 1242h4.6M1160.4 1242h2.3" stroke="#d75e35"/><path d="M971.8 1242h2.3" stroke="#d95a33"/><path d="M1116.7 1242h2.3M1125.9 1242h2.3" stroke="#d46539"/></g><g stroke-width="39"><path d="M238.5 1279.5h8.6" stroke="#9bb8bf"/><path d="M247.1 1279.5h2.3M362.1 1279.5h2.3M369 1279.5h2.3" stroke="#a5a4a1"/><path d="M249.4 1279.5h2.3M318.4 1279.5h2.3" stroke="#a8a099"/><path d="M251.7 1279.5h4.6M270.1 1279.5h4.6M290.8 1279.5h2.3M325.3 1279.5h2.3M785.4 1279.5h4.6M831.4 1279.5h2.3M866 1279.5h2.3M895.9 1279.5h4.6M928.1 1279.5h4.6M1020.1 1279.5h2.3M1029.3 1279.5h4.6M1063.8 1279.5h2.3M1070.7 1279.5h2.3M1135.1 1279.5h2.3M1188 1279.5h2.3M1298.5 1279.5h2.3M1323.8 1279.5h2.3" stroke="#bc856a"/><path d="M256.3 1279.5h2.3M396.6 1279.5h2.3M1006.3 1279.5h2.3M1038.5 1279.5h2.3M1059.2 1279.5h2.3M1093.7 1279.5h4.6M1287 1279.5h2.3M1291.6 1279.5h4.6" stroke="#b29381"/><path d="M258.6 1279.5h2.3M267.8 1279.5h2.3M302.3 1279.5h4.6M350.6 1279.5h2.3M382.8 1279.5h4.6M394.3 1279.5h2.3M410.4 1279.5h2.3M440.3 1279.5h2.3M762.4 1279.5h2.3M817.6 1279.5h4.6M909.7 1279.5h4.6M987.9 1279.5h4.6M1008.6 1279.5h2.3M1033.9 1279.5h2.3M1040.8 1279.5h2.3M1047.7 1279.5h2.3M1091.4 1279.5h2.3M1144.3 1279.5h4.6M1176.5 1279.5h2.3M1190.3 1279.5h9.2M1204.1 1279.5h4.6M1238.6 1279.5h2.3M1270.9 1279.5h2.3" stroke="#b58e79"/><path d="M260.9 1279.5h2.3M297.7 1279.5h2.3M334.5 1279.5h2.3M355.2 1279.5h2.3M799.2 1279.5h4.6M891.3 1279.5h2.3M900.5 1279.5h4.6M1056.9 1279.5h2.3M1068.4 1279.5h2.3M1167.3 1279.5h4.6M1183.4 1279.5h2.3M1289.3 1279.5h2.3" stroke="#af9789"/><path d="M263.2 1279.5h2.3M279.3 1279.5h2.3M293.1 1279.5h2.3M306.9 1279.5h2.3M357.5 1279.5h4.6M375.9 1279.5h2.3M412.7 1279.5h4.6M438 1279.5h2.3M727.9 1279.5h2.3M776.2 1279.5h4.6M852.2 1279.5h2.3M870.6 1279.5h2.3M886.7 1279.5h4.6M935 1279.5h2.3M948.8 1279.5h2.3M981 1279.5h2.3M992.5 1279.5h2.3M1052.3 1279.5h2.3M1100.6 1279.5h2.3M1240.9 1279.5h4.6M1280.1 1279.5h2.3M1305.4 1279.5h4.6M1328.4 1279.5h4.6M1337.6 1279.5h4.6" stroke="#c37c5a"/><path d="M265.5 1279.5h2.3M288.5 1279.5h2.3M348.3 1279.5h2.3M380.5 1279.5h2.3M387.4 1279.5h2.3M408.1 1279.5h2.3M442.6 1279.5h2.3M764.7 1279.5h2.3M780.8 1279.5h4.6M808.4 1279.5h4.6M833.7 1279.5h2.3M1022.4 1279.5h2.3M1073 1279.5h2.3M1185.7 1279.5h2.3M1201.8 1279.5h2.3M1208.7 1279.5h4.6M1236.3 1279.5h2.3M1268.6 1279.5h2.3M1282.4 1279.5h4.6M1310 1279.5h2.3" stroke="#b98a71"/><path d="M274.7 1279.5h4.6M295.4 1279.5h2.3M309.2 1279.5h2.3M320.7 1279.5h4.6M341.4 1279.5h4.6M352.9 1279.5h2.3M371.3 1279.5h4.6M378.2 1279.5h2.3M700.3 1279.5h2.3M725.6 1279.5h2.3M849.9 1279.5h2.3M872.9 1279.5h4.6M905.1 1279.5h2.3M932.7 1279.5h2.3M946.5 1279.5h2.3M951.1 1279.5h4.6M967.2 1279.5h2.3M974.1 1279.5h6.9M1084.5 1279.5h4.6M1155.8 1279.5h2.3M1181.1 1279.5h2.3M1277.8 1279.5h2.3M1303.1 1279.5h2.3" stroke="#c67852"/><path d="M281.6 1279.5h2.3M311.5 1279.5h2.3M346 1279.5h2.3M424.2 1279.5h2.3M698 1279.5h2.3M707.2 1279.5h4.6M732.5 1279.5h2.3M769.3 1279.5h2.3M863.7 1279.5h2.3M877.5 1279.5h4.6M907.4 1279.5h2.3M969.5 1279.5h2.3M1043.1 1279.5h4.6M1089.1 1279.5h2.3M1098.3 1279.5h2.3M1102.9 1279.5h2.3M1139.7 1279.5h2.3M1153.5 1279.5h2.3M1217.9 1279.5h4.6M1227.1 1279.5h4.6" stroke="#ca744a"/><path d="M283.9 1279.5h2.3M826.8 1279.5h4.6M1252.5 1279.5h2.3" stroke="#a0aeb0"/><path d="M286.2 1279.5h2.3M313.8 1279.5h2.3M329.9 1279.5h2.3M339.1 1279.5h2.3M398.9 1279.5h4.6M428.8 1279.5h2.3M435.7 1279.5h2.3M840.6 1279.5h4.6M964.9 1279.5h2.3M997.1 1279.5h4.6M1054.6 1279.5h2.3M1061.5 1279.5h2.3M1137.4 1279.5h2.3M1264 1279.5h4.6M1326.1 1279.5h2.3" stroke="#c08162"/><path d="M300 1279.5h2.3M721 1279.5h4.6M734.8 1279.5h6.9M941.9 1279.5h2.3M960.3 1279.5h4.6M983.3 1279.5h2.3M1066.1 1279.5h2.3M1079.9 1279.5h4.6M1119 1279.5h2.3M1312.3 1279.5h2.3" stroke="#d66137"/><path d="M316.1 1279.5h2.3M336.8 1279.5h2.3M1036.2 1279.5h2.3M1075.3 1279.5h4.6M1123.6 1279.5h2.3" stroke="#ab9b91"/><path d="M327.6 1279.5h2.3M1250.2 1279.5h2.3" stroke="#a2a9a8"/><path d="M332.2 1279.5h2.3M403.5 1279.5h4.6M421.9 1279.5h2.3M426.5 1279.5h2.3M704.9 1279.5h2.3M714.1 1279.5h2.3M796.9 1279.5h2.3M806.1 1279.5h2.3M813 1279.5h4.6M845.2 1279.5h4.6M893.6 1279.5h2.3M914.3 1279.5h4.6M925.8 1279.5h2.3M955.7 1279.5h4.6M1015.5 1279.5h2.3M1105.2 1279.5h4.6M1125.9 1279.5h4.6M1142 1279.5h2.3M1158.1 1279.5h9.2M1213.3 1279.5h4.6M1234 1279.5h2.3" stroke="#cd6f42"/><path d="M364.4 1279.5h4.6M389.7 1279.5h2.3" stroke="#93c6d5"/><path d="M392 1279.5h2.3" stroke="#91cbdd"/><path d="M417.3 1279.5h2.3M658.9 1279.5h2.3M688.8 1279.5h4.6M711.8 1279.5h2.3M748.6 1279.5h6.9M790 1279.5h2.3M822.2 1279.5h2.3M918.9 1279.5h2.3M994.8 1279.5h2.3M1001.7 1279.5h2.3M1171.9 1279.5h2.3M1231.7 1279.5h2.3M1333 1279.5h4.6" stroke="#d2683b"/><path d="M419.6 1279.5h2.3M431.1 1279.5h4.6M525.5 1279.5h2.3M656.6 1279.5h2.3M695.7 1279.5h2.3M702.6 1279.5h2.3M773.9 1279.5h2.3M792.3 1279.5h2.3M882.1 1279.5h4.6M971.8 1279.5h2.3M1273.2 1279.5h4.6M1342.2 1279.5h4.6" stroke="#d46539"/><path d="M445 1279.5h4.6M500.2 1279.5h2.3M504.8 1279.5h2.3M527.8 1279.5h2.3M562.3 1279.5h2.3M601.4 1279.5h2.3M608.3 1279.5h2.3M626.7 1279.5h4.6M635.9 1279.5h2.3M654.3 1279.5h2.3M661.2 1279.5h4.6M670.4 1279.5h4.6M681.9 1279.5h2.3M1349.1 1279.5h4.6M1362.9 1279.5h2.3M1376.7 1279.5h6.9" stroke="#e83f23"/><path d="M449.6 1279.5h2.3" stroke="#f52815"/><path d="M451.9 1279.5h2.3M477.2 1279.5h4.6M532.4 1279.5h2.3M665.8 1279.5h4.6" stroke="#f32b17"/><path d="M454.2 1279.5h2.3M767 1279.5h2.3M868.3 1279.5h2.3M1316.9 1279.5h2.3" stroke="#df502d"/><path d="M456.5 1279.5h2.3M491 1279.5h4.6M520.9 1279.5h2.3M553.1 1279.5h2.3M617.5 1279.5h2.3M746.3 1279.5h2.3M944.2 1279.5h2.3M1130.5 1279.5h4.6M1319.2 1279.5h4.6" stroke="#d95a33"/><path d="M458.8 1279.5h4.6M474.9 1279.5h2.3M495.6 1279.5h4.6M502.5 1279.5h2.3M509.4 1279.5h2.3M523.2 1279.5h2.3M530.1 1279.5h2.3M541.6 1279.5h2.3M571.5 1279.5h2.3M585.3 1279.5h2.3M638.2 1279.5h4.6M652 1279.5h2.3M679.6 1279.5h2.3M684.2 1279.5h4.6M1254.8 1279.5h4.6M1374.4 1279.5h2.3M1390.5 1279.5h2.3M1402 1279.5h2.3M1411.2 1279.5h2.3M1429.6 1279.5h2.3" stroke="#e64325"/><path d="M463.4 1279.5h2.3M486.4 1279.5h4.6M507.1 1279.5h2.3M511.7 1279.5h2.3M546.2 1279.5h4.6M557.7 1279.5h4.6M573.8 1279.5h2.3M587.6 1279.5h4.6M603.7 1279.5h2.3M624.4 1279.5h2.3M633.6 1279.5h2.3M1346.8 1279.5h2.3M1353.7 1279.5h2.3M1392.8 1279.5h2.3M1422.7 1279.5h2.3M1441.1 1279.5h2.3" stroke="#ea3c21"/><path d="M465.7 1279.5h2.3M472.6 1279.5h2.3M578.4 1279.5h4.6M606 1279.5h2.3M622.1 1279.5h2.3M645.1 1279.5h2.3M716.4 1279.5h4.6M1397.4 1279.5h4.6M1413.5 1279.5h2.3" stroke="#e44627"/><path d="M468 1279.5h2.3M555.4 1279.5h2.3M576.1 1279.5h2.3M583 1279.5h2.3M619.8 1279.5h2.3M1360.6 1279.5h2.3M1367.5 1279.5h2.3M1406.6 1279.5h2.3M1420.4 1279.5h2.3M1431.9 1279.5h2.3M1438.8 1279.5h2.3M1443.4 1279.5h2.3" stroke="#ec391f"/><path d="M470.3 1279.5h2.3M481.8 1279.5h4.6M543.9 1279.5h2.3M594.5 1279.5h2.3M612.9 1279.5h2.3M675 1279.5h2.3M1365.2 1279.5h2.3M1383.6 1279.5h2.3M1408.9 1279.5h2.3M1434.2 1279.5h4.6" stroke="#ee351d"/><path d="M514 1279.5h2.3M592.2 1279.5h2.3M596.8 1279.5h2.3M677.3 1279.5h2.3M1385.9 1279.5h2.3M1415.8 1279.5h4.6M1425 1279.5h4.6" stroke="#f0321b"/><path d="M516.3 1279.5h2.3M534.7 1279.5h2.3M564.6 1279.5h4.6M599.1 1279.5h2.3" stroke="#f22f19"/><path d="M518.6 1279.5h2.3M615.2 1279.5h2.3M803.8 1279.5h2.3M1116.7 1279.5h2.3M1296.2 1279.5h2.3M1356 1279.5h4.6M1369.8 1279.5h4.6" stroke="#db5731"/><path d="M537 1279.5h2.3M610.6 1279.5h2.3M642.8 1279.5h2.3M757.8 1279.5h4.6M1388.2 1279.5h2.3M1404.3 1279.5h2.3" stroke="#e34a29"/><path d="M539.3 1279.5h2.3M1247.9 1279.5h2.3" stroke="#e14d2b"/><path d="M550.8 1279.5h2.3M647.4 1279.5h4.6M693.4 1279.5h2.3M741.7 1279.5h4.6M854.5 1279.5h4.6M937.3 1279.5h4.6M985.6 1279.5h2.3M1010.9 1279.5h4.6M1112.1 1279.5h4.6M1121.3 1279.5h2.3M1245.5 1279.5h2.3M1259.4 1279.5h4.6M1445.7 1279.5h6.3" stroke="#d75e35"/><path d="M569.2 1279.5h2.3M631.3 1279.5h2.3M730.2 1279.5h2.3M1178.8 1279.5h2.3M1222.5 1279.5h2.3M1314.6 1279.5h2.3M1395.1 1279.5h2.3" stroke="#dd542f"/><path d="M755.5 1279.5h2.3M771.6 1279.5h2.3M794.6 1279.5h2.3M824.5 1279.5h2.3M836 1279.5h4.6M859.1 1279.5h4.6M921.2 1279.5h4.6M1004 1279.5h2.3M1017.8 1279.5h2.3M1024.7 1279.5h4.6M1050 1279.5h2.3M1109.8 1279.5h2.3M1148.9 1279.5h4.6M1174.2 1279.5h2.3M1199.5 1279.5h2.3M1224.8 1279.5h2.3M1300.8 1279.5h2.3" stroke="#d06b3d"/></g></g></g>
<text x="238.5" y="867.1" font-size="25.6" text-anchor="end">Early FGC-6W</text>
<text x="238.5" y="899.8" font-size="25.6" text-anchor="end">Early FGC-7W</text>
<text x="238.5" y="936.5" font-size="25.6" text-anchor="end">Late FGC-17W</text>
<text x="238.5" y="972" font-size="25.6" text-anchor="end">Early FGC-21W</text>
<text x="238.5" y="1007.2" font-size="25.6" text-anchor="end">Late FGC-21W</text>
<text x="238.5" y="1041" font-size="25.6" text-anchor="end">Early FGC</text>
<text x="238.5" y="1074.6" font-size="25.6" text-anchor="end">Late FGC</text>
<text x="238.5" y="1109.3" font-size="25.6" text-anchor="end">Early FGC</text>
<text x="238.5" y="1145.1" font-size="25.6" text-anchor="end">Late FGC</text>
<text x="238.5" y="1179.9" font-size="25.6" text-anchor="end">Sperm</text>
<text x="238.5" y="1215.8" font-size="25.6" text-anchor="end">MII Oocyte</text>
<text x="238.5" y="1249.6" font-size="25.6" text-anchor="end">8-cell</text>
<text x="238.5" y="1285.4" font-size="25.6" text-anchor="end">ICM</text>
<g fill="#231815">
<rect x="45.4" y="848.5" width="3.5" height="159.5"/>
<rect x="110.2" y="1024.3" width="3.5" height="50"/>
<rect x="110.2" y="1090.5" width="3.5" height="55"/>
</g>
<text font-size="20.8" font-weight="bold" transform="translate(37 968.8) rotate(-90)">CtrlM<tspan font-size="21" dy="-15.5">a</tspan></text>
<text x="14.5" y="1062" font-size="24.8" font-weight="bold">CtrlM<tspan font-size="24" dy="-18.5">b</tspan></text>
<text x="69.5" y="1126" font-size="24.8" font-weight="bold">KS</text>
<text font-size="25.3" transform="translate(348.5 797) rotate(-45)">Cluster 1</text>
<text font-size="25.3" transform="translate(562.5 797) rotate(-45)">Cluster 2</text>
<text font-size="25.3" transform="translate(755.5 797) rotate(-45)">Cluster 3</text>
<text font-size="25.3" transform="translate(937.5 797) rotate(-45)">Cluster 4</text>
<text font-size="25.3" transform="translate(1215.5 797) rotate(-45)">Cluster 5</text>
<text font-size="25.3" transform="translate(1390.5 797) rotate(-45)">Cluster 6</text>
<defs><linearGradient id="cbC" x1="0" x2="1" y1="0" y2="0"><stop offset="0.000" stop-color="#8cd5ec"/><stop offset="0.233" stop-color="#a6a29d"/><stop offset="0.500" stop-color="#cf6d3e"/><stop offset="1.000" stop-color="#f92111"/></linearGradient></defs>
<rect x="1142.3" y="1348" width="305.9" height="20" fill="url(#cbC)"/>
<text x="1289" y="1337.6" font-size="24.3" text-anchor="middle">DNA methylation (%)</text>
<text x="1142.3" y="1395.4" font-size="27.5" text-anchor="middle">0</text>
<text x="1210.2" y="1395.4" font-size="27.5" text-anchor="middle">20</text>
<text x="1278.2" y="1395.4" font-size="27.5" text-anchor="middle">40</text>
<text x="1346.2" y="1395.4" font-size="27.5" text-anchor="middle">60</text>
<text x="1414.1" y="1395.4" font-size="27.5" text-anchor="middle">80</text>
<rect x="1660.3" y="740.8" width="254.7" height="272.8" fill="none" stroke="#2a2a2a" stroke-width="1.5"/>
<path d="M1653.8 752.7H1660.3M1653.8 814.9H1660.3M1653.8 877H1660.3M1653.8 939.1H1660.3M1653.8 1001.3H1660.3M1729.6 1013.6V1019.6M1845.7 1013.6V1019.6" fill="none" stroke="#2a2a2a" stroke-width="1.5"/>
<text x="1644.5" y="762.3" font-size="27.5" text-anchor="end" letter-spacing="-1.6">10</text>
<text x="1644.5" y="824.5" font-size="27.5" text-anchor="end" letter-spacing="-1.6">7.5</text>
<text x="1644.5" y="886.6" font-size="27.5" text-anchor="end" letter-spacing="-1.6">5</text>
<text x="1644.5" y="948.7" font-size="27.5" text-anchor="end" letter-spacing="-1.6">2.5</text>
<text x="1644.5" y="1010.9" font-size="27.5" text-anchor="end" letter-spacing="-1.6">0</text>
<text x="1794" y="732.2" font-size="25.4" text-anchor="middle" font-style="italic">TRIM28</text>
<text x="1722.4" y="1048.3" font-size="25.5" text-anchor="middle">CtrlM</text>
<text x="1846.8" y="1048.3" font-size="25.5" text-anchor="middle">KS</text>
<rect x="1661.2" y="1098.1" width="254.8" height="272.8" fill="none" stroke="#2a2a2a" stroke-width="1.5"/>
<path d="M1654.7 1110H1661.2M1654.7 1172.2H1661.2M1654.7 1234.3H1661.2M1654.7 1296.5H1661.2M1654.7 1358.6H1661.2M1730.2 1370.9V1376.9M1847 1370.9V1376.9" fill="none" stroke="#2a2a2a" stroke-width="1.5"/>
<text x="1645.4" y="1119.6" font-size="27.5" text-anchor="end" letter-spacing="-1.6">10</text>
<text x="1645.4" y="1181.8" font-size="27.5" text-anchor="end" letter-spacing="-1.6">7.5</text>
<text x="1645.4" y="1243.9" font-size="27.5" text-anchor="end" letter-spacing="-1.6">5</text>
<text x="1645.4" y="1306.1" font-size="27.5" text-anchor="end" letter-spacing="-1.6">2.5</text>
<text x="1645.4" y="1368.2" font-size="27.5" text-anchor="end" letter-spacing="-1.6">0</text>
<text x="1794" y="1089.1" font-size="25.4" text-anchor="middle" font-style="italic">ZNF263</text>
<text x="1723" y="1405.2" font-size="25.5" text-anchor="middle">CtrlM</text>
<text x="1848.1" y="1405.2" font-size="25.5" text-anchor="middle">KS</text>
<path d="M1740.1 756.3C1742.67 758.78 1750.6 766.25 1755.5 771.2C1760.4 776.15 1766.48 782.03 1769.5 786C1772.52 789.97 1772.7 792.8 1773.6 795C1774.5 797.2 1774.82 797.7 1774.9 799.2C1774.98 800.7 1774.65 802.37 1774.1 804C1773.55 805.63 1773.25 805.97 1771.6 809C1769.95 812.03 1766.4 817.8 1764.2 822.2C1762 826.6 1760.73 831.55 1758.4 835.4C1756.07 839.25 1753.22 841.73 1750.2 845.3C1747.18 848.87 1743.07 852.68 1740.3 856.8C1737.53 860.92 1735.13 865.07 1733.6 870C1732.07 874.93 1731.67 879.73 1731.1 886.4C1730.53 893.07 1730.35 894.9 1730.2 910C1730.05 925.1 1730.1 964 1730.2 977C1730.3 990 1730.47 985 1730.8 988C1731.13 991 1731.77 992.75 1732.2 995C1732.63 997.25 1733.2 1000.42 1733.4 1001.5L1725.8 1001.5C1726 1000.42 1726.57 997.25 1727 995C1727.43 992.75 1728.07 991 1728.4 988C1728.73 985 1728.9 990 1729 977C1729.1 964 1729.15 925.1 1729 910C1728.85 894.9 1728.67 893.07 1728.1 886.4C1727.53 879.73 1727.13 874.93 1725.6 870C1724.07 865.07 1721.67 860.92 1718.9 856.8C1716.13 852.68 1712.02 848.87 1709 845.3C1705.98 841.73 1703.13 839.25 1700.8 835.4C1698.47 831.55 1697.2 826.6 1695 822.2C1692.8 817.8 1689.25 812.03 1687.6 809C1685.95 805.97 1685.65 805.63 1685.1 804C1684.55 802.37 1684.22 800.7 1684.3 799.2C1684.38 797.7 1684.7 797.2 1685.6 795C1686.5 792.8 1686.68 789.97 1689.7 786C1692.72 782.03 1698.8 776.15 1703.7 771.2C1708.6 766.25 1716.53 758.78 1719.1 756.3Z" fill="#57bec0" stroke="#000" stroke-width="1.5" stroke-linejoin="round"/>
<path d="M1873.7 752.6C1875.37 753 1880.53 753.83 1883.7 755C1886.87 756.17 1889.77 757.73 1892.7 759.6C1895.63 761.47 1899.38 763.87 1901.3 766.2C1903.22 768.53 1904.33 771.13 1904.2 773.6C1904.07 776.07 1902.92 778.38 1900.5 781C1898.08 783.62 1893.62 786.27 1889.7 789.3C1885.78 792.33 1880.22 795.37 1877 799.2C1873.78 803.03 1872.6 807.92 1870.4 812.3C1868.2 816.68 1866.27 821.1 1863.8 825.5C1861.33 829.9 1857.87 834.32 1855.6 838.7C1853.33 843.08 1851.58 847.42 1850.2 851.8C1848.82 856.18 1847.95 860.3 1847.3 865C1846.65 869.7 1846.47 873.55 1846.3 880C1846.13 886.45 1846.3 899.75 1846.3 903.7L1845.1 903.7C1845.1 899.75 1845.27 886.45 1845.1 880C1844.93 873.55 1844.75 869.7 1844.1 865C1843.45 860.3 1842.58 856.18 1841.2 851.8C1839.82 847.42 1838.07 843.08 1835.8 838.7C1833.53 834.32 1830.07 829.9 1827.6 825.5C1825.13 821.1 1823.2 816.68 1821 812.3C1818.8 807.92 1817.62 803.03 1814.4 799.2C1811.18 795.37 1805.62 792.33 1801.7 789.3C1797.78 786.27 1793.32 783.62 1790.9 781C1788.48 778.38 1787.33 776.07 1787.2 773.6C1787.07 771.13 1788.18 768.53 1790.1 766.2C1792.02 763.87 1795.77 761.47 1798.7 759.6C1801.63 757.73 1804.53 756.17 1807.7 755C1810.87 753.83 1816.03 753 1817.7 752.6Z" fill="#dcba30" stroke="#000" stroke-width="1.5" stroke-linejoin="round"/>
<path d="M1740.2 1189C1741.75 1191.42 1746.63 1198.33 1749.5 1203.5C1752.37 1208.67 1755.68 1214.52 1757.4 1220C1759.12 1225.48 1759.8 1230.92 1759.8 1236.4C1759.8 1241.88 1758.77 1247.4 1757.4 1252.9C1756.03 1258.4 1753.53 1263.92 1751.6 1269.4C1749.67 1274.88 1747.03 1280.32 1745.8 1285.8C1744.57 1291.28 1744.05 1297.35 1744.2 1302.3C1744.35 1307.25 1744.92 1311.38 1746.7 1315.5C1748.48 1319.62 1751.62 1323.43 1754.9 1327C1758.18 1330.57 1762.28 1333.62 1766.4 1336.9C1770.52 1340.18 1776.23 1343.97 1779.6 1346.7C1782.97 1349.43 1785.08 1351.32 1786.6 1353.3C1788.12 1355.28 1788.35 1357.72 1788.7 1358.6L1671.7 1358.6C1672.05 1357.72 1672.28 1355.28 1673.8 1353.3C1675.32 1351.32 1677.43 1349.43 1680.8 1346.7C1684.17 1343.97 1689.88 1340.18 1694 1336.9C1698.12 1333.62 1702.22 1330.57 1705.5 1327C1708.78 1323.43 1711.92 1319.62 1713.7 1315.5C1715.48 1311.38 1716.05 1307.25 1716.2 1302.3C1716.35 1297.35 1715.83 1291.28 1714.6 1285.8C1713.37 1280.32 1710.73 1274.88 1708.8 1269.4C1706.87 1263.92 1704.37 1258.4 1703 1252.9C1701.63 1247.4 1700.6 1241.88 1700.6 1236.4C1700.6 1230.92 1701.28 1225.48 1703 1220C1704.72 1214.52 1708.03 1208.67 1710.9 1203.5C1713.77 1198.33 1718.65 1191.42 1720.2 1189Z" fill="#57bec0" stroke="#000" stroke-width="1.5" stroke-linejoin="round"/>
<path d="M1851.5 1147.5C1852.47 1148.87 1853.8 1152.13 1857.3 1155.7C1860.8 1159.27 1867.5 1164.52 1872.5 1168.9C1877.5 1173.28 1883.45 1177.6 1887.3 1182C1891.15 1186.4 1893.85 1191.47 1895.6 1195.3C1897.35 1199.13 1898.15 1201.17 1897.8 1205C1897.45 1208.83 1895.8 1213.07 1893.5 1218.3C1891.2 1223.53 1887.08 1230.63 1884 1236.4C1880.92 1242.17 1878.28 1247.4 1875 1252.9C1871.72 1258.4 1867.47 1263.92 1864.3 1269.4C1861.13 1274.88 1858.15 1280.32 1856 1285.8C1853.85 1291.28 1852.47 1297.35 1851.4 1302.3C1850.33 1307.25 1849.87 1312.22 1849.6 1315.5C1849.33 1318.78 1849.33 1319.53 1849.8 1322C1850.27 1324.47 1850.47 1327.27 1852.4 1330.3C1854.33 1333.33 1858.05 1336.92 1861.4 1340.2C1864.75 1343.48 1869.98 1347.53 1872.5 1350C1875.02 1352.47 1875.6 1353.57 1876.5 1355C1877.4 1356.43 1877.67 1358 1877.9 1358.6L1816.1 1358.6C1816.33 1358 1816.6 1356.43 1817.5 1355C1818.4 1353.57 1818.98 1352.47 1821.5 1350C1824.02 1347.53 1829.25 1343.48 1832.6 1340.2C1835.95 1336.92 1839.67 1333.33 1841.6 1330.3C1843.53 1327.27 1843.73 1324.47 1844.2 1322C1844.67 1319.53 1844.67 1318.78 1844.4 1315.5C1844.13 1312.22 1843.67 1307.25 1842.6 1302.3C1841.53 1297.35 1840.15 1291.28 1838 1285.8C1835.85 1280.32 1832.87 1274.88 1829.7 1269.4C1826.53 1263.92 1822.28 1258.4 1819 1252.9C1815.72 1247.4 1813.08 1242.17 1810 1236.4C1806.92 1230.63 1802.8 1223.53 1800.5 1218.3C1798.2 1213.07 1796.55 1208.83 1796.2 1205C1795.85 1201.17 1796.65 1199.13 1798.4 1195.3C1800.15 1191.47 1802.85 1186.4 1806.7 1182C1810.55 1177.6 1816.5 1173.28 1821.5 1168.9C1826.5 1164.52 1833.2 1159.27 1836.7 1155.7C1840.2 1152.13 1841.53 1148.87 1842.5 1147.5Z" fill="#dcba30" stroke="#000" stroke-width="1.5" stroke-linejoin="round"/>
<text font-size="29" text-anchor="middle" transform="translate(1575 1039.5) rotate(-90)">Expression level (log<tspan font-size="19" dy="6">2</tspan><tspan dy="-6">[TPM+1])</tspan></text>
<rect x="1974.6" y="706.7" width="32" height="31.3" fill="#57bec0" stroke="#000" stroke-width="1.5"/>
<rect x="1974.6" y="755.3" width="32" height="31.3" fill="#dcba30" stroke="#000" stroke-width="1.5"/>
<text x="2016.5" y="730.5" font-size="25.6">CtrlM</text>
<text x="2019" y="782.3" font-size="25">KS</text>
<g><rect x="44.6" y="1498.2" width="1007.4" height="72" fill="#d8e0f1"/><rect x="44.6" y="1498.2" width="127.7" height="419" fill="#d8e0f1"/><path d="M44.6 1497.2V1918.2M172.3 1497.2V1918.2M474.3 1497.2V1918.2M609.8 1497.2V1918.2M735.6 1497.2V1918.2M903.2 1497.2V1918.2M1052 1497.2V1918.2M43.6 1498.2H1053M43.6 1570.2H1053M43.6 1634.9H1053M43.6 1711.5H1053M43.6 1777.1H1053M43.6 1836.3H1053M43.6 1917.2H1053" fill="none" stroke="#222" stroke-width="1.7"/></g>
<g><rect x="1115.1" y="1498.5" width="1006.5" height="72.1" fill="#d8e0f1"/><rect x="1115.1" y="1498.5" width="127" height="419.5" fill="#d8e0f1"/><path d="M1115.1 1497.5V1919M1242.1 1497.5V1919M1544.5 1497.5V1919M1679.4 1497.5V1919M1805.5 1497.5V1919M1973.1 1497.5V1919M2121.6 1497.5V1919M1114.1 1498.5H2122.6M1114.1 1570.6H2122.6M1114.1 1635.3H2122.6M1114.1 1712.1H2122.6M1114.1 1777.6H2122.6M1114.1 1836.8H2122.6M1114.1 1918H2122.6" fill="none" stroke="#222" stroke-width="1.7"/></g>
<text x="120.3" y="1540.6" font-size="25" text-anchor="middle">Rank</text>
<text x="334" y="1540.6" font-size="25" text-anchor="middle" textLength="51.5" lengthAdjust="spacingAndGlyphs">Motif</text>
<text x="543.5" y="1540" font-size="25" text-anchor="middle"><tspan font-style="italic">P</tspan>-value</text>
<text x="671.9" y="1529.8" font-size="25" text-anchor="middle">% of</text>
<text x="676.8" y="1550.1" font-size="25" text-anchor="middle">Targets</text>
<text x="811.2" y="1529.8" font-size="25" text-anchor="middle">% of</text>
<text x="824.7" y="1550.1" font-size="25" text-anchor="middle">Background</text>
<text x="980.2" y="1540" font-size="25" text-anchor="middle">Best Match</text>
<text x="112.2" y="1609.4" font-size="25" text-anchor="middle">1</text>
<text x="112.2" y="1679.6" font-size="25" text-anchor="middle">2</text>
<text x="112.2" y="1750" font-size="25" text-anchor="middle">3</text>
<text x="112.2" y="1812.9" font-size="25" text-anchor="middle">4</text>
<text x="112.2" y="1883.5" font-size="25" text-anchor="middle">5</text>
<text x="541.5" y="1610" font-size="25" text-anchor="middle" textLength="117" lengthAdjust="spacingAndGlyphs">1.00E-198</text>
<text x="680" y="1610" font-size="25" text-anchor="middle">94.50%</text>
<text x="824" y="1610" font-size="25" text-anchor="middle">7.20%</text>
<text x="976" y="1608.5" font-size="25" text-anchor="middle">Smad4</text>
<text x="541.5" y="1681.4" font-size="25" text-anchor="middle" textLength="117" lengthAdjust="spacingAndGlyphs">1.00E-163</text>
<text x="680" y="1679.3" font-size="25" text-anchor="middle">82.50%</text>
<text x="824" y="1679.3" font-size="25" text-anchor="middle">6.01%</text>
<text x="976" y="1679.3" font-size="25" text-anchor="middle">YY2</text>
<text x="541.5" y="1752.2" font-size="25" text-anchor="middle" textLength="117" lengthAdjust="spacingAndGlyphs">1.00E-148</text>
<text x="680" y="1749.7" font-size="25" text-anchor="middle">73.50%</text>
<text x="824" y="1749.7" font-size="25" text-anchor="middle">4.59%</text>
<text x="978" y="1749.7" font-size="25" text-anchor="middle" font-weight="bold">ZNF263</text>
<text x="541.5" y="1814.6" font-size="25" text-anchor="middle" textLength="117" lengthAdjust="spacingAndGlyphs">1.00E-146</text>
<text x="680" y="1812" font-size="25" text-anchor="middle">75.00%</text>
<text x="824" y="1812" font-size="25" text-anchor="middle">5.20%</text>
<text x="978.4" y="1812" font-size="25" text-anchor="middle" textLength="112.5" lengthAdjust="spacingAndGlyphs">ZKSCAN5</text>
<text x="541.5" y="1885" font-size="25" text-anchor="middle" textLength="117" lengthAdjust="spacingAndGlyphs">1.00E-143</text>
<text x="680" y="1882.9" font-size="25" text-anchor="middle">74.50%</text>
<text x="824" y="1882.9" font-size="25" text-anchor="middle">5.24%</text>
<text x="976" y="1882.9" font-size="25" text-anchor="middle">MED1</text>
<g font-size="40" font-weight="bold" stroke-width="1.1" stroke-linejoin="round"><text transform="matrix(0.710 0 0 1.085 222.08 1614.25)" fill="#46d62a" stroke="#46d62a">A</text><text transform="matrix(0.706 0 0 0.298 221.63 1623.32)" fill="#e8a52e" stroke="#e8a52e">G</text><text transform="matrix(0.728 0 0 1.353 242.04 1622.33)" fill="#2519ea" stroke="#2519ea">C</text><text transform="matrix(0.728 0 0 1.103 262.47 1615.20)" fill="#2519ea" stroke="#2519ea">C</text><text transform="matrix(0.804 0 0 0.257 263.34 1623.46)" fill="#e1241b" stroke="#e1241b">T</text><text transform="matrix(0.728 0 0 1.353 282.90 1622.33)" fill="#2519ea" stroke="#2519ea">C</text><text transform="matrix(0.728 0 0 1.238 303.33 1619.05)" fill="#2519ea" stroke="#2519ea">C</text><text transform="matrix(0.804 0 0 0.118 304.20 1623.53)" fill="#e1241b" stroke="#e1241b">T</text><text transform="matrix(0.706 0 0 1.238 323.78 1619.05)" fill="#e8a52e" stroke="#e8a52e">G</text><text transform="matrix(0.710 0 0 0.118 324.23 1623.53)" fill="#46d62a" stroke="#46d62a">A</text><text transform="matrix(0.804 0 0 1.391 345.06 1622.84)" fill="#e1241b" stroke="#e1241b">T</text><text transform="matrix(0.728 0 0 1.353 364.62 1622.33)" fill="#2519ea" stroke="#2519ea">C</text><text transform="matrix(0.804 0 0 1.252 385.92 1618.93)" fill="#e1241b" stroke="#e1241b">T</text><text transform="matrix(0.728 0 0 0.135 385.05 1623.47)" fill="#2519ea" stroke="#2519ea">C</text><text transform="matrix(0.706 0 0 1.103 405.50 1615.20)" fill="#e8a52e" stroke="#e8a52e">G</text><text transform="matrix(0.728 0 0 0.250 405.48 1623.36)" fill="#2519ea" stroke="#2519ea">C</text></g>
<g font-size="40" font-weight="bold" stroke-width="1.1" stroke-linejoin="round"><text transform="matrix(0.727 0 0 1.353 199.11 1692.23)" fill="#2519ea" stroke="#2519ea">C</text><text transform="matrix(0.727 0 0 1.353 219.52 1692.23)" fill="#2519ea" stroke="#2519ea">C</text><text transform="matrix(0.727 0 0 0.960 239.94 1681.05)" fill="#2519ea" stroke="#2519ea">C</text><text transform="matrix(0.804 0 0 0.327 240.81 1691.13)" fill="#e1241b" stroke="#e1241b">T</text><text transform="matrix(0.709 0 0 0.076 240.42 1693.46)" fill="#46d62a" stroke="#46d62a">A</text><text transform="matrix(0.705 0 0 0.683 260.38 1673.16)" fill="#e8a52e" stroke="#e8a52e">G</text><text transform="matrix(0.709 0 0 0.688 260.83 1693.12)" fill="#46d62a" stroke="#46d62a">A</text><text transform="matrix(0.705 0 0 1.353 280.80 1692.23)" fill="#e8a52e" stroke="#e8a52e">G</text><text transform="matrix(0.727 0 0 1.353 301.19 1692.23)" fill="#2519ea" stroke="#2519ea">C</text><text transform="matrix(0.727 0 0 0.960 321.61 1681.05)" fill="#2519ea" stroke="#2519ea">C</text><text transform="matrix(0.804 0 0 0.209 322.48 1687.81)" fill="#e1241b" stroke="#e1241b">T</text><text transform="matrix(0.709 0 0 0.195 322.08 1693.39)" fill="#46d62a" stroke="#46d62a">A</text><text transform="matrix(0.705 0 0 1.028 342.05 1682.98)" fill="#e8a52e" stroke="#e8a52e">G</text><text transform="matrix(0.709 0 0 0.334 342.50 1693.32)" fill="#46d62a" stroke="#46d62a">A</text><text transform="matrix(0.727 0 0 0.960 362.44 1681.05)" fill="#2519ea" stroke="#2519ea">C</text><text transform="matrix(0.709 0 0 0.403 362.92 1693.28)" fill="#46d62a" stroke="#46d62a">A</text><text transform="matrix(0.727 0 0 1.109 382.86 1685.29)" fill="#2519ea" stroke="#2519ea">C</text><text transform="matrix(0.705 0 0 0.244 382.88 1693.27)" fill="#e8a52e" stroke="#e8a52e">G</text><text transform="matrix(0.709 0 0 1.085 403.75 1684.15)" fill="#46d62a" stroke="#46d62a">A</text><text transform="matrix(0.727 0 0 0.298 403.27 1693.22)" fill="#2519ea" stroke="#2519ea">C</text><text transform="matrix(0.727 0 0 0.893 423.69 1679.13)" fill="#2519ea" stroke="#2519ea">C</text><text transform="matrix(0.804 0 0 0.375 424.56 1690.51)" fill="#e1241b" stroke="#e1241b">T</text><text transform="matrix(0.709 0 0 0.097 424.17 1693.45)" fill="#46d62a" stroke="#46d62a">A</text></g>
<g font-size="40" font-weight="bold" stroke-width="1.1" stroke-linejoin="round"><text transform="matrix(0.727 0 0 1.339 221.41 1762.54)" fill="#2519ea" stroke="#2519ea">C</text><text transform="matrix(0.803 0 0 1.377 242.69 1763.04)" fill="#e1241b" stroke="#e1241b">T</text><text transform="matrix(0.727 0 0 1.339 262.23 1762.54)" fill="#2519ea" stroke="#2519ea">C</text><text transform="matrix(0.727 0 0 1.259 282.64 1760.25)" fill="#2519ea" stroke="#2519ea">C</text><text transform="matrix(0.709 0 0 0.083 283.11 1763.75)" fill="#46d62a" stroke="#46d62a">A</text><text transform="matrix(0.803 0 0 1.294 303.92 1760.72)" fill="#e1241b" stroke="#e1241b">T</text><text transform="matrix(0.705 0 0 0.080 303.07 1763.72)" fill="#e8a52e" stroke="#e8a52e">G</text><text transform="matrix(0.727 0 0 1.339 323.46 1762.54)" fill="#2519ea" stroke="#2519ea">C</text><text transform="matrix(0.709 0 0 1.377 344.34 1763.04)" fill="#46d62a" stroke="#46d62a">A</text><text transform="matrix(0.727 0 0 1.259 364.28 1760.25)" fill="#2519ea" stroke="#2519ea">C</text><text transform="matrix(0.705 0 0 0.080 364.30 1763.72)" fill="#e8a52e" stroke="#e8a52e">G</text><text transform="matrix(0.709 0 0 1.129 385.16 1756.09)" fill="#46d62a" stroke="#46d62a">A</text><text transform="matrix(0.803 0 0 0.124 385.56 1760.19)" fill="#e1241b" stroke="#e1241b">T</text><text transform="matrix(0.705 0 0 0.121 384.71 1763.69)" fill="#e8a52e" stroke="#e8a52e">G</text><text transform="matrix(0.803 0 0 1.377 405.97 1763.04)" fill="#e1241b" stroke="#e1241b">T</text></g>
<g font-size="40" font-weight="bold" stroke-width="1.1" stroke-linejoin="round"><text transform="matrix(0.802 0 0 1.370 201.38 1825.25)" fill="#e1241b" stroke="#e1241b">T</text><text transform="matrix(0.726 0 0 0.933 220.89 1813.36)" fill="#2519ea" stroke="#2519ea">C</text><text transform="matrix(0.704 0 0 0.200 220.92 1819.93)" fill="#e8a52e" stroke="#e8a52e">G</text><text transform="matrix(0.708 0 0 0.205 221.37 1825.89)" fill="#46d62a" stroke="#46d62a">A</text><text transform="matrix(0.708 0 0 1.370 241.75 1825.25)" fill="#46d62a" stroke="#46d62a">A</text><text transform="matrix(0.726 0 0 1.133 261.66 1819.05)" fill="#2519ea" stroke="#2519ea">C</text><text transform="matrix(0.708 0 0 0.205 262.13 1825.89)" fill="#46d62a" stroke="#46d62a">A</text><text transform="matrix(0.802 0 0 0.959 282.91 1813.71)" fill="#e1241b" stroke="#e1241b">T</text><text transform="matrix(0.726 0 0 0.200 282.04 1819.93)" fill="#2519ea" stroke="#2519ea">C</text><text transform="matrix(0.708 0 0 0.205 282.52 1825.89)" fill="#46d62a" stroke="#46d62a">A</text><text transform="matrix(0.802 0 0 1.370 303.30 1825.25)" fill="#e1241b" stroke="#e1241b">T</text><text transform="matrix(0.726 0 0 0.933 322.81 1813.36)" fill="#2519ea" stroke="#2519ea">C</text><text transform="matrix(0.802 0 0 0.205 323.68 1820.01)" fill="#e1241b" stroke="#e1241b">T</text><text transform="matrix(0.704 0 0 0.200 322.83 1825.81)" fill="#e8a52e" stroke="#e8a52e">G</text><text transform="matrix(0.726 0 0 0.933 343.19 1813.36)" fill="#2519ea" stroke="#2519ea">C</text><text transform="matrix(0.708 0 0 0.411 343.67 1825.77)" fill="#46d62a" stroke="#46d62a">A</text><text transform="matrix(0.726 0 0 0.746 363.57 1808.05)" fill="#2519ea" stroke="#2519ea">C</text><text transform="matrix(0.802 0 0 0.603 364.45 1825.67)" fill="#e1241b" stroke="#e1241b">T</text><text transform="matrix(0.708 0 0 1.370 384.43 1825.25)" fill="#46d62a" stroke="#46d62a">A</text><text transform="matrix(0.704 0 0 0.959 404.37 1814.12)" fill="#e8a52e" stroke="#e8a52e">G</text><text transform="matrix(0.802 0 0 0.384 405.21 1825.79)" fill="#e1241b" stroke="#e1241b">T</text><text transform="matrix(0.708 0 0 1.370 425.20 1825.25)" fill="#46d62a" stroke="#46d62a">A</text></g>
<g font-size="40" font-weight="bold" stroke-width="1.1" stroke-linejoin="round"><text transform="matrix(0.725 0 0 0.879 206.21 1881.23)" fill="#2519ea" stroke="#2519ea">C</text><text transform="matrix(0.802 0 0 0.353 207.08 1891.96)" fill="#e1241b" stroke="#e1241b">T</text><text transform="matrix(0.704 0 0 0.151 206.23 1896.46)" fill="#e8a52e" stroke="#e8a52e">G</text><text transform="matrix(0.708 0 0 0.988 227.05 1883.94)" fill="#46d62a" stroke="#46d62a">A</text><text transform="matrix(0.704 0 0 0.165 226.60 1889.17)" fill="#e8a52e" stroke="#e8a52e">G</text><text transform="matrix(0.725 0 0 0.151 226.58 1893.63)" fill="#2519ea" stroke="#2519ea">C</text><text transform="matrix(0.802 0 0 0.099 227.45 1896.55)" fill="#e1241b" stroke="#e1241b">T</text><text transform="matrix(0.704 0 0 1.057 246.97 1886.31)" fill="#e8a52e" stroke="#e8a52e">G</text><text transform="matrix(0.708 0 0 0.127 247.42 1890.87)" fill="#46d62a" stroke="#46d62a">A</text><text transform="matrix(0.725 0 0 0.110 246.94 1894.07)" fill="#2519ea" stroke="#2519ea">C</text><text transform="matrix(0.802 0 0 0.085 247.81 1896.55)" fill="#e1241b" stroke="#e1241b">T</text><text transform="matrix(0.708 0 0 1.129 267.78 1887.90)" fill="#46d62a" stroke="#46d62a">A</text><text transform="matrix(0.725 0 0 0.137 267.31 1892.43)" fill="#2519ea" stroke="#2519ea">C</text><text transform="matrix(0.704 0 0 0.137 267.33 1896.47)" fill="#e8a52e" stroke="#e8a52e">G</text><text transform="matrix(0.704 0 0 1.167 287.70 1889.44)" fill="#e8a52e" stroke="#e8a52e">G</text><text transform="matrix(0.708 0 0 0.099 288.15 1893.31)" fill="#46d62a" stroke="#46d62a">A</text><text transform="matrix(0.725 0 0 0.110 287.68 1896.50)" fill="#2519ea" stroke="#2519ea">C</text><text transform="matrix(0.704 0 0 0.851 308.07 1880.45)" fill="#e8a52e" stroke="#e8a52e">G</text><text transform="matrix(0.708 0 0 0.494 308.52 1895.12)" fill="#46d62a" stroke="#46d62a">A</text><text transform="matrix(0.802 0 0 0.042 308.91 1896.58)" fill="#e1241b" stroke="#e1241b">T</text><text transform="matrix(0.725 0 0 0.920 328.41 1882.40)" fill="#2519ea" stroke="#2519ea">C</text><text transform="matrix(0.802 0 0 0.233 329.28 1889.81)" fill="#e1241b" stroke="#e1241b">T</text><text transform="matrix(0.704 0 0 0.227 328.43 1896.39)" fill="#e8a52e" stroke="#e8a52e">G</text><text transform="matrix(0.704 0 0 0.920 348.80 1882.40)" fill="#e8a52e" stroke="#e8a52e">G</text><text transform="matrix(0.708 0 0 0.303 349.25 1891.79)" fill="#46d62a" stroke="#46d62a">A</text><text transform="matrix(0.802 0 0 0.120 349.65 1895.32)" fill="#e1241b" stroke="#e1241b">T</text><text transform="matrix(0.725 0 0 0.041 348.78 1896.56)" fill="#2519ea" stroke="#2519ea">C</text><text transform="matrix(0.725 0 0 1.236 369.14 1891.40)" fill="#2519ea" stroke="#2519ea">C</text><text transform="matrix(0.802 0 0 0.141 370.01 1896.52)" fill="#e1241b" stroke="#e1241b">T</text><text transform="matrix(0.802 0 0 1.108 390.38 1887.30)" fill="#e1241b" stroke="#e1241b">T</text><text transform="matrix(0.704 0 0 0.158 389.53 1892.41)" fill="#e8a52e" stroke="#e8a52e">G</text><text transform="matrix(0.725 0 0 0.096 389.51 1895.30)" fill="#2519ea" stroke="#2519ea">C</text><text transform="matrix(0.708 0 0 0.042 389.98 1896.58)" fill="#46d62a" stroke="#46d62a">A</text><text transform="matrix(0.725 0 0 1.236 409.88 1891.40)" fill="#2519ea" stroke="#2519ea">C</text><text transform="matrix(0.704 0 0 0.137 409.90 1896.47)" fill="#e8a52e" stroke="#e8a52e">G</text><text transform="matrix(0.725 0 0 1.126 430.24 1888.27)" fill="#2519ea" stroke="#2519ea">C</text><text transform="matrix(0.704 0 0 0.151 430.27 1893.63)" fill="#e8a52e" stroke="#e8a52e">G</text><text transform="matrix(0.802 0 0 0.099 431.11 1896.55)" fill="#e1241b" stroke="#e1241b">T</text></g>
<text x="1190" y="1541.1" font-size="25" text-anchor="middle">Rank</text>
<text x="1403.7" y="1541.1" font-size="25" text-anchor="middle" textLength="51.5" lengthAdjust="spacingAndGlyphs">Motif</text>
<text x="1616.8" y="1540.6" font-size="25" text-anchor="middle"><tspan font-style="italic">P</tspan>-value</text>
<text x="1741.8" y="1530.7" font-size="25" text-anchor="middle">% of</text>
<text x="1746.4" y="1551.3" font-size="25" text-anchor="middle">Targets</text>
<text x="1876.5" y="1530.7" font-size="25" text-anchor="middle">% of</text>
<text x="1891" y="1551.3" font-size="25" text-anchor="middle">Background</text>
<text x="2050.9" y="1544.6" font-size="25" text-anchor="middle">Best Match</text>
<text x="1181.6" y="1610.3" font-size="25" text-anchor="middle">1</text>
<text x="1181.6" y="1680.2" font-size="25" text-anchor="middle">2</text>
<text x="1181.6" y="1751" font-size="25" text-anchor="middle">3</text>
<text x="1181.6" y="1814.3" font-size="25" text-anchor="middle">4</text>
<text x="1181.6" y="1883" font-size="25" text-anchor="middle">5</text>
<text x="1557.3" y="1610" font-size="25" textLength="115.5" lengthAdjust="spacingAndGlyphs">1.00E-107</text>
<text x="1750" y="1610" font-size="26" text-anchor="middle">80.53%</text>
<text x="1895" y="1610" font-size="26" text-anchor="middle">3.73%</text>
<text x="1557.3" y="1680.5" font-size="25" textLength="102.5" lengthAdjust="spacingAndGlyphs">1.00E-90</text>
<text x="1750" y="1680.5" font-size="26" text-anchor="middle">85.84%</text>
<text x="1895" y="1680.5" font-size="26" text-anchor="middle">7.61%</text>
<text x="1557.3" y="1751.5" font-size="25" textLength="102.5" lengthAdjust="spacingAndGlyphs">1.00E-85</text>
<text x="1750" y="1751.5" font-size="26" text-anchor="middle">56.64%</text>
<text x="1895" y="1751.5" font-size="26" text-anchor="middle">1.48%</text>
<text x="1557.3" y="1813.7" font-size="25" textLength="102.5" lengthAdjust="spacingAndGlyphs">1.00E-76</text>
<text x="1750" y="1813.7" font-size="26" text-anchor="middle">44.25%</text>
<text x="1895" y="1813.7" font-size="26" text-anchor="middle">0.65%</text>
<text x="1557.3" y="1884.4" font-size="25" textLength="102.5" lengthAdjust="spacingAndGlyphs">1.00E-70</text>
<text x="1750" y="1884.4" font-size="26" text-anchor="middle">78.76%</text>
<text x="1895" y="1884.4" font-size="26" text-anchor="middle">8.90%</text>
<text x="2049.3" y="1610.7" font-size="26" text-anchor="middle" font-weight="bold">ZNF263</text>
<text x="2048.2" y="1680.5" font-size="26" text-anchor="middle">Smad4</text>
<text x="2014.5" y="1735.9" font-size="26">Ddit3</text>
<text x="2014.5" y="1766.6" font-size="26">Cebpa</text>
<text x="2050.1" y="1813.7" font-size="26" text-anchor="middle">NFYA</text>
<text x="2049.3" y="1884.4" font-size="26" text-anchor="middle" font-weight="bold">ZNF263</text>
<g font-size="40" font-weight="bold" stroke-width="1.1" stroke-linejoin="round"><text transform="matrix(0.697 0 0 0.791 1272.24 1606.44)" fill="#e8a52e" stroke="#e8a52e">G</text><text transform="matrix(0.795 0 0 0.542 1273.08 1622.40)" fill="#e1241b" stroke="#e1241b">T</text><text transform="matrix(0.719 0 0 1.319 1292.41 1621.46)" fill="#2519ea" stroke="#2519ea">C</text><text transform="matrix(0.795 0 0 1.356 1313.46 1621.95)" fill="#e1241b" stroke="#e1241b">T</text><text transform="matrix(0.719 0 0 1.319 1332.79 1621.46)" fill="#2519ea" stroke="#2519ea">C</text><text transform="matrix(0.719 0 0 1.319 1352.98 1621.46)" fill="#2519ea" stroke="#2519ea">C</text><text transform="matrix(0.795 0 0 1.356 1374.04 1621.95)" fill="#e1241b" stroke="#e1241b">T</text><text transform="matrix(0.701 0 0 0.746 1393.84 1604.83)" fill="#46d62a" stroke="#46d62a">A</text><text transform="matrix(0.719 0 0 0.593 1393.37 1622.14)" fill="#2519ea" stroke="#2519ea">C</text><text transform="matrix(0.701 0 0 1.356 1414.03 1621.95)" fill="#46d62a" stroke="#46d62a">A</text><text transform="matrix(0.719 0 0 1.319 1433.75 1621.46)" fill="#2519ea" stroke="#2519ea">C</text><text transform="matrix(0.719 0 0 0.791 1453.94 1606.44)" fill="#2519ea" stroke="#2519ea">C</text><text transform="matrix(0.795 0 0 0.542 1454.81 1622.40)" fill="#e1241b" stroke="#e1241b">T</text><text transform="matrix(0.697 0 0 0.791 1474.16 1606.44)" fill="#e8a52e" stroke="#e8a52e">G</text><text transform="matrix(0.795 0 0 0.542 1475.00 1622.40)" fill="#e1241b" stroke="#e1241b">T</text><text transform="matrix(0.719 0 0 1.319 1494.32 1621.46)" fill="#2519ea" stroke="#2519ea">C</text></g>
<g font-size="40" font-weight="bold" stroke-width="1.1" stroke-linejoin="round"><text transform="matrix(0.701 0 0 1.063 1289.89 1686.34)" fill="#46d62a" stroke="#46d62a">A</text><text transform="matrix(0.697 0 0 0.292 1289.44 1695.23)" fill="#e8a52e" stroke="#e8a52e">G</text><text transform="matrix(0.719 0 0 1.326 1309.61 1694.25)" fill="#2519ea" stroke="#2519ea">C</text><text transform="matrix(0.719 0 0 1.080 1329.80 1687.27)" fill="#2519ea" stroke="#2519ea">C</text><text transform="matrix(0.795 0 0 0.252 1330.66 1695.36)" fill="#e1241b" stroke="#e1241b">T</text><text transform="matrix(0.719 0 0 1.326 1349.99 1694.25)" fill="#2519ea" stroke="#2519ea">C</text><text transform="matrix(0.719 0 0 1.213 1370.18 1691.04)" fill="#2519ea" stroke="#2519ea">C</text><text transform="matrix(0.795 0 0 0.116 1371.04 1695.44)" fill="#e1241b" stroke="#e1241b">T</text><text transform="matrix(0.697 0 0 1.213 1390.39 1691.04)" fill="#e8a52e" stroke="#e8a52e">G</text><text transform="matrix(0.701 0 0 0.116 1390.84 1695.44)" fill="#46d62a" stroke="#46d62a">A</text><text transform="matrix(0.795 0 0 1.363 1411.42 1694.75)" fill="#e1241b" stroke="#e1241b">T</text><text transform="matrix(0.719 0 0 1.326 1430.75 1694.25)" fill="#2519ea" stroke="#2519ea">C</text><text transform="matrix(0.795 0 0 1.226 1451.80 1690.93)" fill="#e1241b" stroke="#e1241b">T</text><text transform="matrix(0.719 0 0 0.133 1450.94 1695.38)" fill="#2519ea" stroke="#2519ea">C</text><text transform="matrix(0.697 0 0 1.080 1471.15 1687.27)" fill="#e8a52e" stroke="#e8a52e">G</text><text transform="matrix(0.719 0 0 0.245 1471.13 1695.27)" fill="#2519ea" stroke="#2519ea">C</text></g>
<g font-size="40" font-weight="bold" stroke-width="1.1" stroke-linejoin="round"><text transform="matrix(0.720 0 0 1.279 1274.91 1761.02)" fill="#2519ea" stroke="#2519ea">C</text><text transform="matrix(0.796 0 0 0.069 1275.78 1764.16)" fill="#e1241b" stroke="#e1241b">T</text><text transform="matrix(0.796 0 0 1.384 1296.01 1763.44)" fill="#e1241b" stroke="#e1241b">T</text><text transform="matrix(0.699 0 0 1.346 1315.40 1762.93)" fill="#e8a52e" stroke="#e8a52e">G</text><text transform="matrix(0.720 0 0 1.346 1335.61 1762.93)" fill="#2519ea" stroke="#2519ea">C</text><text transform="matrix(0.703 0 0 0.761 1356.32 1745.96)" fill="#46d62a" stroke="#46d62a">A</text><text transform="matrix(0.720 0 0 0.498 1355.85 1760.56)" fill="#2519ea" stroke="#2519ea">C</text><text transform="matrix(0.699 0 0 0.108 1355.87 1764.10)" fill="#e8a52e" stroke="#e8a52e">G</text><text transform="matrix(0.703 0 0 1.384 1376.55 1763.44)" fill="#46d62a" stroke="#46d62a">A</text><text transform="matrix(0.796 0 0 1.384 1397.18 1763.44)" fill="#e1241b" stroke="#e1241b">T</text><text transform="matrix(0.720 0 0 1.252 1416.55 1760.25)" fill="#2519ea" stroke="#2519ea">C</text><text transform="matrix(0.796 0 0 0.097 1417.41 1764.15)" fill="#e1241b" stroke="#e1241b">T</text><text transform="matrix(0.796 0 0 0.692 1437.65 1744.02)" fill="#e1241b" stroke="#e1241b">T</text><text transform="matrix(0.720 0 0 0.538 1436.78 1759.73)" fill="#2519ea" stroke="#2519ea">C</text><text transform="matrix(0.699 0 0 0.135 1436.80 1764.07)" fill="#e8a52e" stroke="#e8a52e">G</text><text transform="matrix(0.720 0 0 1.077 1457.01 1755.27)" fill="#2519ea" stroke="#2519ea">C</text><text transform="matrix(0.796 0 0 0.277 1457.88 1764.05)" fill="#e1241b" stroke="#e1241b">T</text><text transform="matrix(0.699 0 0 0.808 1477.27 1747.60)" fill="#e8a52e" stroke="#e8a52e">G</text><text transform="matrix(0.703 0 0 0.553 1477.72 1763.90)" fill="#46d62a" stroke="#46d62a">A</text><text transform="matrix(0.699 0 0 1.346 1497.50 1762.93)" fill="#e8a52e" stroke="#e8a52e">G</text></g>
<g font-size="40" font-weight="bold" stroke-width="1.1" stroke-linejoin="round"><text transform="matrix(0.703 0 0 1.352 1275.89 1825.96)" fill="#46d62a" stroke="#46d62a">A</text><text transform="matrix(0.703 0 0 1.149 1296.13 1820.26)" fill="#46d62a" stroke="#46d62a">A</text><text transform="matrix(0.699 0 0 0.197 1295.68 1826.51)" fill="#e8a52e" stroke="#e8a52e">G</text><text transform="matrix(0.703 0 0 1.352 1316.37 1825.96)" fill="#46d62a" stroke="#46d62a">A</text><text transform="matrix(0.703 0 0 1.352 1336.61 1825.96)" fill="#46d62a" stroke="#46d62a">A</text><text transform="matrix(0.721 0 0 1.052 1356.38 1817.97)" fill="#2519ea" stroke="#2519ea">C</text><text transform="matrix(0.797 0 0 0.270 1357.25 1826.55)" fill="#e1241b" stroke="#e1241b">T</text><text transform="matrix(0.721 0 0 1.315 1376.62 1825.46)" fill="#2519ea" stroke="#2519ea">C</text><text transform="matrix(0.703 0 0 1.244 1397.34 1822.92)" fill="#46d62a" stroke="#46d62a">A</text><text transform="matrix(0.721 0 0 0.105 1396.86 1826.60)" fill="#2519ea" stroke="#2519ea">C</text><text transform="matrix(0.699 0 0 1.315 1417.13 1825.46)" fill="#e8a52e" stroke="#e8a52e">G</text><text transform="matrix(0.797 0 0 1.149 1438.21 1820.26)" fill="#e1241b" stroke="#e1241b">T</text><text transform="matrix(0.699 0 0 0.197 1437.37 1826.51)" fill="#e8a52e" stroke="#e8a52e">G</text><text transform="matrix(0.721 0 0 1.223 1457.59 1822.84)" fill="#2519ea" stroke="#2519ea">C</text><text transform="matrix(0.797 0 0 0.095 1458.46 1826.65)" fill="#e1241b" stroke="#e1241b">T</text><text transform="matrix(0.703 0 0 1.352 1478.30 1825.96)" fill="#46d62a" stroke="#46d62a">A</text><text transform="matrix(0.699 0 0 1.250 1498.10 1823.59)" fill="#e8a52e" stroke="#e8a52e">G</text><text transform="matrix(0.703 0 0 0.068 1498.54 1826.66)" fill="#46d62a" stroke="#46d62a">A</text></g>
<g font-size="40" font-weight="bold" stroke-width="1.1" stroke-linejoin="round"><text transform="matrix(0.699 0 0 1.017 1306.99 1886.44)" fill="#46d62a" stroke="#46d62a">A</text><text transform="matrix(0.792 0 0 0.339 1307.38 1896.51)" fill="#e1241b" stroke="#e1241b">T</text><text transform="matrix(0.695 0 0 1.319 1326.67 1895.46)" fill="#e8a52e" stroke="#e8a52e">G</text><text transform="matrix(0.695 0 0 1.319 1346.79 1895.46)" fill="#e8a52e" stroke="#e8a52e">G</text><text transform="matrix(0.695 0 0 1.319 1366.92 1895.46)" fill="#e8a52e" stroke="#e8a52e">G</text><text transform="matrix(0.699 0 0 1.356 1387.49 1895.95)" fill="#46d62a" stroke="#46d62a">A</text><text transform="matrix(0.695 0 0 1.319 1407.17 1895.46)" fill="#e8a52e" stroke="#e8a52e">G</text><text transform="matrix(0.695 0 0 1.319 1427.29 1895.46)" fill="#e8a52e" stroke="#e8a52e">G</text><text transform="matrix(0.792 0 0 1.356 1448.25 1895.95)" fill="#e1241b" stroke="#e1241b">T</text></g></svg></body></html>
